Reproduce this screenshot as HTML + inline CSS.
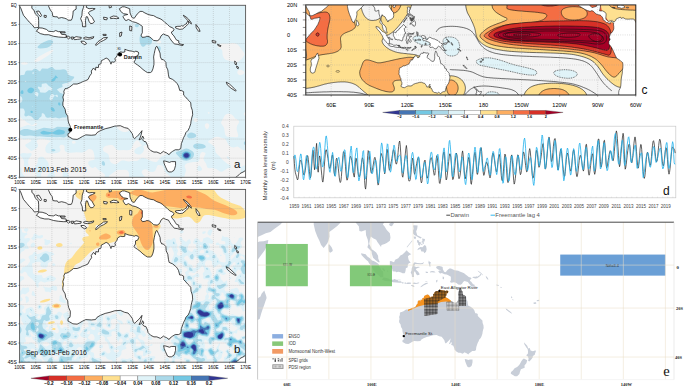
<!DOCTYPE html>
<html><head><meta charset="utf-8"><style>html,body{margin:0;padding:0;background:#fff;}svg{display:block;}</style></head><body>
<svg width="685" height="388" viewBox="0 0 685 388" font-family="Liberation Sans, sans-serif">
<rect width="685" height="388" fill="#fff"/>
<clipPath id="ca"><rect x="19.6" y="5.3" width="226" height="171.99"/></clipPath>
<g clip-path="url(#ca)">
<rect x="19.6" y="5.3" width="226" height="171.99" fill="#f3f3f3"/>
<path d="M18.6,4.3l228,0 0,107.5-1,.2-1,.6-.6,.7-.1,1 .1,.5 .6,.7 1,.4 1,.2 0,17.8-1.2,.4-.6,.5-.1,.5 .4,.5 1.5,.3 0,14.4-2.5-.3-2-.7-1.5-.9-2-1.7-1-.4-4,.9-1.5-.1-1.4-.5-1.1-.7-1.2-1.3-2.3-4.5-1-1.3-1-.5-5-1.5-1.5-.3-1.5,.1-2,.8-5.3,3.2-.6,.5-.2,.5 .2,.5 4.6,3 1.6,1.5 .6,1.5 .4,3.5 .5,1 .8,1 3.3,3 1.5,2 2.1,2 4,3.2 2.5,.9 .5,.4 .5,1 0,1.4-.5,.5-2-.2-1,.2-5,3.3-1,.2-1.5-.3-4-2.3-2-.7-2-.3-3,.2-1-.2-.5-.3-.5-.8-1-3.2-2-3-.5-1.5 0-1 .2-1 1.6-3 .1-1-.4-.5-1-.5-1.5-.2-.8,.2-.7,.4-.7,1.1-.5,2-.4,4-.9,1.6-1,.5-4,0-3.5,.5-2.9,.9-.9,.5-1.1,1-.5,1 0,1 1.1,2.5 .2,1.5-1.4,4.5-.3,3-13.3,0-.2-1-.7-1-3.8-3-1.2-1.5-.7-1.5-1-3-.6-1-.7-.7-1-.4-2-.3-1,.2-.5,.4-.6,.8-1.5,4-.9,1-1,.5-1.5,.2-2-.3-1-.4-2.5-1.8-1-.3-1.5,.2-1.5,.9-.8,1-.1,.5 .1,1 1.3,2.3 2.2,2.2 .2,1-16.5,0 0-4-.2-1.5-.4-1-.7-1-.7-.5-.9-.4-1.5-.1-3,.1-3.5-.1-1.5,.4-7,5.1-.7,1-.2,2-4.4,0 .8-3-.2-.5-.9-1-1.9-1.5-3.9-2.5-2.6-2.8-.5-.1-.5,.2-1.5,.9-1,.1-1-.5-1-.9-1.5-1.9-.3-1-.1-1 .4-1 .4-.5 1.6-.8 3-.4 .5-.2 .4-1.1-.1-3-.9-4-.9-1.6-1.5-.9-1.5-.4-1,.2-3.5,2.5-2,.7-1.5,.1-5-.1-5.5,.5-2.5-.1-2-.5-1.3-.9-.4-.5-.4-1 .1-3-.4-1-1.1-.9-1.5-.2-1.4,.6-.7,1 0,1.5 .8,1.5 .2,1-.4,1-.5,.5-2,.9-2.5,.5-4,.2-3-.2-1.5-.5-.8-.9-.5-1.5 .1-2.5 .5-1.5 .7-1.2 2-2.3 2.1-1.5-.1-.5-6.5-1.8-3-.3-1.5,.2-1.1,.4-1.5,1-.3,.5-.1,1 1.1,2.5 .3,1-.1,1-.6,1-1.2,1.1-3.5,2.2-1,.3-1-.5-4.7-3.6-.6-1-.1-.5 .2-.5 .5-.5 3.6-2 1.4-1 .3-.5 0-.5-.3-.5-.8-.6-1.5-.3-4.5,.6-1-.3-2.7-1.4-1.8-.5 0-9.2 1.5-.3 7.5-2.8 1,0 4,1 1,0 2-.7 1.7-1 0-.5-.8-.5-.9-.2-.7,.2-1.8,1.6-.5,.2-1,.1-2.5-1.7-2.5-1.2-1.9-2-2.6-1.3-1-1.1-1.5-2.4-1-1 0-110.2zM23.1,62.2l-1.7,.6-.4,.5 0,.5 1.1,.7 2,.2 2.5-.2 1.2-.7 0-.5-.6-.5-1.1-.4-1.5-.3-1.5,.1zM52.6,49.8l-1.5,.4-5,2.2-7.5,4.4-2.5,1.9-1,1.1-.6,1-.1,.5 .2,.4 .5,.3 1,0 3-.7 9.5-6 1.5-1.2 2.8-2.8 .6-1-.4-.5-.5,0zM75.6,119.1l-3.9,3.7-.3,.5-.1,1 .8,1.2 2,1.1 2.5,.8 2.1-.1 .9-.6 .7-.9 .3-1-.3-1-2.2-3.6-1.5-1.1-1,0zM95.1,124.2l-2,.9-1.4,1.2-1.4,2-.2,1.5 .6,2.5 1,1.5 1.4,.9 2.5,.3 1-.1 1-.5 2-1.8 2.2-3.3 .3-1 .1-1-.3-1-.3-.5-1.6-1-2.4-.8-1,0-1.5,.2zM118.6,122.7l-1,1-.7,1.1-.3,1 0,1 .5,1 .9,1 1.7,1.5 1.6,1 1.3,.5 1.5,.2 1.5,0 1.5-.3 1.5-.6 1.1-.8 1-1 .6-1 .1-1-.9-1-4.9-2.5-2-.7-2.5-.6-1.5-.1-1,.3zM158.1,40.2l-1,.5-.5,.6 0,1 .3,.5 .7,.5 1,.1 1.5-.2 .8-.4 .3-.5 .1-.5-.6-1-1.1-.6-1.5,0zM162.1,128.7l-2.4,1.1-1.1,.3-4.5,0-1,.4-.5,.4-2.5,3.9-.8,2 0,2 1.1,5 .1,1-.4,.4-.5,.1-3,0-2,.3-.9,.2-.6,.5 .9,2.5-.1,1.5-.7,1.5-.7,1-.9,.8-1,.6-1,.3-1,0-2-.4-1.5-.8-.4-.5-.4-1 .2-1.5 1.2-1.5 1.9-1.2 4.2-1.8-.1-.5-3.1-4.2-.5-.5-1-.4-1,.3-1.4,1.3-1.2,2-1.9,4.5-1,1.1-1.5,.7-2,.2-3.5-.2-4.5,.1-1.5-.2-1-.5-.9-.7-1.6-2.2-1-1-1-.5-1.5-.1-2,.2-2,.5-1.5,.5-.9,.6-.6,.6-.5,.9-.2,1 .2,1 .5,.9 .6,.6 2.9,1.5 1.1,1 .7,1.5 .6,4 1.1,2.1 1,1 1,.6 2,.7 1.5,0 1-.4 3.5-2.7 1.5-.7 2,0 3,.9 1.5,.2 4-.5 3.5,.1 1.5-.4 3.5-2.5 1.5-.4 1,.1 1.5,.3 6,2.7 2.5,.8 2,.4 1-.2 1-.8 3-3.7 1-.9 1-.4 2.5-.7 1-.8 .9-1.3 .5-1.5 0-2-.5-1.5-1.4-1.8-1.5-1-1-.2-.5,.7-.6,1.8-.7,1.5-.7,.8-1,.6-1.5-.1-2.8-1.3-2-1.5-.7-1 0-.5 .5-.4 1.8-.6 3.7-.9 3-.2 .6-.4 .3-1 .3-3.5 1-4.5 .2-2.5-.4-2.5-.5-.8-.5-.3-.5,0zM194.6,118.3l-.8,.5-.2,.5-.1,.5 .3,1 .8,.9 1,.3 .5,0 1-.4 .7-1.3 0-.5-.5-1-1.2-.8-1,.1-.5,.2zM206.6,123.2l-1,.5-.5,.6-.2,.5-.1,1 .3,1.1 1,1.6 .5,.5 .5,.1 1-.6 .8-1.2 .3-1 .1-1-.4-1-.5-.5-.8-.5-1-.1zM208.1,112.2l-.3,.6 .2,.5 .6,.5 .5-.1 .4-.4 .1-.5-.3-.5-.7-.3-.5,.2zM230.6,43.3l-3,.4-5-.2-2,.2-1.5,.5-.8,.6-.5,.5-.3,1 .6,1.1 3,1.9 1,1 .3,1 .1,3 .5,2 1,2 1,1 1.1,.6 2,.7 6,1.1 2.5,.2 2-.5 1.5-.9 1-1 2.5-3.2 .5-1 .3-1-.4-1.5-4.9-6.8-1.5-1.5-1.5-.8-1.5-.4-2-.2-2,.2zM45.1,87.1l-.6,1.7 .1,.6 .5,.1 .5-.6 .1-.6-.1-1.1-.5-.1zM73.6,140.7l-1,.4-.5,.6-.2,.6 .2,.8 .5,.4 1,.2 1-.1 .8-.3 .3-.5-.2-1-.9-.9-1-.2zM227.6,113.8l-1.5,.5-1.5,1.3-1.8,3.7-1.7,3 0,.5 .3,1 2.1,3 .7,1.5 .6,4.5 .5,2 .8,1.3 .5,.4 .9,.3 5.1,.2 3.5,.3 1-.1 .7-.4 .3-.5 .2-1-1.5-5-.2-2.5 .5-2 1.8-3 .2-1-.3-1-.9-1-2.8-1.4-1.9-2.6-1.6-1.4-2-.7-2,.1zM239.6,69.7l-1.4,.6-.7,1-.2,1.5 .3,.8 .5,.7 1,.7 1.5,.2 1.5-.4 1.7-1 .6-1-.2-1-.3-.5-1.8-1.1-1.5-.4-1-.1zM21.9,153.3l1.7-.2 4,.3 3-.3 .5,.1 .5,.6 0,1-.1,.5-2.4,3.3-.9,1.7-.2,2 .5,2.5 0,1-.2,.5-.7,.5-2,.2-1-.2-.6-.5-.1-1 .3-2.5-.3-2-1-2-2.4-3-.4-1 .1-.5 .6-.5 1.1-.5zM40.5,156.8l1.6-.1 1,.3 1,.8 2.9,3 .7,1 .7,1.5 .3,1 0,1.5-.3,1-.8,1-4,2.5-1,1-1.1,1.5-.4,1-.1,1 .6,3.5-5.1,0 .2-3.5-.5-1.5-1.7-3.5-.2-1.5 .4-1 1.6-2 .8-1.5 .5-1.5 .3-3 .3-1 .9-.9 1.4-.6zM226.6,156.8l.5-.2 .5,0 1,.4 1,1.2 0,.9-.5,.3-1-.6-1.1-1-.3-.5-.1-.5zM198.5,165.8l.6-.2 1,.5 1,1.1 .7,1.1 .2,1-.1,.5-.4,.5-.8,.5-1.1,.2-1-.1-.9-.6-.3-.5-.3-1 .1-1 .4-1 .9-1zM243,165.8l1.1-.3 2.5,0 0,12.8-4.3,0-.4-2.5-1.1-4-.1-2 .2-1.5 .5-1 .7-.9 .9-.6zM18.6,167.8l0-.4 1.5,.1 .9,.3 .5,.5 0,3 .4,1.5 .9,1.5 2,2.5 .5,1.5-6.7,0 0-10.5zM51.3,170.8l.8-.2 1,.3 1,1.4 .6,2.5 .2,3.5-7.9,0 .3-1.5 .7-1.5 2.1-3.3 1.2-1.2zM64,171.8l.6-.2 1,0 1,.4 1,.8 .6,1 .4,1 .5,3.5-6.3,0-.1-3 .1-1.5 .3-1 .9-1z" fill="#def1f8" fill-rule="evenodd"/>
<path d="M135.5,24.3l1.1-.4 1.5,.3 .6,.6 .2,.5-.2,1-.4,.5-.7,.4-1,.1-1-.4-.6-.6-.2-.5 .2-1 .5-.5zM141.3,34.8l.8-.1 1,.3 2.5,1.7 1,0 1.5-.6 1-.2 1,.3 .9,.6 .9,1.5 .3,1.5-.3,2.5-.8,1.6-.5,.4-1,.4-3-.2-.5,.3-1.5,1.5-1,.5-1-.1-1-.7-.8-1.2-.7-1.5-.4-1.5-.2-2 .1-2 .3-1.5 .7-1.1 .7-.4zM48.2,40.3l1.9-.3 1.5,.2 1,.6 .6,1-.2,1-.6,1-1.3,1.5-1.5,1.2-1,.6-1.5,.6-3.5,.6-3.5,.2-1.3-.2-1.1-.5-.2-.5 .4-1 2.8-2.5 3.4-1.8 4.1-1.7zM158.8,46.3l.8-.1 .5,.4 .4,.7 .2,1-.2,1.5-.3,1-.6,.7-.5,0-.5-.3-.5-.8-.3-1.6 .2-1.5 .8-1zM50.6,67.3l1-.2 1,.2 1.9,2 1.1,.4 4.5,0 3-.4 2,.3 1,.6 .5,.6 .5,1 .5,2 .5,.7 3,1.5 2.5,.4 .6,.4-.1,1-.5,.8-3,2.9-3.5,1.4-2,.3-2.5,.8-.4,.3 0,.5 .4,1.5-.1,.5-.4,.5-2.5,.7-2.4,1.3 0,.5 .3,.5 1.1,.9 1.4,1.6 2.1,.8 2,1.6 5,2.6 1,1 .1,.5-.2,.5-1,1-.5,1 .4,2.5 1,2 0,1-.6,1-1.5,1.5-.4,1-.2,1 .3,2.5-.9,2.9-.5,.4-.5,0-3-.1-3.5,.9-3.5-.9-2.5,.5-1-.1-1.5-.6-2,.4-1.5,0-.9-.4-.6-.5-.8-2-.7-.9-1-.6-1-.1-.4,.6 0,1.5-.2,1-.5,.5-1.4,1-1.5,2-1.5,.3-1-.1-1-.3-2.8-2.9-1.7-.9-1.5-.3-2.5,.9-1-.2-.5-.5-.3-1 .5-2 .1-1-.7-2-.6-1-1-.4-2.5,.2-1.5-.6 0-2.6 .5-1.6 .5-.7 1.5-.7 .5-.5 .7-1.6 .1-1-.6-2-.7-.9-.5-.2-2-.1 0-4.6 .4-.7 .1-1-.1-1-.4-1 0-11.2 2.5-1.5 2-.1 1-.2 .5-.5 .8-2.5 .7-.8 1-.4 5,0 1.3-1.3 .9-.5 .8-.1 1,.2 .8,.4 2.2,1.8 .5,.2 .5-.1 .4-.4 1.1-1.8 .5-.4 1-.1 4.5,.3 3-1.5zM56.6,94.7l-1.3,.6-.1,.5 1.4,1 1.1,.5 .2-.5-.3-1.5-.5-.6-.5,0zM25.6,80.7l-.5,.3-.1,.3 .1,.6 .5,.2 .5-.3 0-.5-.5-.6zM33.1,71.8l-.5,.6-.1,.9 .1,.7 .5,.3 .5-.6 .1-.9-.1-.5-.5-.5zM35.6,92.2l-.7,.6-.3,.5 .1,1 .9,1.1 1.5,1.2 .5,.1 .8-1.9 0-1.5-.4-.5-.9-.6-.5-.2-1,.2zM42.6,83.7l-.5,.1-.4,.5 0,2-.1,.5-.5,.4-.5,0-2-.7-.5,.2-.3,.6 .2,1 1.6,1.8 .3,1.7 .2,.5 1,.3 4,.1 1.5-.6 2-1.9 .5-.2 2,.4 .5,0 .5-.4 .3-1.2-.7-1-3.1-2.1-2-2.1-1-.3-3,.4zM32.6,106.1l-.2,.2 .2,.5 .5-.2 0-.3-.5-.2zM51.6,94.2l-1.2,1.1-1,3.5 .6,1 1.1,.6 .5-.1 .5-.4 1.5-2.8 1-1.2 .2-.1-.3-.5-1.4-1.1-1-.2-.5,.2zM67.9,87.3l1.2,.1 .5,.7 0,.7-1.3,1.5-.7,.4-.5,0-.5-.1-.9-.8-.5-1 .1-.5 .8-.6 1.8-.4zM87.3,102.3l.8-.3 1.3,.3 .7,.6 .1,.9-.5,.5-.6,.2-1,.1-.5-.2-.7-.6-.1-.5 .1-.5 .4-.5zM95,109.8l1.1-.3 1,.3 1,.7 1,1.3 .6,1 .4,1.5 0,1-.6,1-1.4,.2-3.5-.6-1-.4-.5-.5-.3-.7-.2-1 .3-1.5 .8-1 1.3-1zM173.5,110.3l2.1-.4 1,.2 1,.8 .5,1.9-.4,7.5-.7,2.5-2,4.5-.2,1.5 .1,1.5 .9,2 2.3,3.8 1.5,1.8 2.5,1.9 .5,.7 .1,.8-.2,.5-.9,.4-2.5-.1-2,.6-1.5,1-2,1.9-1,.5-.5-.1-1-.4-1.5-1.3-1.4-2-.9-2-.4-2-.1-2.5 .3-2.5 1.1-4.5 0-2.5-1-2.5-2.7-4.5-1.9-4.3-.3-1.2 .2-1 .6-1 1-.9 1-.4 1.5-.2 4.5,.3 2.4-.3zM70.8,112.3l.3-.2 .5,.2 0,.8-.5,.4-.5-.7 .2-.5zM135.5,116.3l.6-.4 .5,0 .6,.4 .1,1-.7,1-.5,.2-.5-.1-.5-.6 0-.6 .4-.9zM57.4,126.8l10.7,.4 1,.5 5.4,4.1 .5,.5 .2,.5-.2,.5-.9,.6-3,.2-1.5,.4-2,1-2.5,1.8-1.5,.3-3.5-.5-3.5,.2-5-.4-4.5,.1-7.5-.7-3.5,.3-3.5-.8-3-.3-5.5,.4-2-.5-3.5-1.6 0-2.2 3.5-1.8 2-.7 2-.2 1.5,.1 5.5,1.4 1.5,.1 3-.7 6-2 1,0 2,.3 6,.6 1.9-.4 2.1-1.3 .8-.2zM190,132.8l1.1-.2 1.5,.1 2,.8 1,.8 .6,1 0,1-.3,.5-.6,.5-1.2,.5-2.5,.5-2,0-1.5-.6-.8-.9-.2-.5 .2-1.5 1.3-1.4 1.4-.6zM244.9,141.3l1.7-.5 0,5-1.5-.5-.6-.5-.6-1-.1-1 .2-.5 .9-1zM195.6,143.8l1.5-.3 1.5,0 3.5,.6 1.5,.5 1.3,.7 .5,.5 .4,1-.1,.5-.6,.5-2,.7-5,.6-2.5-.3-1.7-1-.6-1-.1-.5 .2-1 .4-.5 .8-.6 1-.4zM184.9,148.8l1.7-.3 2,.6 3.5,1.9 .9,.8 .7,1 .3,1 0,1-.6,2-1.1,1.5-1.7,1.2-2,.8-2,.4-2-.1-1.5-.4-2.2-1.4-4.8-5-.2-.5 0-.5 .3-.5 .8-.5 3.1-1 4.8-2zM52.1,149.3l1.5-.2 1,.3 .6,.4 .2,.5-.2,.5-1.1,.5-1,.1-1-.3-.6-.3-.2-.5 .1-.5 .7-.5zM102.6,161.3l.5-.2 .5,.1 .6,.6 .6,1 .2,1 0,1-.4,.6-.5,.3-.5,0-1-.4-.7-1-.2-1.5 .4-1 .5-.5z" fill="#abd9e9" fill-rule="evenodd"/>
<path d="M55.1,75.8l.5-.3 .5,.2 1.8,2.1-.3,.4-1-.1-.5,.2-.5,.6-.5,1.4-1.2,1-1.3,.5-1,0-.3-.5 0-.5 .4-1 .9-1.1 1.9-1.4 .6-1.5zM29.8,87.8l1.3-.2 1.5,.5 1.1,.7 .6,1-.1,.5-.5,1-1.1,1.2-1,.7-1,.1-1.5-.4-1-.6-.7-1 0-1 .2-.5 1-1.2 1.2-.8zM21.8,90.3l.8,0 .5,.4 .2,.6 .2,1-.2,1-.2,.4-.5,.3-1.5-.2-.6-.5-.1-.5 .5-1.5 .9-1zM58.3,102.8l.3-.4 .5-.1 1,.8 .5,1.2-.1,.5-.4,.6-.5,.2-.5-.1-.8-.7-.2-1 .2-1zM51.4,107.3l.7-.1 .5,.2 1.2,.9 .8,1.5 .2,1-.2,.5-.5,.3-1-.1-1-.4-.8-.8-.6-1.5 .2-1 .5-.5zM31,110.8l.6,0 1,.5 .3,.5 0,.5-.3,.5-1,.3-.5-.2-.5-.5-.1-1.1 .5-.5zM57.3,129.8l1.3-.4 1,0 4,1.2 1.1,.7 .2,.5-.1,1-.7,.9-1,.6-5,.4-2.5-.3-3.5-1-4,1-5,0-1.9-.6-.6-.5-.2-.5 .1-.5 1.1-.9 2-.6 1,.1 3,.8 4,.6 1-.1 4.7-2.4zM185.6,151.3l2,.1 1.5,.6 1.1,.8 .9,1.5 .1,1.5-.6,1.5-1,1-1.5,.8-2,.3-2-.5-1.4-1.1-.9-1.5-.1-1.5 .6-1.5 1.3-1.3 2-.7z" fill="#74c8e3" fill-rule="evenodd"/>
<path d="M184.7,152.8l.9-.3 1.5-.1 1,.4 1,.7 .5,.8 .3,1-.2,1-.6,1-1,.7-1.5,.4-1.5-.2-1.3-.9-.7-1-.1-1.5 .6-1.1 1.1-.9z" fill="#4575b4" fill-rule="evenodd"/>
<path d="M184.9,153.8l.7-.3 1-.2 1,.3 .5,.4 .5,.7 .2,.6-.2,1-.4,.5-.6,.5-1,.2-1-.1-1-.6-.3-.5-.3-1 .4-1 .5-.5z" fill="#313695" fill-rule="evenodd"/>
<path d="M156.83,46.2 L158.45,49.25 L160.06,53.07 L160.38,56.9 L161.68,59.57 L163.29,59.57 L165.87,62.25 L166.2,66.45 L167.81,69.89 L168.46,74.86 L169.1,77.92 L172.65,79.45 L175.88,82.12 L177.18,83.65 L178.47,85.94 L179.76,90.53 L181.37,90.53 L183.63,91.68 L183.63,95.12 L185.25,96.65 L187.51,99.32 L189.12,100.85 L190.74,102.76 L191.06,106.58 L192.35,110.41 L192.67,114.61 L191.71,118.05 L191.06,121.11 L190.74,123.78 L189.45,127.6 L188.15,130.28 L185.89,132.57 L184.92,135.25 L183.63,137.54 L182.66,140.22 L181.37,143.66 L180.73,148.62 L178.47,149.77 L175.24,149.77 L172.65,151.3 L170.07,153.21 L169.1,154.74 L166.52,152.83 L164.58,152.06 L163.61,151.3 L162.97,151.68 L160.38,153.59 L156.83,152.06 L153.93,152.06 L150.7,150.54 L148.11,147.86 L147.47,145.19 L145.85,141.75 L143.92,141.36 L142.62,139.83 L143.92,138.31 L142.62,136.01 L141.66,138.69 L139.07,139.83 L140.36,137.16 L141.33,134.1 L141.98,130.66 L140.04,133.34 L138.1,135.25 L135.84,137.54 L134.55,138.69 L133.26,137.16 L132.29,133.72 L130.03,130.66 L128.09,128.37 L124.54,127.6 L120.34,125.69 L114.86,126.08 L110.01,127.6 L105.17,128.75 L100.33,130.66 L97.1,132.57 L95.48,134.87 L91.28,135.25 L85.79,134.87 L82.57,136.39 L79.34,138.31 L77.08,139.45 L72.88,139.07 L69.65,137.16 L68.03,136.39 L68.03,133.72 L69.97,132.57 L70.3,129.52 L70.3,126.46 L68.68,123.02 L68.03,119.96 L67.71,116.14 L65.77,113.08 L65.13,109.26 L62.87,105.44 L62.87,102.76 L63.51,100.09 L62.87,97.03 L64.16,93.21 L63.84,91.3 L65.13,88.62 L66.74,88.62 L69.65,87.09 L73.52,84.03 L77.08,84.03 L80.31,82.89 L82.57,81.74 L85.79,80.59 L88.05,79.45 L89.67,76.01 L91.61,73.33 L91.28,71.04 L93.54,67.98 L95.48,70.27 L95.8,67.22 L98.39,67.6 L98.71,64.54 L100.97,63.78 L101.29,60.72 L103.55,59.57 L106.14,58.04 L108.4,59.19 L110.33,62.25 L110.98,64.16 L111.63,61.87 L114.21,62.25 L115.5,60.72 L114.86,58.81 L117.12,55.75 L117.44,53.84 L119.05,52.69 L120.67,51.93 L122.93,52.31 L124.87,51.93 L124.87,49.25 L126.8,50.02 L129.06,50.78 L131.97,51.16 L134.23,51.93 L135.84,51.16 L138.1,51.93 L138.75,53.07 L137.78,55.75 L135.52,56.51 L135.52,59.57 L133.91,62.25 L135.2,63.39 L137.46,64.92 L140.04,66.83 L142.95,69.51 L145.53,71.42 L147.47,72.57 L150.37,72.57 L151.67,71.8 L152.96,68.75 L153.93,64.54 L153.93,60.72 L153.6,56.9 L154.25,53.46 L154.9,50.4 L155.86,46.96Z M163.61,160.86 L165.87,161.24 L169.43,162.38 L171.36,161.62 L175.56,161.62 L175.56,165.44 L174.59,168.88 L173.95,170.41 L171.36,171.94 L169.1,171.94 L167.49,171.17 L165.55,166.97 L164.26,163.91Z M119.38,8.74 L122.28,6.83 L124.54,6.83 L127.77,7.98 L129.71,8.74 L130.03,12.94 L131.97,17.53 L134.23,18.29 L137.14,14.09 L140.04,11.42 L142.3,11.42 L144.89,12.94 L148.11,14.47 L151.02,15.24 L153.6,15.62 L156.83,17.53 L160.06,18.68 L162.64,20.21 L164.91,22.5 L167.49,24.41 L169.75,26.7 L172.65,27.85 L173.95,29.38 L173.3,30.91 L171.36,32.05 L172.01,33.96 L173.95,35.88 L175.24,38.17 L176.53,40.08 L178.79,40.84 L178.79,43.14 L181.05,44.28 L183.63,44.67 L182.02,45.81 L180.08,45.05 L177.18,44.28 L174.27,43.9 L172.65,41.99 L171.04,40.08 L169.75,38.17 L168.46,35.88 L165.87,35.11 L163.29,33.96 L161.03,35.88 L160.06,38.17 L159.09,39.7 L157.16,40.84 L153.6,40.46 L151.34,38.17 L149.08,36.64 L146.82,36.26 L145.21,37.02 L142.3,37.4 L141.01,35.11 L142.3,32.82 L142.3,26.32 L139.07,24.03 L135.84,22.5 L132.62,21.73 L128.42,19.44 L126.16,20.59 L125.19,20.21 L122.93,16.77 L124.22,15.24 L127.77,14.47 L126.16,14.09 L123.57,13.71 L120.67,11.42Z M175.56,26.7 L177.82,26.32 L180.4,26.32 L181.7,25.56 L182.99,26.32 L184.92,24.41 L186.22,24.03 L187.51,21.35 L188.8,21.73 L188.48,23.65 L185.89,26.32 L182.66,29 L179.76,29.38 L177.18,28.61 L175.56,27.85Z M183.31,15.24 L185.89,16.77 L188.48,19.06 L191.06,22.5 L191.38,24.03 L190.09,22.88 L187.51,20.21 L184.28,16.77Z M195.9,24.41 L198.81,28.23 L200.1,31.29 L198.49,31.29 L196.23,27.85Z M226.26,82.12 L229.49,84.03 L234.33,88.62 L236.27,90.53 L235.3,90.91 L231.1,88.24 L227.22,84.8Z M254.35,160.09 L259.51,162.77 L258.22,166.59 L255.32,169.65 L255.64,172.7 L249.83,174.61 L248.21,178.44 L247.57,180.73 L244.02,183.41 L240.46,183.41 L238.2,182.26 L234.33,180.35 L234.65,178.05 L237.56,176.14 L240.14,173.47 L244.02,171.56 L247.24,168.88 L249.5,165.82 L250.47,163.91 L252.41,161.62Z M254.35,136.78 L256.61,139.07 L259.51,142.13 L261.13,145.95 L263.39,145.19 L264.68,149.01 L268.23,150.15 L271.46,149.01 L273.08,149.39 L271.46,153.59 L271.14,155.12 L268.23,156.65 L267.91,158.94 L265.65,161.62 L262.74,164.3 L260.81,163.15 L261.78,160.47 L260.48,157.42 L257.9,155.5 L260.48,153.59 L260.81,150.54 L260.16,146.71 L258.22,144.42 L255.32,140.22Z M36.39,31.29 L38.97,27.85 L42.2,28.04 L46.4,29.38 L48.66,31.29 L53.5,31.67 L55.76,30.53 L58.35,31.67 L60.29,31.67 L61.58,34.35 L66.1,34.73 L66.42,37.4 L63.19,37.4 L58.35,37.02 L53.5,36.26 L48.66,34.73 L44.79,34.73 L40.27,33.58 L37.36,31.67Z M60.61,31.67 L65.13,31.86 L65.13,32.82 L60.61,32.82Z M66.1,36.26 L68.36,36.26 L70.3,37.4 L68.68,38.93 L66.74,37.4Z M71.26,37.02 L73.52,37.02 L72.88,39.32 L71.26,38.93Z M73.85,37.79 L76.11,36.64 L78.37,37.02 L81.27,37.4 L80.95,38.93 L77.72,39.32 L74.49,39.7 L73.85,38.55Z M83.53,37.79 L85.79,37.02 L89.02,37.79 L92.25,37.02 L93.87,36.64 L93.22,38.17 L90.64,38.93 L87.41,39.32 L84.18,38.93Z M80.95,41.23 L84.18,41.23 L86.76,43.52 L84.83,44.67 L81.6,42.76Z M95.48,44.67 L98.06,41.61 L100.97,39.7 L103.55,37.79 L107.43,37.4 L106.78,38.55 L103.55,40.46 L100.33,41.99 L97.74,44.28 L95.8,45.43Z M102.91,34.35 L106.14,34.35 L106.14,35.49 L103.23,35.49Z M119.7,32.82 L121.96,32.05 L121.31,35.88 L119.7,36.64Z M129.71,25.94 L131.97,26.7 L131.65,30.91 L129.71,30.53Z M110.01,17.53 L113.24,16 L116.47,16.38 L119.05,18.29 L116.47,18.68 L113.24,18.29 L110.66,18.68Z M103.55,17.15 L107.43,17.91 L106.78,19.82 L103.88,19.44Z M108.4,-3.11 L110.01,-0.43 L112.27,0.33 L110.01,1.86 L112.6,3.39 L110.01,4.15 L111.63,7.21 L109.37,7.98 L108.72,3.39 L107.75,1.48Z M86.76,0.33 L90.64,1.48 L95.48,1.86 L98.71,1.48 L100.97,-0.82 L99.68,3.39 L95.48,3.77 L90.64,3.39 L87.41,3.39 L86.12,7.21 L89.02,8.74 L92.25,8.36 L95.16,8.74 L92.58,10.27 L89.67,11.42 L88.38,12.94 L89.99,15.24 L92.25,17.53 L94.51,21.73 L92.9,23.26 L90.64,23.65 L89.02,21.35 L87.41,16.77 L86.12,16.77 L85.47,20.59 L85.79,26.7 L82.57,26.7 L82.24,22.5 L80.63,18.68 L81.92,15.62 L82.24,11.03 L83.53,7.21 L84.18,3.39Z M48.66,-1.58 L50.6,-2.34 L51.89,-1.2 L55.12,-0.05 L56.73,-4.25 L59.96,-6.17 L61.58,-6.93 L64.81,-12.28 L68.03,-13.81 L71.26,-17.63 L74.49,-21.45 L76.11,-19.54 L77.72,-17.63 L81.6,-14.57 L78.69,-13.05 L76.43,-10.75 L77.08,-6.17 L77.72,-3.49 L80.63,1.1 L77.72,1.86 L76.11,5.3 L76.11,9.12 L73.2,11.03 L72.88,14.86 L72.23,18.29 L71.26,20.21 L68.03,20.21 L66.74,19.06 L64.81,18.29 L61.58,17.53 L58.35,18.29 L57.38,16.77 L55.12,16.77 L52.86,16.38 L52.21,12.56 L50.28,9.89 L48.66,6.45 L48.66,3.39Z M4.42,-16.1 L11.53,-14.57 L14.11,-10.37 L17.99,-6.93 L21.21,-3.11 L23.8,-2.34 L26.06,-0.82 L29.29,1.48 L31.87,4.15 L31.87,8.36 L33.81,9.89 L35.42,14.09 L38.33,16.77 L38.65,20.59 L38.65,27.47 L36.39,27.47 L34.45,27.85 L32.52,25.17 L29.29,22.12 L27.03,19.44 L23.47,15.24 L21.86,11.03 L20.57,7.59 L18.63,4.54 L16.37,1.48 L15.4,-1.2 L12.17,-4.25 L8.3,-8.84 L5.07,-13.05Z M36.39,11.42 L38.97,11.03 L41.56,15.24 L40.59,16.77 L38.33,14.47Z M44.14,15.24 L46.4,15.62 L46.08,17.53 L44.14,17.15Z M90.64,-21.45 L92.25,-25.28 L95.48,-27.57 L98.71,-27.19 L101.94,-31.01 L104.2,-29.1 L105.17,-23.36 L104.2,-18.78 L101.62,-16.1 L100.33,-19.54 L97.1,-19.54 L95.48,-23.75 L93.22,-22.98Z M212.05,40.46 L215.92,41.23 L215.6,43.14 L212.37,42.37Z M217.54,44.28 L221.09,45.81 L220.44,46.58 L217.86,45.43Z M234.65,61.1 L236.59,62.63 L236.27,64.92 L234.97,64.16Z M236.59,66.07 L238.53,67.22 L238.2,68.75 L236.91,67.98Z" fill="#fff" stroke="#111" stroke-width="0.75" stroke-linejoin="round"/>
<path d="M35.75,5.3V177.29 M51.89,5.3V177.29 M68.03,5.3V177.29 M84.18,5.3V177.29 M100.33,5.3V177.29 M116.47,5.3V177.29 M132.62,5.3V177.29 M148.76,5.3V177.29 M164.91,5.3V177.29 M181.05,5.3V177.29 M197.19,5.3V177.29 M213.34,5.3V177.29 M229.49,5.3V177.29 M19.6,24.41H245.6 M19.6,43.52H245.6 M19.6,62.63H245.6 M19.6,81.74H245.6 M19.6,100.85H245.6 M19.6,119.96H245.6 M19.6,139.07H245.6 M19.6,158.18H245.6" stroke="#9a9a9a" stroke-width="0.5" stroke-dasharray="0.7,1.3" fill="none"/>
</g>
<rect x="19.6" y="5.3" width="226" height="171.99" fill="none" stroke="#555" stroke-width="0.9"/>
<path d="M18.4,5.3H19.6" stroke="#333" stroke-width="0.5"/>
<path d="M18.4,24.41H19.6" stroke="#333" stroke-width="0.5"/>
<path d="M18.4,43.52H19.6" stroke="#333" stroke-width="0.5"/>
<path d="M18.4,62.63H19.6" stroke="#333" stroke-width="0.5"/>
<path d="M18.4,81.74H19.6" stroke="#333" stroke-width="0.5"/>
<path d="M18.4,100.85H19.6" stroke="#333" stroke-width="0.5"/>
<path d="M18.4,119.96H19.6" stroke="#333" stroke-width="0.5"/>
<path d="M18.4,139.07H19.6" stroke="#333" stroke-width="0.5"/>
<path d="M18.4,158.18H19.6" stroke="#333" stroke-width="0.5"/>
<path d="M18.4,177.29H19.6" stroke="#333" stroke-width="0.5"/>
<path d="M19.6,177.29V178.49" stroke="#333" stroke-width="0.5"/>
<path d="M35.75,177.29V178.49" stroke="#333" stroke-width="0.5"/>
<path d="M51.89,177.29V178.49" stroke="#333" stroke-width="0.5"/>
<path d="M68.03,177.29V178.49" stroke="#333" stroke-width="0.5"/>
<path d="M84.18,177.29V178.49" stroke="#333" stroke-width="0.5"/>
<path d="M100.33,177.29V178.49" stroke="#333" stroke-width="0.5"/>
<path d="M116.47,177.29V178.49" stroke="#333" stroke-width="0.5"/>
<path d="M132.62,177.29V178.49" stroke="#333" stroke-width="0.5"/>
<path d="M148.76,177.29V178.49" stroke="#333" stroke-width="0.5"/>
<path d="M164.91,177.29V178.49" stroke="#333" stroke-width="0.5"/>
<path d="M181.05,177.29V178.49" stroke="#333" stroke-width="0.5"/>
<path d="M197.19,177.29V178.49" stroke="#333" stroke-width="0.5"/>
<path d="M213.34,177.29V178.49" stroke="#333" stroke-width="0.5"/>
<path d="M229.49,177.29V178.49" stroke="#333" stroke-width="0.5"/>
<path d="M245.63,177.29V178.49" stroke="#333" stroke-width="0.5"/>
<text x="10.9" y="7.2" font-size="5.3" textLength="5.9" lengthAdjust="spacingAndGlyphs">EQ</text>
<text x="11.2" y="26.31" font-size="5.3" textLength="5.6" lengthAdjust="spacingAndGlyphs">5S</text>
<text x="7.8" y="45.42" font-size="5.3" textLength="9.0" lengthAdjust="spacingAndGlyphs">10S</text>
<text x="7.8" y="64.53" font-size="5.3" textLength="9.0" lengthAdjust="spacingAndGlyphs">15S</text>
<text x="7.8" y="83.64" font-size="5.3" textLength="9.0" lengthAdjust="spacingAndGlyphs">20S</text>
<text x="7.8" y="102.75" font-size="5.3" textLength="9.0" lengthAdjust="spacingAndGlyphs">25S</text>
<text x="7.8" y="121.86" font-size="5.3" textLength="9.0" lengthAdjust="spacingAndGlyphs">30S</text>
<text x="7.8" y="140.97" font-size="5.3" textLength="9.0" lengthAdjust="spacingAndGlyphs">35S</text>
<text x="7.8" y="160.08" font-size="5.3" textLength="9.0" lengthAdjust="spacingAndGlyphs">40S</text>
<text x="7.8" y="179.19" font-size="5.3" textLength="9.0" lengthAdjust="spacingAndGlyphs">45S</text>
<text x="14.25" y="183.99" font-size="5.2" textLength="10.7" lengthAdjust="spacingAndGlyphs">100E</text>
<text x="30.4" y="183.99" font-size="5.2" textLength="10.7" lengthAdjust="spacingAndGlyphs">105E</text>
<text x="46.54" y="183.99" font-size="5.2" textLength="10.7" lengthAdjust="spacingAndGlyphs">110E</text>
<text x="62.68" y="183.99" font-size="5.2" textLength="10.7" lengthAdjust="spacingAndGlyphs">115E</text>
<text x="78.83" y="183.99" font-size="5.2" textLength="10.7" lengthAdjust="spacingAndGlyphs">120E</text>
<text x="94.98" y="183.99" font-size="5.2" textLength="10.7" lengthAdjust="spacingAndGlyphs">125E</text>
<text x="111.12" y="183.99" font-size="5.2" textLength="10.7" lengthAdjust="spacingAndGlyphs">130E</text>
<text x="127.27" y="183.99" font-size="5.2" textLength="10.7" lengthAdjust="spacingAndGlyphs">135E</text>
<text x="143.41" y="183.99" font-size="5.2" textLength="10.7" lengthAdjust="spacingAndGlyphs">140E</text>
<text x="159.56" y="183.99" font-size="5.2" textLength="10.7" lengthAdjust="spacingAndGlyphs">145E</text>
<text x="175.7" y="183.99" font-size="5.2" textLength="10.7" lengthAdjust="spacingAndGlyphs">150E</text>
<text x="191.84" y="183.99" font-size="5.2" textLength="10.7" lengthAdjust="spacingAndGlyphs">155E</text>
<text x="207.99" y="183.99" font-size="5.2" textLength="10.7" lengthAdjust="spacingAndGlyphs">160E</text>
<text x="224.14" y="183.99" font-size="5.2" textLength="10.7" lengthAdjust="spacingAndGlyphs">165E</text>
<text x="240.28" y="183.99" font-size="5.2" textLength="10.7" lengthAdjust="spacingAndGlyphs">170E</text>
<text x="23.9" y="171.75" font-size="6.8" fill="#111" textLength="62.5" lengthAdjust="spacingAndGlyphs">Mar 2013-Feb 2015</text>
<text x="234" y="167.59" font-size="11.5" fill="#111">a</text>
<circle cx="120" cy="54.5" r="2.1" fill="#000"/>
<text x="123.8" y="58.7" font-size="5.45" font-weight="bold" fill="#1a1a1a">Darwin</text>
<text x="117.4" y="50.3" font-size="2.6" fill="#111">ED</text>
<circle cx="70.3" cy="129.7" r="2.0" fill="#000"/>
<text x="74" y="129.3" font-size="5.5" font-weight="bold" fill="#1a1a1a">Freemantle</text>
<clipPath id="cb"><rect x="19.6" y="189.4" width="226" height="172.8"/></clipPath>
<g clip-path="url(#cb)">
<rect x="19.6" y="189.4" width="226" height="172.8" fill="#f3f3f3"/>
<path d="M18.6,227.9l0-.3 1,.2 1.6,1.1 .7,1-.1,1.5 .3,.7 .5,.3 2,.5 1,0 .9-.5-.3-.5-2.1-1.5-.3-.5 0-.5 .4-.5 .9-.5 1-.2 1,.1 1,.6 .3,.5-.1,.5-1.6,2-.1,.5 .7,1 .2,.5-.2,.5-2.2,1.5-.6,1-.1,1 .4,.5 .8,.2 2-.7 1,0 1.5,.5 .2,.5-1.1,2-1.7,1.5-.6,1 .1,1.5 1.7,2.5 .1,1-.7,.5-2.5,.1-1,.4-.9,1.5-2.1,.9-1.6,2.6-.6,.5-.8,.3 0-19.5 .4-.8 .1-.5-.2-1-.3-.4 0-5.1zM210,229.4l1.6,0 .6,.5 .3,1-.9,2-.6,2-.4,.6-.5,.2-1-.4-1-.7-.4-.7-.3-1 .3-1 .9-1.5 .4-.5 1-.5zM180.7,230.4l.9-.3 1.1,.3 .9,1 .1,.5-.3,.5-.8,.6-1,.4-1-.2-.5-.3-.3-.5 0-1 .9-1zM203.3,231.4l1.8-.1 .5,.1 .3,.5-.5,1-1.3,.8-1,.3-.5-.2-.2-.4-.1-1 .3-.6 .7-.4zM33.9,233.9l.7-.3 1,.1 2.5,1.7 1,.3 1-.1 1.5-.7 .9,0 .5,1 0,1-.4,.7-2,.8-3-.1-1.5,.3-.6,.3-1.4,1.4-.5,.2-.5-.2-2.1-1.9 .3-.5 1.9-1.5 .4-2 .3-.5zM222.2,235.9l.4-.3 1,1 1,.5 2.5,0 1,.3 2.5,2.3 .6,2.2 .5,1 .9,.9 1,.4 1.2-.3 1.3-1 2.4-3.5 .2-1 .4-.3 1.5-.5 1-.2 1.3,.5 .4,.5 0,1-1.7,1.5-.6,1-.3,1 .2,1 1,1.5 .2,1.5-.6,1-2.8,2-.4,1 .2,.5 3.1,3.2 2.5,.3 2.5-.1 0,26.2-1,.2-.1,1.7-.4,1-.5,.8-1,.4-2,0-2.1,.3-.4-.2-.6-1.8-.9-1.1-1-.4-1.5,0-.3-.5 0-.5 .8-1.1 1-3 2.1-1.9 1.9-1.3 .4-.7 0-1-.4-.8-2-1.9-2.7,2.7-.1,.5 .8,2-.1,1-.4,.4-.5-.1-.5-.6-1-1.7-.5-.3-2.5,.1-2-1-1.2-.3-.6-.5-.7-1.3-.5-.3-1-.3-.5,.1-.5,.3-.2,1 .2,.7 .5,.7 1.3,.6 .2,.5-.4,.5-1.6,.8-1,.2-2.5-1-.5,.1-.3,.4-.1,.5 .9,2 .2,2 .2,.5 1.6,1.3 .9,1.2 .6,.2 .5-.1 1.1-1.1 .9-.5 .5,.4 .1,2.1 .8,3-.4,.5-2,1-.9,1-.2,.5 .1,1 .5,1 .5,.5 1,.2 2.5-.3 .6-.4 .9-1.5 .5-.5 3-.3 2-.9 1,.1 1,1 .7,1.1 .3,2.1 .5,.4 1.5-.3 .5,0 .5,.4 1,1 1.8,2.4 .7,1.6 .3,.4 .7,.2 0,5.4-.8,.4-.7,1-1.2,4 .2,.8 .5,.2 2-.8 0,1.5-1.5-.1-2,1.1-.3-.2-.5-1.5-.7-.8-1-1.7-.5-.3-.5-.1-2,.6-.5-.1-1-1-1.6-2.1-.8-2.5-1.1-.8-1-.3-.5,.1-.5,.3-.5,1.2 .3,1 1.3,1.5 0,1-.6,2.6-.5,.4-1.7,.5-1.8,.8-1.5-.8-1.5-.2-1.2,.7-.4,.5-.2,1 .5,1 1.3,1 4.5,1.8 1.5-.1 2-.9 .5-.1 2.5,1.1 4,.8 1-.2 2-1.5 .5,.2 .5,.5 1.6,1.9 .3,1-.1,2 .7,.8 1,.3 0,17.6-2.4,1.3-.5,.5 0,.5 .4,1 .5,.4 2,.3 0,20.3-17.9,0-.1-2.4-.5,.2-.5,.7-.4,1.5-4.2,0 .9-2.5 0-2.5 .2-.5 .5-.5 2-1 .5-1-.1-1-1.7-2.5 0-.5 .8-1 1.5-.8 1-.1 .5,.4 .6,2 .5,1 1.4,1.1 2,1.1 .5-.3 1-1.7 .7-.7 .1-.5-1.3-.3-1.2-.7-.8-1-.5-1.2-.5-.2-2-.2-.5-.4-2.7-2.5-1-2-.8-.5-3-.9-1.5-.1-2,.2-2-.5-1,0-1,.5-1,.8-1,2.6-.5,.4-1,0-1-.4-.5-.3-.5-.8-.8-2-.7-.9-1-.9-1-.3-.7,.6-.3,1 .8,3.5-.4,2.5 .6,1 1,.7 .5,0 1-.4 3-2 1.5-.7 .5,.2 .7,.7 .1,2 .2,.6 .5,.5 .5,.2 .5,0 .7-.8 .6-2 1.7-2 .5-1.8 .5-.4 .5,0 .5,.6-.1,1.1-.7,1-.4,1 0,1 .3,1 .9,1.1 2.2,.9 .8,.5 .2,.5 0,.5-1.4,2.5 0,1.5-.3,1-1.3,1.5-2,1.5-.7,1.4-.3,1.1-4,0-.2-.6-.5-.5-3.5-.4-.8,.5-.6,1-1.7,0-.4-.6-1-.3-1,.4-.4,.5-6.9,0-.1-1.5-.6-1-1-.7-2.1-.8-1.4-1.4-1.5-2-1-.3-2.5,.6-2-1-1-.2-1,.3-.4,1-.1,1.5-.2,.5-1.3,1-1,.4-.5,0-1.5-.6-1-.1-.8,.3-.5,.5 .1,1 1.1,2.5-10.4,0-.5-1.5 0-1 .7-2 .8-.8 1,.1 1.1,.7 .4,1 .1,2 .4,.6 .5,0 .5-.2 .9-.9 .6-1 0-.5-.6-1.5 0-.5 1.2-2.5 .5-2 .6-1 1.9-1.5 .5-1-.1-1-.5-1-.5-.5-1.5-.4-.5-.4-1-3.2-1.3-2 .2-.5 .5-.5 .6-.4 1-.2 .3-.4-.2-1 0-1 .8-2 0-1-.9-.8-2-.9-1-.9-.6-1.4 0-2-.2-1-1.5-2-.1-.5 .2-.5 .7-.5 1-.2 1.5,.3 2.5,1.8 .5,0 .5-.8 .2-1.6-.6-1-1.5-1.5-.4-1-.2-1.5 .2-.5 .4-.5 2-1.5 1.4-2 1.5-1.1 .8-1.4 0-1.5-.5-1-1.4-2-.3-1 .1-.5 1.2-1 2.9-1 .6-.5 .1-.5-.1-1-.8-1.5-.6-.6-.5-.2-2,.1-1,.2-.9,.5-1.6,1.5-.5,.2-.5-.2-.2-.5 .3-1.5-.1-.5-.5-.7-1.5-1.3-.3-.5 .3-1.5 1.8-2.5 .1-.5-.9-2.5 .1-1.5-.1-1-1.2-3-.1-1 .5-.5 .8-.1 2.1,.6 .4,.5 .5,1.5 .5,.8 1.5,1 .5,.2 .5-.1 .9-.9 3.6-2.6 .7-.9 .6-1.5 .5-2.5 1.4-1.5 .5-1 .1-.5-.8-1.6-.1-.9 .6-.7 1.5-.9 .4-.9-.2-1-.4-.5-3-1.5-.5-.5-1.3-2.6-1-.9-1-.5-1-.2-1,.3-.8,.9-.7,1.3-.5,.3-2-.2-2,.3-.5,0-.5-.5-.1-1.2 .6-2 .4-2 1.1-2.5 .8-2.5 0-1.5-2.1-5.5-.7-.8-.5-.1-1,.7-.8,1.2-.6,1.5-.4,.5-.7,.1-.5-.1-.3-.5 .2-5.5-.1-1-.7-1.5 0-1 .9-.9 2-.7 1.5,.5 1,0 1-.5 1.5-1.2 .5-.1 .5,.2 .5,.5 .7,1.2 .3,2.5 1.1,2 .3,1-.1,.5-.8,1.5 .1,.5 1.2,2 .1,1-1.1,3 .1,.5 .9,1 .7,.3 .5,0 2.5-.8 .6-.5 .4-1-.5-.9-1.2-1.1-.8-1.8-1.3-2.2-.1-1 .3-.5 2.6-2 .3-.5-.2-.5-1.5-2-.5-1-.2-2 .1-.5 .5-.5 1,0 .5,.3 .9,1.7 .8,1 1.3,1.2 1,.6 .5,0 .5-.1 1.3-1.7 .7-.5 1-.1 .5,.4 .5,1.2 .3,2.5-1.8,.6-.3,.4-.9,2.5-.1,2 .3,.7 .5,.6 2,1.4 1,.3 1-.4 1.1-2.1 .4-.5 .5-.2 .5,0 1.5,.8 .6-.1 .1-.5-.2-.4-1-.9-.3-.7 .3-2-.2-.5-.8-.5-1.6-.5-.4-.5 .1-1 .6-1.5 .8-1.3 .5-.4 1-.4 .5,0 1.5,.5 1.3,1.1 1,2 .7,.3 .5,0 .6-.3 .7-1 .1-2 .3-.5 3.3-1.2 1.5,.1 1.5,.7 2.5,1.7 .6,.7 .4,1-.2,1.5-.8,.8-1,.1-2.5-.6-.2,.2 .1,.5 1.1,1.5 .4,1-.2,1-.7,1.5 .1,.5 .9,.8 3.1,.7 1.4,2 1.8,1.5 .3,.5 .4,2 1.5,1.8 1,2.2 .5,.7 1,.5 3.5,.3 .5-.1 .5-.4 .1-.5 0-2-.3-4-1.3-1-.8-1-.7-1.5-.8-2.5-.7-.7-1.5-.8-.2-.5-.1-2-.2-.3-1.5,.2-1-.1-.5-.3-.4-.5-.1-.5 .6-1 .9-.5 .5,0 1.3,.5 .7,1.3 .5,.1 2-.3 2.5,.3 .7-.4 .1-1.5-.5-1-.8-.4-2,0-.5-.2-.4-.4 0-1 .8-2 .2-1.5zM228.6,245.3l-.8,.6 1.1,3.5 0,.5-.6,1-.3,1 .1,.8 .5,.5 .5-.1 .5-.5 .2-.7 0-1.5 1.4-2 .4-1.5-.4-1-.6-.4-1-.3-1,.1zM234.6,252.3l-.7,.6-1.1,1.5-1.7,1.4-.4,.6-.2,2 .1,.6 .5,.5 .6-.1 .9-1.2 1.5-1.3 .8-1.5 1.2-1.6 .3-.9-.1-.5-.7-.3-1,.2zM241.1,255.7l-.5,.4-.5,.8 0,1 .5,.4 1,.4 2,.2 .5-.1 .4-.4-.5-1-.9-1-1-.6-.5-.2-.5,.1zM221.6,292.3l-.2,.6 .2,1-.1,.5-1.8,2.5 0,1 .6,1 .8,.5 1.5,.3 1-.1 1-.7 .3-.5 .2-1-1.3-2.5-.3-1.5-.4-.5-.9-.5-.6-.1zM234.6,291.7l-.4,.2 0,.5 .4,.2 .5-.1 0-.6-.5-.2zM229.1,322.4l-2,1-.5,.1-2-.6-.5,.1-.9,.9-.5,1 .2,.5 .7,.3 2.5,.3 1,.4 1.7,1.5 1.3,2 .6,.5 .9,.4 2.5,.4 .5-.2 1.5-1.3 1-.4 .3-.4 .1-.5-.2-1-.8-.5-2.4-.9-1-.6-1.4-2.5-.6-.7-1-.1-1,.3zM237.6,329.7l-.5,3.3-.5,.4-.5,.1-1.5-.6-.5,.2-.5,.6-.5,1.2 .1,.5 .4,.6 2,1.2 1.5,1.7 1,.4 1-.2 1-.7 .3-.5 .2-1 .5-.7 2.5-.3 1-.4 .9-1.1 .2-1-.6-1-1.5-1.1-2.5-.1-.9-.3-2.1-1.2-.5,0zM205.6,350.6l-1,1.5-.3,1.3 .4,1 1.6,1.5 .3,.5 .1,1.5 .4,1.2 .5,.4 .5,0 3.7-1.1 .3-.5-.3-1-2.4-1.5-.4-.5-.7-2-.7-1.1-1-1.1-.5-.2-.5,.1zM217.6,354.2l-1,.7-.3,.5 .2,1 .6,.7 .5-.2 .3-.5 .7-2-.5-.4-.5,.2zM179.1,316.9l-1,.7-.5,.8-.2,1 0,1 1.3,3 .3,3.5 .6,.7 1,.3 1-.4 1.8-1.6 .4-1-.1-1-.9-4.5-.5-1.5-.5-.5-.8-.5-.9-.2-1,.2zM177.6,287.4l-.5,1-.8,2.5 .1,1 .7,.4 2.5-.6 .5,0 .5,.2 .2,.5-.1,1-1.2,1.5-.3,1 .4,1 .5,.4 1-.1 1-.5 .5-.6 1.6-2.7 .2-1-.8-.7-2.1-.8-.6-1-.3-1.5-2.5-.9-.5-.1zM186.6,255.7l-1.5,.8-.8,.9-.2,1 .2,.5 2.8,2.2 1.2,2.8 .8,.4 2,.4 1,.7 .8,2 .4,.5 .8,.3 1.5-.3 .5-.4 .3-.6 .2-2.5 .2-.5 .4-.5 1.4-.7 .5-.8 0-.5-.3-1-1.2-2-1.8-2-.2-.5-1,1.6-1,2.4-1,.4-1-.1-1-.3-.6-.5-.7-1-1.3-2.5-.4-.4-1,.2zM200.6,244.9l-.5,.1-.3,.4-.1,1 .4,.8 .5,.4 .5,0 .5-.5 .1-1.2-.6-.9-.5-.1zM206.1,254.8l-.2,.1-.2,.5 .1,.5 .8,1.2 .5,.4 1,.1 1.1-.7 .2-1-.3-.7-.5-.5-1-.2-1.5,.3zM234.1,262.2l-1,.6-1,1.9-1.5,1-.6,.7-.3,1-.1,1 .2,.5 .8,.6 1,.2 .6-.3 .3-1 .2-2 .4-.8 2-.2 .5-.5-.2-2.5-.3-.5-1,.3zM236.1,260.4l-.4,.5-.1,.6 .5-.1 .5-.5-.5-.5zM220.1,328.2l-1,.7-.4,.5 .2,.5 .7,.2 .5,0 .5-.3 .2-.9-.2-.5-.5-.2zM226.6,333.3l-.5,.5-.3,1.1 .1,1 .2,.4 .5,.4 1,.3 .5-.1 .9-.5 .8-1 0-.5-.2-.5-1.5-1.1-1-.1-.5,.1zM234.1,344.8l-.5,.5-.3,.6 0,.5 .3,.5 1-.1 .5-.4 .2-.5-.2-1-.5-.2-.5,.1zM239.1,357.4l-.6,.5 .1,1 .5,.4 .5,.1 .5-.2 .8-.8 .2-.5-.2-.5-.8-.2-1,.2zM178.6,334.2l-.7,.7-.1,.5 .2,.5 .6,.6 1,.1 .6-.7 0-1.5-.6-.4-1,.2zM201.6,249.8l-1,.6-.8,1-.2,1 .1,.5 .9,.6 2,.1 .7-.2 .5-.5 .4-1 .1-1-.2-.5-1-.4-1.5-.2zM207.1,260.2l-1,.6-.9,1.6-.2,1 .1,2 .2,.5 .3,.3 3.1,1.2 1.4,1.5 .4,2 1.2,2.5 .1,1-.5,2 0,1 .3,.6 .5,.3 .5,.1 .5-.8 .2-1.7 .3-.5 1.5-1.5 .7-1 .8-3.5 .5-.5 2-.4 1.5-.6 1.3-1 .2-.5-.1-.5-1.9-1.6-1-.1-1.4,.7-2.6,2.2-.7,.3-.8,0-.5-.5-.9-3-.3-2.5-.3-.5-1.5-.7-3,0zM202.1,266.3l-.5,.1-.5,.4-1.5,2-5,4.1-1,.1-2.5-.7-1.5-.1-.8,.2-.4,1 .1,.5 .5,.5 1.6,.9 1.5,.4 1-.1 1.5-.7 1.5-1.2 1-.5 .5,.1 1,.5 .7,1.1 .2,1-.6,1-.8,.4-2.5-.5-1,.6-.6,1.5 .2,1 1.9,1.7 1.3,1.8 .7,.1 2.6-.1 .8,.5 .4,1 .2,2-.5,1.3-1.9,1.7-1.6,2.3-2.5,1.2-.5,1 .2,1 .6,1-.2,2 .4,1 1,1.1 1.5,.4 4,.1 2-1.2 .7-.9-.1-2.5 .4-.9 1.5-1.6 .1-.5-1.1-1.5-.2-1 1.9-5 .1-1-.5-2 .1-.5 1.1-1.4 .1-.6-.1-.5-.6-.5-.9-.2-2.5,0-.7-.3-.5-.5-.2-1 .1-2-.4-1-.1-1 .2-.5 1.4-1.5 .1-1-.9-3.3-.5-.5-1-.3zM210.1,292.4l-1,.2-1.3,.8 0,.5 .8,1 .4,1-.1,1-.8,2 .5,.3 1,0 .5-.4 .3-.9 0-2 .3-.5 1.4-1.5 0-.5-.3-.5-.7-.4-1-.1zM214.1,283.3l-2.5,1.3-.9,.8-.1,.5 .1,.5 .9,.9 1,.4 1-.1 .7-.2 .6-.5 .5-1.5-.1-1.5-.2-.5-.5-.3-.5,.2zM216.6,313.7l0,.3 0-.3zM217.1,314.3l-.3,.1 .3,1.9 1,.9 .5,0 .2-.8-.2-1-.5-.5-1-.6zM189.1,280.9l-1,.2-.5,.4-2,2.2-.5,.2-2,.2-1,.6-.8,1.2-.4,2 .7,.3 2.5-.1 1.5,.3 1,.6 1.5,1.6 1,.4 1-.1 2-1.5 .5-.5 .2-1-1.1-2.5-.4-3.5-.7-.8-1.5-.2zM194.6,322.8l-1.5,.7-2.5,.3-.5,.3-.3,1.3 .2,1 .3,.5 .8,.4 4,.7 1.5-.2 .5-.4 .1-1-1.1-3.4-.5-.5-1,.3zM195.1,314.8l0,.6 .5,1 .5,.5 .5-.1 .1-.4-.2-.5-.9-1-.5-.1zM207.1,318.2l-1.2,.7-.4,.5-.1,.5 .3,.5 2.4,1.3 1,.2 1-.3 .1-.7-.2-1-.3-1-.5-.5-1.1-.4-1,.2zM214.1,300.3l-1,.4-1.1,.7-1.1,2.5-1.5,1.5-.2,.5-.3,2.5 .1,.5 .6,.3 1,.3 1-.4 .4-.7 .4-1.5 1.7-1.7 .5-.8 .9-2 .1-1-.5-.8-1-.3zM189.1,305.8l-1.5,.9-2,.8-3.5,.8-.6,.6 0,1 .9,1 1.7,1 1,.1 1-.3 2.1-1.8 1.9-1.3 .6-.7 .4-1-.1-1-.4-.3-.5-.1-1,.3zM191.1,295.1l-.5,.3 0,.5 1,1.9 1,.7 .5,0 .5-.2 .3-.4 0-.5-.6-1-1.2-1-1-.3zM211.6,329.8l-.5,1.1-.2,2-.8,1.7-.1,.8 .3,.5 1.8,.2 .8-.2 .4-.5-.1-2 .1-2.5-.2-.7-.5-.7-.5-.1-.5,.4zM212.1,324.8l-.1,1.1 .1,.2 .5,.1 0-1-.5-.4zM215.6,311.2l-.3,.2-.2,.5 .1,.5 .4,.8 .5,.4 .4-.2-.4-1.7-.5-.5zM189.6,341.7l-.2,.2 .2,.1 .5-.1 0-.2-.5,0zM192.6,302.7l0,.3 .6-.1-.1-.2-.5,0zM233.6,237.4l.5-.1 .7,.1-.7,.5-.5-.5zM44.5,238.9l.6,0 2,1.1 2.5,0 .5,.6 .4,1.3-.2,1-3.2,2.3-1,.1-1-.3-.5-.6-.1-.5 .2-2.5-.4-2 .2-.5zM32.4,242.9l.7-.4 .5,0 .5,.2 1.1,1.2 .2,1-.5,1-.8,.8-1,.6-1,.1-1-.5-.5-.5-.1-1 .6-1.3 1.3-1.2zM70.6,242.9l.5-.1 .5,.4-.1,.7-.4,.2-.7-.2-.1-.5 .3-.5zM44.4,251.4l1.7-.3 3,.9 1.5,0 1,.1 1.4,.8 1.2,1 .1,.5-.6,.5-2.1,.8-.5,.7 .2,1 .8,1.7 0,1.3-.5,.6-2.7,1.4-.7,.5-.3,.5-.2,2-.7,1.5-.5,.5-.9,.3-1,.1-1.5-.2-2.2-1.2-.4-.5-.3-1 .8-1.5 0-.5-.9-1-1-.2-3,.3-2.8,.9-.7,.4-.4,.6-.1,.5 .9,5.5-.2,2 .2,1 1.1,1.1 1,.7 1,.4 3,.2 2.5-.2 .5,.4 .5,1.9 .5,.5 .5,.2 1.5-.2 2.5-1.7 2-.8 1-.1 4.5,2.1 .6,.5 .2,.5 0,.5-.8,1.1-2,1.2-2.5,.1-3.5,.5-2,.7-1,0-3-1.2-1,.1-1.7,2 0,1 .3,1.5-.1,1-.5,.8-.5-.1-.5-.4-1.2-1.8-.2-1 0-1.5-3.1-3.4-4.9-4.1-.6-2-.9-1-1.1-.6-1,0-1.5,1.4-1,.4-1-.4-1.9-1.3 .1-.5 2.3-1.4 1.5-2.9 .5-.2 1,0 1-.3 2.5-1.7 .5-.6 1.6-2.4 .4-1-.4-1.5-1.1-1.7 0-.8 .5-1 .9-.5 2.1-.6 1.5-2.4 1-.5 1,.1 .5,.5 .7,1.4 .3,.3 .5,.1 2-.7 2.4-1.2 2.4-1zM35.1,256.2l-.7,.7 .1,1 .6,1.2 .5,.3 .5,0 .6-.5 .2-.5 0-1-.3-.8-.5-.5-1,.1zM220.1,254.9l1-.1 .6,.6-.6,.5-.9,0-.3-.5 .2-.5zM22.4,258.4l1.2,.1 1.1,.4 .5,.5 .1,.5-.3,.5-3,2-1,1-.9,.2-1.5-.1 0-4 3.8-1.1zM52.8,263.4l.8-.1 1.3,.6 .4,.5 .2,.5-.2,.5-.7,.4-1,.1-1.3-.5-.2-.5 0-.5 .7-1zM171.3,267.9l.3-.2 .5,.1 .5,.6 0,1-.5,.6-.5,.1-.5-.3-.1-.4 0-1 .3-.5zM178.2,268.9l1.4-.3 1.4,.3 .6,.8 .4,1.2 0,1-.3,.5-1.6,1.9-.5,.1-2-.6-.5-.4-.2-.5 0-.5 .9-1.5 .2-1.5 .2-.5zM165.1,270.9l.5-.3 .5,.1 .5,.7 0,.5-.5,.5-.5-.1-.5-.6 0-.8zM171.5,274.9l.6-.4 .5,0 .4,.4 .3,1 0,1-.5,.5-.7,.3-1,0-1.3-.3-.5-.5 .2-.5 2-1.5zM18.6,276.4l0-.4 4.5,.3 .7,.6 .3,.5 .1,1-.1,.5-.5,.5-1.5,.8-1.5,1.2-.8,1.5-1.2,.5 0-7zM229.7,277.4l.4-.2 .5,.2 .7,1 0,.5-.7,.2-1.1-.2-.3-.5 .5-1zM175.9,277.9l.7-.4 .5,.1 .5,.6 .3,1.2-.3,.9-.5,.6-1,.4-.5,0-.4-.4 0-1 .3-1.5 .4-.5zM141.3,281.9l.3-.3 .5,.2 .5,.6 0,.5-.5,.2-.5-.2-.3-1zM51.8,285.9l.3-.2 .5,0 2.5,.2 1,.3 .5,.4 .5,.8 .1,1-.1,1.3-.5,.7-.5,.3-1,0-3-1-.5,.3-.3,.4-.7,2.1-.5,0-1.5-.8-2.5,.1-.5-.1-.5-.4-.4-.9-.2-2.5-1.1-.5-.5-.5 .8-.5 .4,.1 1,.8 1.5,0 2.5,.4 1.5-.4 .5-.4 .7-1zM27.1,287.4l1-.2 .5,.2 .3,.5 .4,2.5-.3,1-3.4,2.8-1,0-2-.5-1,.5-.9,1.2-.1,1 .5,.8 1.4,1.2 .2,.5 0,.5-.6,1-1,.8-1,.2-1.5-.2 0-10 1-.1 1-.5 .6-.7 .9-1.7 .5-.5 1-.1 2,.4 1.5-.6zM80.8,289.9l1.8,0 1.5-.1 .5,.2 .2,.4-.1,.5-.6,.5-2,1.1-1,.2-1.2-.3-.5-.5-.2-.5 .1-.5 .3-.5 1.2-.5zM33.1,290.9l.5,.4 .5,.8 1.8,4.3-3.6-1-.6-.5 0-1 .4-2 .5-.9 .5-.1zM131.8,293.9l.8-.1 .5,.2 .2,.4 .7,4.5-.5,1.5-1.4,2.2-.5,.5-.5,.2-.5,0-1.1-.9-.4-1 0-.5 1.7-3 .3-1-.1-2 .2-.5 .6-.5zM60.1,295.4l.5-.3 .5,0 .5,.4 1.9,3.4 2.1,1.5 .2,.5 .2,1.5-.1,.5-.3,.3-3.6-.8-2-1-.7-.5-.3-.5 0-.5 .5-1.5 0-2 .6-1zM158,295.9l.1-.2 .5,.2 1.5,1.6 .6,.9-.1,1-.2,.5-.8,.6-1,.3-1-.1-.4-.3-.2-.5 1-4zM25.5,296.4l.6-.3 .5,.1 1.5,.7 .5,.5 .4,3-.1,.5-.8,1-2,1-.2-.5 0-3-.8-2 .4-1zM94.8,296.4l1.3-.4 1,.4 .2,.5-1.2,1.5-.4,1 0,.5 .9,1 1,.5 1,.1 1-.3 .7-.3 .3-.5-.3-1.5-.8-1.5 .2-.5 .9-.1 1,.3 1.3,.8 .7,.8 .2,.7-.2,.7-.5,.5-1.7,.8-.8,2-1,1.3-1,.3-2.7-.6-.8-.5-.4-.5-1.1-1.8-1.5-.1-.8-.6-.5-2 .3-1.1 .5-.4 3.2-1zM164.5,296.9l.6-.2 1,0 1.5,.7 .8,1 0,1-.3,.5-.5,.3-1,.3-1-.2-1-.6-.7-.8-.2-.5 .2-1 .6-.5zM82.9,297.9l1.2-.2 .7,.2 .2,.5-1.4,3-.5,.2-1.5-.6-.3-.6 .7-1.5 .9-1zM145.2,298.4l.4-.2 .4,.2 .2,.5-.1,1.4-.5,.5-.5,0-.4-.4-.1-.5 .2-1 .4-.5zM149.4,301.9l.7-.3 1-.1 1.4,.4 .6,.5 .2,.5-.1,1-.6,.6-.5,.3-.5,0-1-.4-1.3-1-.4-.5 0-.5 .5-.5zM84,302.9l.6-.3 3,.7 .7,.6 0,1-.5,.5-.7,.1-2.5-.9-.4-.2-.3-.5 .1-1zM47.6,303.9l1.5-.5 .5,.2 .2,.3 .2,2 .4,1 2.1,2.5-.1,4 .2,.5 .5,.5 1,0 2-.5 .8-.5 1.1-1.5 .6-.2 1,.1 1.6,.6 1.3,1 0,1-.9,1.1-1,2.4-1,1.3-1,.7-1.5,.2-3.5-.3-2.5,.4-4.6,1.7-.7,.5-.4,.5-.1,.5 .3,.7 2.7,1.8-.1,.5-2,1-.5,.5 0,.5 .4,.6 1,.7 1-.1 .7-.7 .3-.5 0-2 .9-.5 1.1-.3 1.5,0 .5,.3 .1,.5-2.4,1.5-.4,1 .1,.5 1.1,1.2 3.1,1.3 1.4,1.3 1,0 .7-.3 .7-.5 .4-1 0-1-.5-1.5-1.1-2-.3-1 .1-1 .5-.7 .5,0 .5,.4 2,3 1,.9 .5,0 .5-.3 1.5-1.2 1-.2 1.5,.5 2,1.7 .5,.2 .6-.3 .1-1-1-2-.4-2.5-.6-1-1.8-2-2.5-4-.5-2 .2-.5 .6-.5 2.8-1.5 .5-.2 .5,.1 1.3,2.6 1.2,1.4 .5,.3 .5-.1 2-1.2 .5,0 .5,.5 .5,1 .5,.2 1-.1 .5,.2 .5,.6 .2,1.2-.2,1.1-.5,.4-1-.1-.5-.3-1-1.4-1-.1-1.5,.4-.3,.5 .1,2-.4,2 .1,.5 .4,.5 1.1,.8 3,1.7 1,.3 .5-.1 1-.7 .3-.5 0-.5-.8-2 .1-1 .2-.5 .7-.3 1.5,.2 1-.1 2.5-.9 .4-2.9 .3-1 .3-.5 .9-.5 2.1-.1 .5-.9 .3-1 .4-3.5 1-1.5 1.3-.7 1,.1 1.5,.5 .8,.6 .2,.5-.4,1-1.5,1.5 0,1 .4,2-.3,2 .5,2-1.8,1.5-.2,.5 .3,.7 .5,.3 1,.2 2.5,.4 1-.1 .6-1 .1-1-.6-.5-1.6-.5-.4-.5 .3-.5 2.2-2 .9-.5 2-.6 .5-.4 1-1.8 .5-.4 .5-.1 .5,.3 .6,1.5-.1,.5-.8,1 0,.5 .4,2-.9,3.5 .5,2-.2,2.5 .3,1 .6,.5 3.6,1.9 2,.5 1-.2 1.5-.6 2-.4 1-.5 .9-1.2 .1-.5-.2-1.5 .2-.7 1-1 1-.6 .5,0 1,.7 .4,.6 .1,1-.3,3 .1,2 .3,1 1.4,1.5 1.5,1.3 .5,.2 1-.3 2-1.5 2-.1 .8,.4 .3,1.5-.1,3.1-.2,.4-1.5,.5-.9,.5-.2,.5 .4,.5 .4,.2 1,.1 .4-.3 .6-1.5 .5-.4 3-.3 2-.4 .7-.4 .5-1-.1-.5-.4-1-1.7-1.6-1-.5-2-.4-.7-.5-.2-1.5 1.3-3 0-1.5-2.4-.9-1-.8-.7-.8-.4-1 0-.5 .6-1.7 .5-.2 .5,.1 3.5,1.2 1.5-.4 .5,.4 1,2.2 .5,.6 .5,.2 1.5,0 3-1.1 1-.1 1,.3 .5,.5 .1,.5-.1,.5-1.4,1.5 0,1 .3,3 .6,.6 2,.6 .4,1.3 1.6,2 0,.5-1.5,1.8-1,.3-.5-.2-.8-1.4-.7-.6-1-.3-1,.1-.7,.3-.4,.5-.3,1 .1,1 .6,1 .7,.8 1,.4 2,.3 1.4,1 .5,1 .2,2 .7,1 .7,.6 1,.4 2,.1 .5-.3 .5-.8 1-.8 1-.1 .5,.4 0,.5-1,.9-2,.3-.5,1-.4,1.8 0,.5 .4,.8 1.6,.7 .6,.5 .1,1-.5,1-.8,.7-1,.2-2,0-1,.6-1,1.2-.5,.2-1.2-.4-.7-.5 .4-2 .1-1.5-.1-.5-.5-.4-4,.2-1,.7-1.3,1.5-.1,.5 .2,.5 .7,.4 3,.1 1.6,.5 .4,.5 0,2 .5,.7 .5,.1 .7-.3 1.3-1 .5-.1 1.5,.1 2.5-1.2 4.5,.1 .7,.1 .5,.5-.1,.5-1.3,2 0,1 1.3,2.5-13.1,0-.2-.5-.5-.5-1.8-.2-.5-.3-1.7-2.5-3.1-2.5-.2-1 .2-1.5-1.3-2.5-.8-2.5-1-2-.3-2-.3-.6-.8-.9-.7-.4-.5,0-.5,.2-1.9,1.7-.6,1-.1,.5 .2,.5 .8,1-.2,.5-.7,.5-3,1.1-1,.9-.2,3-1.1,2-1.4,1-3,1.5-.3,.5 .6,2-.6,2-2.5,0-.4-1.5-.6-.9-1-.5-2-.3-1.7-.8-.8-.7-1-1.7-.5-.1-2,.2-1-.1-1.6-.6-1.2-1-.2-.5 .4-.5 2.6-2 1.5-.8 1-.1 .5,.2 .9,.7 1.1,1.3 1,.2 1-.2 .6-.3 .7-1 .2-.5-.1-.5-1.5-3-.4-2.5-.9-2.5-.6-.8-1.8-1.2-.3-.5-.1-1 .2-1.5-.3-.5-1.7-1.4-1.5-.4-.8,.3-.4,.5-.5,2.5-.6,1-1.7,1-.5,.5-.4,2.5-.5,1-2.1,2.4-2.6,2.6-.7,1.5 .3,.6 2,.4 .7,.5 .3,1 .1,2.5 .4,.8 .5,.5 1.5,.6 2-.2 1,.2 2.1,1.1 .4,.5 .1,.5-.8,1.5-.2,1-13.9,0 .3-.5 1.5-1.5 .2-.5 .1-2 .8-1 .4-1-.5-1.3-1-.6-.5,0-.6,.4-.2,2-.3,.5-.9,.1-2-.4-1,.3-1.4,1.5-2.6,1.9-.9,2.1-8.5,0-.5-.5-.6-.3-1,.3-.2,.5-22.7,0-.2-1-.4-1-1.5-1.3-.8-1.7-1.7-2.5-1.5-1.1-2-.7-.5,0-.1,.3 .1,1 .5,2.7 .4,.8 .6,.3 2.5,.4 1.6,.8 .1,.5-.6,2.5-4.6-.1-.2,.1-18.3,0 0-9.5 .7-.5 .3-1-.2-1-.8-.5 0-29.7 .5,.2 .3,.5 .4,1.5 .8,1 2.5,1.6 .4-.1 .2-.5-.6-1.9-1.8-2.6 .2-2.5-.2-.5-.7-.3-2-.1 0-11.5 2.5-.7 3,1.2 .2,.9-.1,1-.3,.5-1.3,1.1-.6,.9 .4,1 1.7,1.8 .5,0 .5-.2 .5-.6 .1-.5-.1-2 .1-.5 .4-.5 3.5-1.5 1-.3 1,0 .9,.3 .6,.8 1.3,2.7 .4,2 .3,.3 2.5,.8 1.1,.4 .4,.3 .5,.1 2-.7 2-.3 1-.7 .3-.7 .1-1-.2-1-.9-1.5 0-1 .4-.5 1.8-1.4 1.5-2.1zM51.1,353.6l-.4,.8 .1,.5 2.1,1.5 1.2,2.5 .5,.6 1,.3 1-.1 1-.3 .5-.5 .2-1.5-.2-1.1-.5-.8-1.5,.4-1-.1-1-.6-2-1.7-.5-.1-.5,.2zM54.6,337.4l-1.4,.5-.6,.6 .5,.4 1.9-.5 .2-.5-.6-.5zM57.6,352.7l-.2,.7 .2,1.3 .5,.6 1.4-.9 .2-.5-.3-.5-.8-.7-.5-.2-.5,.2zM59.1,338.7l-.5,.7 .1,.5 .7,.5 .8,0 .4-.5-.4-1-.6-.3-.5,.1zM65.1,340.8l-1.5,.7-.5,.8-.2,.6 0,1 .2,1 .5,.6 .5,.2 .5,0 1-.5 .8-.8 .2-.5 .1-1-.3-1.5-.6-.5-.7-.1zM73.1,332.6l-.4,.3-.1,.5 .5,.7 .5,.1 .5-.2 .6-.6-.2-.5-.9-.3-.5,0zM84.1,320.2l-.4,.2-.3,2.5-1.6,3-.6,3-.6,1.5-1,1.3-2.5,1.2 .1,.5 1.4,1.5 .3,.5 0,.5-.5,1-1.3,1.9-.5,.3-.5,.1-2-.3-1.5,0-2-.4-.5,0-1,.4-1.2,1 0,.5 .7,.3 2-.5 1,.1 .5,.6 .9,2 1.1,1 1,.7 1-.1 1.5-1 .5,.1 1,.6 1,.3 2-.2 1-.4 .5-.5 1.5-2.4 1.5-1.6 .6-1-.6-.4-2.5-.2-2-.7-1.5-1.2-.5-1 .4-1.5 1.3-1.5 .6-1.5 1-1 2.7-1.9 1-.5 1,.1 1,.4 .1-.1-1-2 .3-2.5-.4-1-1-.9-1-.6-1-.3-1,.1zM90.1,334.3l-1.6,2.1-.8,1.5 .5,.5 1.5,1 1.4,.6 2-.1 1-.4 .4-.6 .1-1.5-.4-1.5-.6-1-.5-.5-1-.4-2,.3zM92.6,326.9l-1.4,.5-.6,.5 .1,.5 1.3,1 1.1,.5 1,0 .8-.5 .6-1-.1-.5-.4-.5-.9-.5-1.5,0zM99.1,328.5l-.4,.4 .1,.5 .3,.4 .5,0 .2-.4 .1-.5-.3-.3-.5-.1zM112.6,331.3l-.9,.6-.4,1 0,1 .5,2-.7,.4-3.5,.8-.7,.3-.3,.5 2,2 2,3.5 2.5,1.8 2,2.7 .5-.1 2-1.6 .5-.3 2-.4 .9-.6 1.7-4 .1-1-.6-1-.6-.5-1-.1-.5,.3-.7,.8-.5,2-.3,.4-.5-.2-1.9-3.2-.1-.5 .6-1 .2-1-1.1-4-.6-.5-.6-.2-2,.1zM135.1,326.4l-1,.4-.6,.6-.2,.5 .3,1 .5,.5 .5,.1 .7-.1 .3-.3 .3-.7-.2-1.5-.6-.5zM136.1,339.2l-.4,1.2 .4,3-.5,2 .1,.5 .4,.5 1,.2 1.5,0 1-.2 .7-.5 .8-1 .2-1-.2-.5-3.5-4.1-1-.3-.5,.2zM29.6,312.4l-.5,0-.2,.5 .5,1 1.2,.9 .5,.1 .5-.3 .2-.2-.2-.5-2-1.5zM38.6,315.4l-1,.8-.4,1.2 .2,.5 .7,.5 1,.1 .7-.6 .2-.5 .1-1-.5-1.1-.5-.2-.5,.3zM44.6,341.9l-1.5,.5-.6,.5-.1,.5 .7,1.5 1,.9 2,.8 .5-.2 2.5-1.5 .3-.5-.1-.5-.2-.5-.5-.5-2-1.1-1-.1-1,.2zM78.6,347.2l-1.1,.7-.6,1-.6,4.5-.4,2-.5,1-1.3,1.2-.5,.8 0,.5 .4,.5 .6,.3 1-.3 .5-.4 1-2.1 1.5-1.5 1-.5 2-.1 .9-.4 .1-.5-.2-.5-.8-1.2-.3-.8 .5-2.5-.2-1-.5-.5-1-.4-1.5,.2zM85.6,353.7l0,.3 .7-.1-.2-.3-.5,.1zM89.1,330.8l-1,.7-1.1,1.4-.1,.5 .2,.5 .5,.4 1,.1 1-.3 .1-.2 .2-1-.1-1.5-.2-.5-.5-.1zM99.1,331.9l-1,.8-.4,.7-.1,1.1 .5,.6 .5,0 1-.4 .5-.8 0-1-.2-.5-.3-.4-.5-.1zM114.1,349.8l-.4,.6 0,.5 .8,1 1.1,.6 1,.1 .9-.2 .7-.5 .8-1 0-.5-.3-.5-.6-.3-2,.4-1-.5-.5-.1-.5,.4zM30.6,332l-.4,.4 0,1 1.5,3-.9,.5-1.7,.5-2.5-.7-1,.2-.3,.5-.2,1 .7,2 .1,1-.5,.5-1.4,.5-.5,.5 0,.5 .7,.5 3.9,.2 .5-.1 2-1.4 1-.1 .5,.2 2.6,1.7 .7,1 .5,2 .7,.7 .5,.1 .5-.4 .4-.9 .1-1.5-.2-1-.6-1-2.2-2.4-2-1.2-.5-.9-.4-2 .4-.3 2.4,.3 .2-.5-.1-.5-.5-.5-1.5-.9-1.5-2.1-.5-.3-.5-.1zM31.6,348.6l-.9,.8-.1,.5 .4,1 .4,.5 .7,.5 1,.3 2,.2 .5-.2 0-.8-.3-1-1.1-1.5-1.1-.5-1.5,.2zM76,303.9l1.1-.3 1.5,.4 1.7,1.4 .4,.5 .1,.5-2.3,2-.9,2-1.4,1.5-.6,.4-.5-.4 .3-2-.2-.5-1.8-1.5-.1-.5 1.3-1.2 .9-1.8 .5-.5zM121.4,304.4l1.2-.5 .5,.2 .4,.8-.2,1.5-.2,.5-.5,.2-2.5-.4-.5,.7 .1,1.5 .3,1 .4,.5 2.4,2 .4,.5 .1,.5-.4,1-.8,1.1-.5,.4-.5,.1-1-.5-2.6-2.6-.6-1.5-1.1-2-.1-1 .4-1 .5-.4 2.5-.8 2.3-1.8zM38.6,304.9l1-.3 1,.2 .9,.6 .5,1-.1,1.5-.8,1.1-1,.6-.5,0-1-.3-.5-.4-.6-1 0-1.5 .5-1 .6-.5zM159.5,305.9l1.6-.4 .5,.1 .3,.3 0,1-.5,2.5 .3,1.5-.2,.5-1,1-.4,1 .3,1 .7,.4 1-.4 .4-.5 0-1-.4-1.3-.2-.2 .3-.5 4.4-3.2 1-.1 2,1.6 1,.3 .3-.6 .2-1.5 .6-.5 1.4-.3 .8,.3 .5,.5 .4,1 .2,1-.2,1-.5,.5-.7,.2-1.5-.1-.5,.1-.2,.3-1.4,4-.2,1 .1,2.5-.4,1-.4,.5-1,.4-1.5-.1-1.1,.2-.2,.5 .4,2.5-.3,1-.4,.5-.9,.4-3-.2-.5,.3-.4,.5-.6,1-.5,.3-.5-.1-.5-.5-.2-.7 0-.5 .2-.5 1.5-1.2 .5-.6 1-2.1 1.1-1.6-.3-.5-2.8-1.9-.5-.1-1,.1-2,1.5-.5,.1-.5-.3-2-2.4-.8-2-.1-1 .2-.5 .5-.5 1.7-1.1 .5-.1 1.5,.4 .5-.1 .5-.4 .5-.7 .4-1-.3-1.5 .1-.5 .8-1 .9-.5zM155.2,307.9l1,0 .4,.5-.5,.6-.5,.2-.5-.2-.3-.6 .4-.5zM137.3,308.4l1.3-.3 1,0 .7,.8 .2,1.5-.4,1-1,.9-1.5,.6-1.5,.1-.5-.4-.2-.7 .1-2 .7-1 1.1-.5zM147.1,310.9l.5-.4 .5-.1 .9,.5 .7,1 .1,.5-.2,.5-1.2,1-1.3,.7-2,0-.7-.2-.2-.5 .3-.5 1.6-1.3 1-1.2zM79.6,312.9l.5-.2 .5,.1 .5,.2 .8,.9 .3,1-.1,.5-.4,.5-.6,.2-1,0-1-.7-.3-.5 0-1 .8-1zM115.2,313.9l.4-.1 .6,.1 .4,4.2 .4,.8 2.6,1.3 2,.5 1.2,1.7 .2,1-.2,.5-.7,.4-1-.2-2-1.6-1-.4-.5-.6-1-2.5-1.5-.2-2.5,.3-.8,.3-.5,.5-.6,1.5 .1,1 .7,1.5 .2,1-.7,2-.4,.8-.5,.3-1-.1-1-.4-1.5-1.1-.6-1 .1-1 1-1.5 .2-1-1.9-3.5-.4-1.5 .3-1 .8-.5 .5-.1 2.5,.9 1-.1 2-1.3 3.1-.9zM149.9,317.9l1.2-.4 .5,.1 .3,.3 .1,1.5-.4,.8-.5,.5-.5,0-.5-.4-.5-.9-.1-1 .4-.5zM150.8,322.4l1.8,.1 2-.4 1,.1 .6,.7 .3,1.5-.2,1.5-.5,1-.7,.4-2,0-1,.2-.6,.4-.9,1-.5,.3-1.5-.4-1,.1-2,1.3-1.1,.2 0-1 1.1-2 .3-2 .3-.5 .6-.5 1.8-.7 2.2-1.3zM162.5,329.9l.6-.4 .5,0 .4,.4 .7,2.5 .4,.5 2.5,.4 .7,.6 .1,1-.2,3 .1,2-.2,.5-.5,.3-2.5,.5-.5-.2-.1-.6 .3-2-.2-2.1-.5-2.2-1.5-1.3-.5-.9 0-1 .4-1zM149.6,331.4l.5-.4 .5-.1 .5,.6 .3,.9-.1,1-.8,2.5 .1,.5 1,1.2 .4,.8-.3,1-.6,.5-3-.9-.4-.6 .4-1 .6-.5 .1-.5-1.2-1.5-.1-.5 2.1-3zM159.6,336.9l.5,0 .3,.5-.2,.5-.9,.5-.7,0 0-.5 .3-.5 .7-.5zM113.6,337.4l.7,0-.2,.4-.5-.4zM161.8,342.9l1.8-.5 .4,.5 .2,.5 0,1-.3,2 .2,.5 1.5,1.1 2,.4 .5,.5 0,.5-.7,1-2.3,2-1,.2-1-.4-1.4-1.3-1-1.5-.8-2.5 0-1 .7-2 1.2-1zM100.6,344.9l1-.3 .5,0 .5,.4 .4,1.4 0,.5-.4,.8-.5,.3-1,.4-1-.1-.5-.3-.7-1.1 .3-1 1.4-1zM157.5,347.4l.1-.1 .1,.1-.1,.3-.1-.3zM126.6,353.9l.5,.5-.5,.1-.2-.1 .2-.5zM121.9,358.4l.7,0 4,.6 1-.1 2-.6 1.5,0 1,.5 1,.8 2.1,2.3 .6,1-15,0-.6-2.5 .4-1 .5-.5 .8-.5zM184.2,358.4l.4-.3 1-.1 2,.7 2.5,.3 .5,.5 .3,.9-.6,2.5-4.9,0-.2-1.5-1.2-2.5 .2-.5z" fill="#def1f8" fill-rule="evenodd"/>
<path d="M19.2,238.9l1,0 .3,.5-.2,.5-.7,.8-1,.1 0-1.6 .6-.3zM195.6,240.9l.5-.1 .6,.1 .3,.5-.2,.5-.7,.3-.8-.3-.1-.5 .4-.5zM173,241.9l.6-.4 .5,.4 .5,1.5 0,.7-.5,.2-1-.6-.3-.8 .2-1zM20.2,242.9l1.4-.1 1.5,.3 1,.5 .5,.8 0,1-.3,.5-2.2,1.7-1,.3-.9,0-.6-.2-.8-.8 0-2 .2-1 .6-.7 .6-.3zM204.4,242.9l.7,0 .5,.4 2.4,3.1-.1,1-1.3,1.6-.5,.1-2-.4-.7-.3-.4-.5-.1-3.5 .6-1 .9-.5zM222,245.4l1.1,0 1.2,.5 .6,.5 .6,1 .6,1.5 .4,2.5-.2,1-.5,.5-.7,.1-1-.7-.4-.9-.4-2-.2-.5-1.6-1.5-.3-.5 0-.5 .1-.5 .7-.5zM181.5,245.9l.7,0 1.9,.8 1.5,.3 .5,.3 .4,2.6 .5,1.5-.1,.5-1.3,.8-1,.2-2-1.6-2.1-3.9-.1-.5 .2-.5 .9-.5zM235.3,245.9l.8-.4 .5,.1 1.5,.3 1.6,0 .6,.5-.1,.5-.4,.5-1.3,1-1.7,1-1.2,1-3,1.8-.5,.1-.4-.4-.2-1 .6-1.8 1-1.3 1.4-.9 .8-1zM174.8,249.9l.3-.1 .3,.6-.3,.2-.3-.7zM206.4,250.4l.2-.2 .5,.1 1.3,1.1 .1,.5-.1,.5-.7,.5-1.1,.2-.5,0-.5-.6 .1-1.1 .7-1zM195.4,251.4l.3,0 .6,.5-.2,.2-.5,0-.5-.2 .3-.5zM44.5,253.4l1.6-.1 1,.6 1,.8 .5,.7 .4,1 .2,2-.1,1-.5,.7-3.5,1.9-1,.2-1-.6-2.6-2.2-.5-.5-.2-.5 .3-.8 1.5-1.3 1.2-1.9 .8-.7 .9-.3zM237.6,253.9l.5-.2 .7,.2 .4,.5 0,1-1.1,2.1-.5,.4-1,0-.6-.5 0-1 .4-1 1.2-1.5zM191.3,254.4l.8-.3 .5,0 .5,.4 .5,1.4 0,1-.4,1.5-.6,.7-.5,.2-1-.3-.5-.4-.8-1.7 0-.5 .3-.9 1.2-1.1zM213.6,254.9l1,.1 .5,.5 .3,.9 0,1-.2,.5-.6,.3-1.5,.1-.7-.4-.1-1 .5-1.5 .8-.5zM198.3,255.4l.8-.3 2-.2 1.5,.2 1,.4 1,.7 .8,1.2 .2,1-.3,1-1.2,1.2-1.5,1-.5,.1-1-.5-1.5-1.2-1.8-2.6-.2-1 .1-.5 .6-.5zM246.3,255.9l.3-.1 0,1.7-.8-.6-.1-.5 .6-.5zM175.3,257.4l.3-.3 .5-.1 1,.5 .9,.9 .3,1-.5,1-1,1-.7,.6-1,.3-.5,0-.5-.4-.2-1.5 .2-1 1.2-2zM217.6,260.4l.5,.5 .2,1-.2,.5-.5,.1-.4-1.1 0-.5 .4-.5zM241.2,260.4l1.4-.2 2.5,.5 1.5,0 0,10.5-.5,.4-.1,.3-.3,2 .9,.3 0,5.1-1-.4-.8-1 0-1 .6-2.5-1.8-.5-.9-.5-1.9-4-.2-1 .2-.5 1.3-1.9 .4-1.6-.2-1-1.5-1.5 0-1 .4-.5zM228.6,260.9l.5-.2 1.6,.7 .5,.5 .1,1-.6,1-1.3,1-1.3,2.9-.5,.4-.5,.1-1-.2-1-.7 0-1 .5-1 2.4-1.5 .6-3zM184.3,261.4l.8,0 .5,.2 .7,.8 .7,3-.2,.5-1.2,.1-.5-.2-.5-.6-.6-1.3-.3-1.5 0-.5 .6-.5zM202.1,262.9l.5-.1 .2,.6-.2,.3-.4-.3-.1-.5zM237.7,262.9l.9-.4 .6,.4-.3,1-.8,.6-.5-.1-.3-.5 .1-.5 .3-.5zM189.5,266.9l1.6,1.1 1.2,1.4 .4,1-.3,.5-1.3,.1-1.5-.6-.4-.5-.1-1 .4-2zM234.2,267.9l.4-.3 .5,.1 .5,.7 0,.6-.5,.4-.5-.1-.5-.9 .1-.5zM205.9,268.4l.7-.3 1,.2 .6,.6 0,.5-.6,.4-1-.2-.7-.7 0-.5zM220.2,269.4l1.4-.3 .6,.3 .5,2.5-.1,.7-.5,.2-.5-.1-3-1-.3-.3 0-.5 .2-.5 .6-.5 1.1-.5zM216.2,274.4l.9-.5 .5,.3 1.3,2.2 .4,1-.1,1-.8,2-.8,.9-.5,.1-1-.2-1-.8-.6-1-.2-1-.1-1.5 .4-1 1.6-1.5zM207,275.4l1.1-.3 1,.1 .5,.8 0,.9-.1,.5-.4,.3-.5,.1-2.5-.1-.8-.3-.1-.5 .3-.5 .6-.6 .9-.4zM188.5,275.9l1.1,.1 .9,.4 1.3,1 .3,1-.1,.5-.4,.5-2,.2-1.8-.2-.4-1-.1-1.5 .3-.5 .9-.5zM240,275.9l.6-.4 .4,.4-.4,.9-.5,0-.2-.4 .1-.5zM18.6,278.4l0-.4 .6,.4-.6,.4 0-.4zM47.5,278.4l1.1-.1 .3,.1 0,.5-.4,.5-.4,.2-1-.1-.3-.1 .1-.5 .6-.5zM238.4,279.4l.7-.4 .5,.1 1,.6 1.2,1.7 1.8,1 .4,.5 0,.5-.3,.5-.6,.2-1.5-.1-1.2-.6-2-3-.2-.5 .2-.5zM185,279.9l.6-.3 .5,.1 .6,.2 .1,.5-.7,1.2-1,.5-.5-.2-.2-.5 .2-1 .4-.5zM210.8,279.9l.8-.1 .5,.2 .5,.6 .2,.8-.2,1-.3,.5-.7,.4-1,.2-.3-.1-.3-.5 .5-2.5 .3-.5zM193.1,281.9l.5-.3 .5,.1 .8,.7 .1,.5-.1,1-.3,.9-.5,.5-.5-.3-.7-1.1-.1-1 .3-1zM222.3,283.9l2.8-.3 .7,.3 .1,.5-.1,.5-.8,1-1.9,1.5-3,1.6-.5,.1-.5-.1-2-2.2-.2-.4 .2-.8 .5-.3 3-.3 1.7-1.1zM199.2,284.9l1,0 .5,.5 .2,1-.3,1.1-1,.5-.6-.1-.1-.5-.1-2 .4-.5zM209,287.4l.6-.1 2.5,1.1 3,.2 1,.8 .3,1-.3,2 .3,.5 2.7,.4 .6,.6 .1,.5-.4,1-1.3,.9-1,.2-.5-.1-1-.8-.5,0 .2,.8 .3,.7 .9,.8 3.1,2 1,.3 3.5,.4 .5-.1 1-1 .7-1.1 .1-.5-.8-2.5 0-1 .5-1 1-.5 2.5,.1 2-.4 .5,0 2,1.1 2.6,.7 .7,.5 .4,.5-1.1,2.5 0,1 .4,.7 .5,0 1-.5 .8-.7 .2-.5-.3-1-1-1.5 .7-1 1.1-.7 1-.3 1,.3 1,.9 1,1.8 .1,2 .4,.5 2,.3 0,3.6-1.4,.6-2.1,2.1-.5,.3-1.5-.7-2.5,1-1,.1-1-.6-.8-1.2-.2-1 .2-2-.2-.4-4-.9-1-.1-.5,.3-.4,.6-.5,1.5 .2,1.5 .7,1 .4,1-.1,1-.3,.6-.5,.5-1.5,.5-1,.1-2.5-.3-1,.3-1.2,.8-.9,1-.4,1 0,1 .1,.5 .5,.5 3.1,1.5 3.8,1.1 7,.1 3.5,.6 1-.2 1.5-.5 .5,0 .8,.4 .5,.5 .4,1-.1,2-.2,.5-1.3,1-.3,.5-1.2,3.5 1.4,.2 1-.4 1-1 1-1.9 1.5-.2 0,10.4-1-.8-.6-.8-.4-1.7-.5-.6-.5,0-1,1.3-.5,.2-1,0-1-.7-.3-.5-.1-1 .9-2-.5-.5-3.5-.1-1.1-.4-.3-.5 .4-1.5-.6-2-.3-2-.6-.8-.5-.2-.5,.1-.5,.3-1.8,2.1-3.2,1.6-1,.2-2.5-1-.5,0-1.4,2.2-1.7,1.5-1.4,2.5-1,.7-1.6,.8-.5,.5-.1,.5 .3,.5 .6,.5 1.3,.4 1.5,.1 1.4-.5 1.5-1-.2-2 .2-.5 .6-.4 2.5,0 1,.4 .5,.5 .5,1.5-.1,1-.4,.3-.5,.1-1.5-.7-1-.2-.5,.1-.3,.4 1.5,2.5 .2,1-.1,1.5-.5,2-1.2,2-1.1,.7-1.5,.3-2.5,0-2-.6-1,.2-1.5,.8-2,.6-.3,2-.5,.5-.7,0-.5-.3-.4-.7-.7-3 0-.5 .5-1 1.1-1.1 1-.3 2.5-.2 .6-.4 .2-.5-.3-3 .5-3-.6-1.5 .1-2.5-.4-2 .1-2-.2-.5-1.8-1.5-.7-2-.5-.4-.5-.2-1-.1-1.5,.2-4.6,2-.9,.9-.2,1.1 .1,1.5 .6,1 .5,.4 .6,.1 .7-2 .7-.5 .5,0 2,1.2 2,.7 .5,.5 .7,1.6 .3,2-.8,2.5-.5,2.5-1.1,2.5-.6,.9-.5,.3-1,.1-2-.5-2.5-.1-2-.9-1-.1-.5,.3-1,2 0,1 .5,.6 1,.3 2-.2 .5,.3 .6,1-.1,1-.5,.4-2-.7-1-.1-1,.7-.4,.7-.1,.5 .5,1 1,.9 1.3,.6 .5,.5-1.6,1.5-.2,.5 .2,.5 .8,.3 2-.6 1,.2 1,.6 .5,.5 .2,1-.9,3 0,2-.3,.8-.5,.3-.5,.1-1.5-.6-2-1.9-.5,0-1.8,1.3-.5,.5-.1,.5 .4,.5 2.5,.4 2.5,1.1 1.5-.5 1,0 .9,.5 .4,.5 .3,1-.2,.5-2.9,1.5-.9,1-3.6,0-.3-1.5-1.2-1.9-2.5-1.5-4-3.8-1-.1-1.5,.6-1,.1-3-1.3-1-.2-1.1,.6-.3,.5-.6,1.7-.5,.5-.5,.2-1-.4-1-1.3-1.5-.6-.7-.6-.2-.5 .2-1 2-2 .4-1.5-.4-1.5-.8-1.4-2.1-1.6-.4-1 .2-.5 .5-.5 .8-.1 2,1 1,0 .6-.4 .3-1-.2-1-.7-1.2-2-.7-1-.8-.6-.8-.1-1 .7-.9 .5-.3 .5,.2 2,2.6 .5,.3 1.5,.3 1-.2 .4-.5 .1-.5-.1-3.5-.4-1-.5-.4-.5-.1-1,.2-2,1-1,.2-2-1.3-2.6-1.1-.5-.5-.6-1 0-1 .6-1.5-.1-.5-.8-1.5 .5-.3 .6,.3 .4,.5 .1,1.5 1,1 .9,.4 1,.1 1-.1 1.5-.9 .5,0 3,1.3 1,0 1.5-.3 .8,.5 .7,.2 1.3-.2 .1-.5-1.9-1-.1-.5 .6-2-.1-2.5 .4-2-.4-2-.7-1.5-.7-.9-1-.5-2-.5-2.5-.1 2-3 1-.6 1,.1 .8,.5 1.2,1.1 1,.3 2.5-.4 2-1.2 .5,0 2,.9 1,.6 1.9,2.7 1.1,2.3 .5,.1 .5-.2 1-.7 .4-.5 .1-1-.5-.9-1.3-1.6-.5-1-.3-1.5 .4-2-.3-.5-1,0-1.5,.7-.5,.1-.8-.3-.2-.5 .8-3.5 2.3-1.5 .5-1 .1-1.5 .3-.2 4.7,.7 .5,.5 .8,2 .5,.4 .5,0 .7-.4 1.6-2.5 .7-.5 1-.1 2.5,.4 .5,.7-.1,.5-1.5,1.5-.9,2-1.6,2-.1,.5 .2,.8 1,.7 1.5,.3 2.5,.2 2-.1 .5,.1 .2,.5 .2,2 .2,.5 1.4,1.5 .5,1.5 1.4,2 .6,1.3 .5,.2 1-.1 1.8-.9 .3-.5-.9-2 0-2.5-.3-.5-1.4-.5-.6-.5-1.4-2.8-1.9-2.2-.2-.5 .2-1 .8-2 1.3-2.5 .1-1-.5-1-.8-.9-1,0-2,.6-.6-.2-.4-.5 0-1.7 .5-1.3 .5-.4 1.4-.6 .3-.5-.4-1-1.1-1-1.2-.7-2.6-.8-.8-.5-.2-.5-.1-1 .5-1 .6-.5zM185.6,338.8l-.3,.6 .4,1 1.9,3 1,.9 1,0 1-.7 2-2.2 .5-1 0-.5-.5-.5-1,0-2,.4-.5-.1-2-1-1-.1-.5,.2zM195.6,320.3l-.5,.1-1.9,2-1.1,.4-1-.1-.6-.3-.9-1.5-.5,0-.5,.3-.3,.7 .7,3 .2,3-.4,.5-1.4,.5-.5,.5 1.2,.2 .5,0 1-1 1.5-.3 5,.5 1-.3 .5-.3 .4-.8 .1-.5-.6-4.5-.6-1-1.3-1.1zM174.4,287.9l.7,.1 .6,.9-.1,1-.5,.8-.5,.4-.5-.2-.5-.8-.2-.7 .3-1 .7-.5zM195.8,287.9l.8-.1 2,.4 .1,.7-.6,1.8-1,1-2,.7-1.5,1-.5,.1-.3-.1-.5-.5 .2-1 2.4-2.5 .9-1.5zM184.3,289.9l.4,0-.4,0zM174,292.4l.6,0 1.5,1.3 .5,.2 1.6,0-.6,3-2.5,.8-1,0-1.5-.8-1.1-1-.2-1 .3-.7 1-1 1.4-.8zM186.3,292.4l.3-.3 1,.2 1.4,.6 .4,.5-.4,2 1,2.5 .1,1-.5,.6-1.5,.5-1-.4-1-.8-1-.3-.7,.4-.8,1.8-.5,.3-.5-.1-.5-.2-.6-.8-.3-1 .2-.5 2-1.5 .9-2 2-2.5zM185.3,302.4l.8-.2 .5,.1 1,.9 1,0 .3,.2-.1,.5-1.2,.3-1,0-.9,1.7-.5,.5-1.1,.6-1,0-1.5-.4-2,1-1-.5-.5-.7-.1-1 .6-.7 1-.2 2,.3 2.5-1.4 1.2-1zM77,305.4l.6-.2 .4,.2 .1,.5-.5,.5-.5-.1-.2-.4 .1-.5zM39.2,305.9l.4-.2 .5,.1 .5,.6-.3,1-.7,.4-.5-.1-.4-.8 .1-.5 .4-.5zM47.7,306.9l.4-.5 .5,.1 .6,.9 .7,2 .7,.8 .6,1.2 0,1.5-.3,1-.3,.4-1.3,1.1-.2,.5 .1,1 .8,2-.1,.5-1.2,1-1.6,.5-1,0-1.5-.9-.9,.4-.4,.5-.2,1.5-.8,2 .3,2.5 .7,1.5 4.8,3.8 .5,0 1-1 .5-.1 2.3,1.3 .9,1 .3,1.5-.5,1-1,.7-3.3,1.3-.9,.5-.9,1-2.4,1.2-3.5,1-1.5,1.2-.5-.1-1-.7-.8-1.1 .4-2-1.6-5.7-.5-.7-1,.1-1-.2-2.5-2-1-.4-1-.1-.9,.5-.2,.5 .9,3.5 0,.5-.3,.5-.5,.2-1-.2-.8-.5-.3-.5 .1-1 .4-2-.1-.5-1-1.5 .1-1 1.5-3.5 1.6-1 .5-.6 1.5-1.9 .4-1-.4-.9-1.6-1.1-1-1.5-1.2-1-.1-.5 .4-.6 .5,0 1.6,1.6 1.4,.5 1.5-.2 2-.8 .6,0 .4,.2 .2,.3 .1,1.5 .7,1 1.5,.8 1,.3 1.5-.2 .9-.9 .7-2.5 .4-.7 1-.5 2-.2 .5-.4 .3-.7 .4-2.5-.1-2.5 1.5-2zM37.6,321.9l-1,.1-.8,.4-.5,.5-.1,.5 .4,1 .5,.8 1,.8 .5-.1 .5-.4 1.1-1.6 0-.5-.5-1-1.1-.5zM37.6,327.7l-.5,.2-.9,2-.3,1.5 .2,.7 1.5-.8 .8-.9 .1-.5 0-1-.4-.8-.5-.4zM30,309.4l.6-.4 .5,.3 1,1.7-.5,0-1.6-1.6zM137.5,309.9l.6-.3 .5,0 .4,.3 .1,.5-.5,.6-1,.2-.4-.3-.1-.5 .4-.5zM19.7,312.9l.9-.1 .5,.2 .5,.7 .1,.7-.2,.5-.8,.5-2.1,.2 0-2.4 1.1-.3zM55.3,315.4l1.3-.2 .8,.2 .7,.5 .4,1.5-.3,1-1,.5-.6,.1-.6-.1-.4-.3-.8-2.2 0-.5 .5-.5zM66,315.4l.2,0 .1,.5-.2,.1-.1-.1 0-.5zM164.6,315.4l1-.1 1.1,.6 .5,1 .2,1 0,.5-.3,.6-1,.2-1-.1-1-.7-1.1-1-.2-.5 .2-.5 1.6-1zM176,316.9l.6,.2 0,4.3 1,1.6 .2,.9-.2,1.5-.5,.7-.5-.2-.5-.8 0-2.2-.2-1-1.6-1.5-.4-1 0-1 .2-.5 .6-.5 1.3-.5zM107.3,317.4l1.3,.1 .8,.4 .4,.5-.1,1-.6,.8-.5,.3-.5-.2-.9-.9-.4-1 .1-.5 .4-.5zM25.1,320.9l.5,0 .6,.5-.6,0-.5-.5zM128.4,321.4l.7,0 .6,.5 .1,.5-.2,.4-.5,.2-.5-.1-.5-.5-.1-.5 .4-.5zM162.4,321.9l.7-.2 .5,.2 .4,.5 .2,1-.2,.5-.4,.5-.5,.1-1-.1-.6-.5 .1-1 .8-1zM99.2,322.4l.4-.3 .5,.1 1,1.3 .4,.9 0,1.5-.4,.7-.5,.3-3-.5-.9-.5-.3-.5 .3-.5 2.5-2.5zM91.3,323.4l1.3,0 1,.3 1.1,.7 .1,.5-1.2,.4-2,0-.7-.4-.2-.5 .1-.5 .5-.5zM108.3,324.4l.8-.5 .5,.2 .4,.3 .2,1-.1,.5-.5,.5-.7,0-.8-.5-.2-.5 .4-1zM153.5,324.4l.6,.1 .2,.4-.2,.6-1,.3-1.3-.4 .1-.5 1.6-.5zM18.6,325.9l1,.2 1,.8 .8,1.5 .2,1.5-.2,1.5-1.1,2-.7,.5-1,.2 0-8.2zM137.8,326.4l.3-.2 .5-.1 .5,.2 .5,.4 .5,.8 .2,.9-.2,2.5 .7,1.5-.7,.3-1.5-.1-1.9-.7 .4-3.8 .7-1.7zM72.5,326.9l.6,0 2,.9 1,.1 1-.1 2-.8 .5,0 .4,.4 0,1-.5,1.5-.9,.9-1,.3-1.5-.1-2.3-.6-.9-.5-.3-1-.1-2zM65,329.4l.1-.2 .5-.1 .4,.3 .2,.5-.6,.1-.6-.6zM85.4,329.4l1.2-.4 .6,.4 0,.5-.4,1-.7,.7-1,.4-.5,0-.5-.5-.1-.6 .6-.9 .8-.6zM102.3,329.4l.8-.2 .9,.2 4.1,2 1,1 .2,1-.2,.7-.5,.3-3,.1-2-.4-1-.5-.6-.7-.4-1.5 .2-1 .5-1zM67.6,331.9l2,.7 .8,.8 .3,1 0,1-.5,1-1,1-2.1,1.1-3.5,.9-1-.1-2.6-3.4-.1-.5 .6-1 .6-.8 1-.5 1,.1 1.5,.4 1,0 .5-.2 1-1.3 .5-.2zM229.7,331.9l.9-.3 1.3,.3 .5,.5 0,.5-.3,.7-.5,.5-.5,0-.5-.3-.8-.9-.2-.5 .1-.5zM117.9,332.4l.2-.2 .5-.1 1.7,1.3 1,1.5 0,.5-.3,.5-1.4,.8-.5,.1-.5-.3-.5-.8-.6-1.8 .1-1 .3-.5zM125.7,334.4l.9-.3 1,.3 .4,.5 .1,1-.5,.9-.5,.4-1,.3-1,.1-1-.6-.2-.6 .7-1 1.1-1zM246.2,334.9l.4-.4 0,2.7-1,.2-1.1,1-.9,.4-1,0-.5-.4-.1-1 .5-.5 2.1-.3 .5-.2 1.1-1.5zM75,335.9l1.1-.3 .5,.3 .1,.5-.2,.5-.4,.4-.5,.2-1-.2-.5-.4 .2-.5 .7-.5zM230.3,336.4l.8-.4 .5,0 2,1.4 1.5,.7 1.5,1.3 1,.6 1-.1 2-.6 1,0 .5,.6 1,2.4 .5,.6 1,.3 2,0 0,8-1.5-.4-2-1.9-3-2-.4-.5-.2-1-.6-1-1.3-1.1-2.5-.1-1.5,.4-.7,.8-.9,2-.9,.6-.5,0-1-.3-1.7-1.3-.8-1-.2-.5 .1-.5 1.2-1.5 .2-.5-.3-1.1-.5-.6-.5-.1-1.5,.7-1,.1-.4-.5 0-1 .2-.5 .5-.5 .7-.1 2,.3 2.7-1.7zM18.6,336.9l0-.1 .5,.1 .6,.5 .1,.5-.5,2 .1,.5 .8,1.5 .4,2 .5,.9 1,.6 4,.7 1,.8 .3,.5-.1,.5-.5,.5-2.7,.5-.4,.5 .1,.5 .3,.5 1.5,1.2 .5,.1 1.5-.9 1-.1 1,.6 2,2 2.5,.7 .6,.4 .6,1 .4,1-.1,1.1-.5,1.1-1,.8-1,.1-1.4-.6-1.1-2.1-.5-.2-3.5,1.7-1,.1-1-.1-.5,.2-.1,1.4 .9,1 1.2,.7 .5,.1 2.5-.6 .5,0 .4,1.8-10.5,0 .4-2.5 .1-1.5-.3-1-1.1-.4 0-2.8 1-.4 .5-.6 .5-1.3 .2-1.5-.1-.5-.6-.9-1-.9-.5-.2 0-11.5zM25.6,353.7l-3,2.2-.3,.5 .3,.7 1,.6 .5,.1 .5-.5 1-1.2 .3-.7 .1-1-.4-.7zM131,339.4l1.6-.2 .8,.2 .5,.5 .3,1-.1,1.5-.5,1.1-.5,.3-.5,0-.5-.2-1.7-1.7-.3-1 .1-.5 .8-1zM53,340.4l1.6-.4 1.5,.1 2,1.3 2.5,1 .5,.4 .3,.6 .4,2.5 2.1,2.5 .5,1 .2,1-.1,1-.7,1-1.2,.7-1,.1-1-.3-2.5-1.8-1-.2-.7,.5-.8,2.2-.5,.1-1.2-.8-.8-1-.4-1-.6-3-.1-2-.7-2.5-.1-1 .3-1 .5-.5 1-.5zM56.6,345.2l-.4,.2-.2,.5 .5,.5 .6,.1 .5-.6-.2-.5-.8-.2zM87.9,341.4l4.7-.2 1.5,.1 .8,.6 .3,.5 0,1.5-.6,1.5-1,1.3-2.7,2.2-2.3,2.5-.5,.3-1,.1-2.5-.5-.6-.4-.3-.5 .1-2-.3-2 .1-.5 2.5-3.4 1-.8 .8-.3zM124.7,341.9l.9-.1 .3,.1 .2,.5-.7,1-2.3,1.9-.3-.4 .3-1.2 .5-.9 1.1-.9zM69.7,342.9l.9-.5 .5,.2 2.2,2.3 .1,.5-.2,.5-1.1,1-.5,.3-1,0-1.6-.8-.2-.5 .1-1 .8-2zM202.5,343.4l.3,.5-.1,.5-.6,.1 0-.7 .4-.4zM40.1,344.4l.5,0 .5,.3 2.9,2.7 1.8,2 .8,.3 2.5,.1 .9,.6 .3,.5-.2,1-1.1,2-.9,1-3,1.6-1,.2-1-.4-2.4-2.4-2.5-1.5-.3-.5-.1-1 1.6-3 .3-2.5 .4-1zM142.1,345.9l.5-.3 1,.3 1.5,1.8 .5,.2 .6,.5-.1,1-1-1.3-1,0-1,.4-2,1.3-1,.1-2-.4-.5,.4-1.1,1.5-.8,.5-.6-.1-.5-.4-.2-.5 0-1 .7-.8 2.5-.4 3-1.5 1.5-1.3zM110.7,346.4l.4-.3 .5,0 .5,.2 .5,.6 0,1-.5,.6-.5,.2-.5-.1-.5-.5-.2-.7 .3-1zM66.8,346.9l.5,0 .3,.5-.5,.5-.5,0-.3-.5 .5-.5zM209.9,348.4l.7-.3 1,.1 .5,.4 .7,1.3 .8,.9 1.5,.7 1-.3 1.5-2.5 .5,.5 .6,1.2 .2,.5-.3,.5-2,1.2-1.9,2.3-.4,1 1.5,2.5 1.3,1.5 .1,1-.5,2-2.4,0-.8-2.5 .2-2.5-.2-1.5-.7-.5-2.4-1-.4-.5-1.6-3-.4-1 .1-.5 .9-1 .9-.5zM234.1,348.4l.5-.1 .5,.4 .2,.2-.2,.6-.5,.2-.7-.3-.2-.5 .4-.5zM162.6,348.9l.5-.4 .5,0 .8,.4 .5,.5 .2,.5-.2,.5-.8,.5-1-.3-.6-.7 .1-1zM145.9,350.4l.2-.5 .5,.4 .7,1.1 0,.5-.7,.5-1,.2-.2-.2-.1-.5 .6-1.5zM227,350.4l.6-.2 .5,.2 .7,2 .5,.5 2.2,1.5 .4,.5 0,.5-.6,1-1.2,.9-1.5,.8-2,.5-.5,.7-.5,.1 0-.6 1-.9 .5-.8 .8-2.2 0-1.5-1.4-2 .1-.5 .4-.5zM239.1,350.9l2-.4 1,.1 1.1,1.8 .4,.3 1.5,.3 .5,.4 .4,1-.4,2 .4,1 .6,.5 0,5-16.9,0 .3-1.5 .6-.8 3.5-2.9 2.3-1.3-.3-1.5 .1-1 2.2-2.5 .7-.5zM241.6,355.3l-1.5,.6-2.5,.6-.7,.4 .6,2 .6,1 1,.5 1,0 1-.5 1-1 1-1.5 .3-1-.3-.8-.5-.5-.5,0-.5,.2zM220.8,351.9l.5,0 .3,.2 .1,.3-.1,.3-.5,.2-.4-.5 .1-.5zM103.4,352.4l.7,0 .5,.4 .1,.6-.1,.5-1,1.1-1,.2-.5-.2-.5-.6 .1-.5 .7-1 1-.5zM72,352.9l.6-.1 1,.2 .5,.4 .3,1-.3,1-.4,.5-1.7,2-.3,1 .1,1-.2,.6-.5,.1-2-.2-1,.1-1.2,.9-.4,1.5-7.9,0 .1-1.5 .6-2 .4-2 .5-1 .4-.2 1-.1 3.5,1 5-.4 .5-.3 .3-.5 .5-2.5 .6-.5zM116.1,355.4l1-.2 .3,.2-.3,.5-.5,.1-.7-.1 .2-.5zM137.6,356.4l1.5-.4 1,.4 .5,1 .1,1-.1,.6-.4,.4-.6-.1-1.6-1.4-.6-1 .2-.5zM173.5,356.4l.6-.3 .5,.1 .2,.2 .1,.5-.4,.5-.9,.3-.4-.3 0-.5 .3-.5zM79.5,357.4l.6-.2 .5,.2-.1,.5-.9,.5-.5-.5 .4-.5zM49.9,357.9l1.2-.4 .7,.4 .5,1 .7,2.5 1.1,1.5-7.5,0 .4-1 1-1.5 .8-1.5 1.1-1zM91.9,357.9l.7-.5 1.5,1.4 2,.7 1.5,1.1 2,.4 .5,.9 0,1-7.9,0 .1-2-.8-1.5 0-.5 .4-1zM150.8,357.9l1,0 .6,.5-.8,2.1-.5,.5-.5-.2-.7-1.4 .1-1 .8-.5zM144.9,359.4l.7-.2 .5,.1 .5,.4 .3,.7-.3,1-1,1.5-1.4,0-.6-1.5 .2-1 1.1-1zM130.6,359.9l.6,0 .8,.5 .2,.5-.1,.6-.5,.3-.5,0-.7-.4-.4-.5-.1-.5 .7-.5zM167,359.9l.1,.5-.1-.5zM186.1,359.9l.5-.2 2,0 .5,.2 .5,.5 .1,1-.9,1.5-2.2,0-.5-3zM122.6,360.4l2,0 1.7,.5 .6,.5 .1,1.5-5,0-.1-2 .7-.5zM172.9,360.9l.7-.2 .5,.3 .7,.9 .3,1-3.8,0 .5-1 1.1-1zM55.9,362.4l.3,0 .5,.5-1.6,0 .8-.5z" fill="#abd9e9" fill-rule="evenodd"/>
<path d="M204.3,245.4l.3-.2 .5,0 .8,.7 .3,.5 0,.5-.4,.5-.7,.2-.5-.1-.5-.5-.1-1.1 .3-.5zM183.5,249.4l.1-.2 .5,0 .2,.2 .1,.5-.3,.4-.5-.4-.1-.5zM199.2,256.4l.9-.3 1,0 1.9,.3 .6,.4 .6,.6 .1,1-.4,.5-.8,.5-1.5,.3-1-.2-1-.7-.6-.9-.2-1 .4-.5zM246,262.4l.6-.1 0,5.4-1-.3-1-.7-.5-.7-.2-.6 .2-1 .5-1 .5-.6 .9-.4zM215.6,276.4l.5-.3 .5-.1 .5,.2 .6,.7 .2,.5 0,1-.8,1.1-.5,.1-.5-.1-.5-.6-.4-1.5 .4-1zM246.4,276.9l.2-.2 0,1.1-.3-.4 .1-.5zM210.5,289.9l.1-.3 .5-.1 3,.3 .5,.3 .2,.8-.3,.5-.9,.1-3.1-1.6zM227.5,293.9l4.1-.3 1,.1 1.4,.7 .7,.5 .7,1 0,1.5-.4,1.5-.4,.5-.5,.2-1,.1-4.5-1.4-1.5-1.9-.4-1 .2-1 .6-.5zM172.7,294.4l.9-.4 .5,.1 .5,.3 .4,1-.2,.5-.7,.4-1.3-.4-.4-.5 0-.5 .3-.5zM186,294.4l.6-.3 .5,.1 .5,.5 .7,2.2 0,.5-.3,.5-.9,.1-1.3-.6-.7-.5-.3-.5 .2-1 1-1zM240.7,294.9l.9-.3 .5,.3 .7,1 .1,1-.6,2 .3,1.4 .5,.3 1.5-.4 2-.1 0,1.9-2.5,.9-.5,0-.6-.5-.4-.6-.5-.1-3.5,3.1-.5,.2-.5-.1-.5-.5-.1-.5 .3-1 1.1-2 2.3-2 .4-.5 0-1-.6-1.5 0-.5 .2-.5zM227.8,299.4l.3-.2 .4,.2 .2,.5-1.3,4 1.1,2 .1,.5-.3,.5-1.2,.5-2,0-1,.2-3.4,2.3-1.1,1.5-.5,.3-.5-.2-1.6-2.6-.9-2 0-1.5 .6-1.5 2.4-2.3 1-.4 1.5-.1 1.1,.3 .7,.5 1.2,2.4 .5,.4 .5,.1 .5-.1 .5-.3 .2-.5-.5-1.5 0-1 .8-1.5 .7-.5zM197.1,302.9l1.5-.5 .5,.1 .7,.4 .3,.5 .2,1.5-.2,1-.5,.7-1.5,1.2-3-.3-1.5,.3-.5-.3 0-.6 .5-.9 2-1.3 1.5-1.8zM205.1,305.4l-.5,1-.3-.5 .3-.4 .5-.1zM198,308.9l.6-.4 1.5,.1 4.5,2.2 5.5,1.2 1,.4 .4,.5-.2,1.5-.6,1-.6,.5-1,.5-4.5,1.5-2.2,.5-1,.5-.5,1-.4,2 .1,1 .4,1 1.1,1.5 1,.8 1,.3 .6-.1 .9-.5 1-.8 1-.4 1,0 .5,.2 .6,.5 .4,1 .2,1.5-1.4,3.5-.2,2-.4,1-.7,1-1,.3-2-.5-2.5-.2-2.5-1.2-1-.2-.9,.3-1.1,2.1-1.5,1.4-1,.6-4,.9-1-.1-2.5-.8-2.5,.1-.5-.2-.8-1-.3-1-.3-4 .1-.5 .3-.2 1-.2 6-.3 .6-.3 1.3-1 .6-.1 4.5,.2 1.4-.6 .8-1-.1-3 .3-2.5-1.3-2.5 .1-.5 1.4-1.5 .1-1-.8-1.5-1.7-2-.5-1.5 .4-1.5 1.3-1.5zM190.6,314.9l1-.1 1,.4 1,1 .6,1.2 0,1-.6,1.5-.6,1-.4,.4-.5,.2-.5-.3-.5-.8-1-.7-1-.1-2,.5-.5-.3-.6-.9-1-2.5 .1-.7 .5-.4 1,0 2,.6 2-1zM222.1,315.4l1,0 4,1 1.5,.9 1.6,.6 .1,.5-.2,.5-.8,1-1.6,1-.6,.2-1-.1-1-.6-1.5-2-1.8-1.5-.2-.5 .1-.5 .4-.5zM235.8,317.4l.8-.3 3,.2 2-.2 .5,.2 .5,.6 0,1.1-1.4,1.9-.8,2.5-.8,.7-1.5,.2-1-.5-1.3-3.4-.2-2 .2-1zM219.8,321.4l1.3-.4 .5,.4 0,1-.5,.6-1.8,.9-.7,2.4-.5,.7-.5,.3-1,.3-1-.3-.4-.9-.4-2 0-.5 .3-.8 1-.4 2,0 1.7-1.3zM32.3,322.4l.3-.1 .5,.2 1.6,3.4 .2,3-.3,1-.5,.5-.5,.1-.5-.2-1.6-1.4-.6-1-.3-2.5 .1-1 .5-1 1.1-1zM186.1,322.9l.5-.1 .5,.2 .8,.9 .5,1 .1,1.5-.4,.7-.5,.4-1,0-.5-.2-.5-.4-.2-.5 .1-2.5 .1-.5 .5-.5zM246.5,323.9l.1,5.1-.7-1.1-1.3-1.5-.1-.5 .6-.9 1.4-1.1zM18.6,329.4l0-.5 .2,.5-.2,.9 0-.9zM177.5,330.4l.6-.3 .5,0 .4,.3-.3,.5-1.6,.8-.5,0-.7-.3 .2-.3 1.4-.7zM220.8,331.9l1.3-.4 .5,.2 1,.9 .7,1.3 0,1-.3,1-1.4,2.5-1,1-1.5,.4-2-.3-.9-.6-1.3-1.5-.6-3.5 .2-1 .1-.2 .5-.2 1.5,.3 1,0 2.2-.9zM39.3,332.4l.8-.1 3,1.2 2.5,.4 1.7,1 0,.5-1.2,1.1-1.7,2.4-.8,.8-1.5,.4-1.5-.3-1-.7-1-1.1-.7-1.1-.3-1-.1-1.5 .4-1 .7-.7 .7-.3zM63.7,335.4l1.4-.2 1.5,.2 .8,.5 .2,.5-.3,.5-.7,.4-2.5,.3-.6-.2-.4-.5-.2-.5 .2-.6 .6-.4zM230.1,337.4l1-.2 .5,.1 1.5,1.1 2,.8 2,1.6 .5,.2 2.5-.8 1,.2 .5,.6 .4,.9 .1,1.5-.5,.6-1,.2-1-.6-2-1.6-4.5,.6-.5,.1-.5,.4-.3,1.8-.5,1-.7,.3-1-.3-1.1-1-.4-1 1.3-2-.1-1-.6-2 .7-1 .7-.5zM211.9,337.9l1.7,0 .5,.1 .6,.4-.8,1-1.3,.4-.9-.4-.5-.5-.1-.5 .8-.5zM182.5,339.9l1.1-.2 .5,.3 1.7,2.4 1.3,2.4 .5,.4 1,.3 1,0 .5-.2 4-3.6 .5-.3 .5,.3 .5,1.7 1.3,1.5 .5,1-.2,2 .7,2.5-.3,1-2,2.9-2,1.3-1-.1-.8-.6-.5-1-.1-1 1.1-2 0-1-.7-.9-1-.4-.5,.1-.5,.7 .1,2.5-1.6,.7-1.5,1.2-.5,0-.9-.4-.7-1 .1-.9 .5-.8 1.6-.3 0-.5-.6-.3-.5,.1-1,.6-2.5,.4-3,1-.5,0-.5-.3 .3-3-.9-3 .4-.5 .7-.3 .7-.7 1.3-3 .5-.4 1.4-.6zM53.3,341.4l1.3-.5 1,.1 1.2,.9 .5,1-.4,.5-2.3,1.2-1,.1-.5-.3-.6-1 0-1 .8-1zM91.5,342.9l1.1-.5 1,.5 .3,1-.2,1-.6,1-1,1-1.5,.7-1,0-.2-.2 .1-1 1.1-1.5 .9-2zM244.7,344.4l1.9-.4 0,5.7-.7-.3-.4-.5-.5-2-.8-1.5 0-.5 .5-.5zM85.8,346.9l.3-.4 .5,0 1.6,1.4 .3,.5-.2,1-.7,.7-1,.1-.5-.3-.4-.5-.2-1.5 .3-1zM59.9,347.4l.7-.1 1,.6 1.3,1.5 .3,1-.1,.5-.2,.5-.6,.5-.7,.2-1-.2-1-.7-.7-.8-.4-1 0-.5 .6-.9 .8-.6zM54.5,347.9l.6,.2 .4,.3 .1,.5-.5,.6-.5-.1-.3-.5-.1-.5 .3-.5zM42.1,348.4l.5,.1 .5,.4 .1,1-1.1,.8-.6,1.2-.4,.2-1-.2-.4-.5 .1-.5 1.4-1 .4-1 .5-.5zM210.3,349.4l.8,0 .5,.4 2.3,2.6 .2,.5-.1,.5-.9,.9-.5,.2-1,0-.5-.3-.7-.8-1.2-2.5 0-.5 .3-.5 .8-.5zM201.2,349.9l.9-.4 .5,.1 .5,.3 .2,.5 0,1-1,1.5-.3,1.5-.4,.3-.5-.3-.1-.5 .2-1-.3-2.5 .3-.5zM46.7,351.4l.9,0 .5,.5-.3,1-.5,.5-.7,.3-1,0-.4-.3-.1-1 .3-.5 1.3-.5zM22.5,351.9l.6,.3 .1,.7-.3,.5-.8,.3-.3-.3 0-.5 .3-.8 .4-.2zM239.3,351.9l.8-.3 1,.2 .5,.6 0,.5-.4,1-.6,.6-1,.5-1,.1-.6-.2-.2-.5 .1-.5 .7-1.3 .7-.7zM229,354.9l.6-.4 .5,.1 .3,.3 .2,.5-.5,.6-1,.4-.3-.5 .2-1zM61.6,358.4l.7,.5 .5,1.5 .3,.4 1.5,1.1 .3,1-4.9,0 1-4 .6-.5zM234.6,358.4l1-.2 .5,.2 1.5,2 .5,.4 1,.3 1.5,.1 1-.1 .5-.3 1.5-2.1 .5-.4 .5-.1 .5,.3 1.5,1.5 0,1.7-2,.5-.6,.7-13.7,0 .2-1 .6-.8 3.5-2.7zM21.4,360.4l.2-.1 .5,.3 1.6,2.3-3.1,0 .4-2 .4-.5zM215.1,360.9l.5-.4 .4,.4 0,.5-.4,.6-.5-.5 0-.6zM49.3,361.9l.8-.4 .5,.1 .5,.4 .5,.9-3,0 .7-1zM94,361.9l.6-.5 .5,.2 .3,1.3-1.8,0 .4-1zM173,361.9l.7,0 .4,.3 .2,.7-2,0 .2-.5 .5-.5z" fill="#74c8e3" fill-rule="evenodd"/>
<path d="M246.5,264.4l.1,.9-.3-.4 .2-.5zM230.1,294.4l1-.3 1,0 1.5,.8 .4,.5 .3,1-.3,1.5-.4,.7-1,.2-1-.4-1.7-1-1.2-1-.5-1 .4-.5 1.5-.5zM220,302.4l.6-.3 1-.1 1,.5 1.3,2.9 .1,1-.9,1-1.5,1.2-1.5,.6-1,.1-.8-.4-.6-1-.5-1.5 0-1 .4-.9 .5-.6 1.9-1.5zM198.2,309.9l.9-.4 1,.1 4,2.1 2.5,.1 1.5,.4 1.4,.7 .5,.5 0,1-.9,1.2-2.5,1.1-2.5,.4-3-.3-1-.6-2.8-3.3-.2-.5 0-1 .5-1 .6-.5zM190.6,315.9l.5-.2 1,0 1,.7 .4,1 0,.5-.4,.9-.5,.4-1,.1-4.2-1.4 .2-.2 1.5-.6 1.5-1.2zM225.4,317.9l.2-.3 .5-.2 .8,.5 .4,1-.2,.5-.5,.2-.6-.2-.4-.5-.2-1zM237.5,317.9l2.1,.3 .5,.2 .4,.5-.5,3-.4,.9-.5,.4-.5,.1-.8-.4-1.2-2.5-.1-1 .1-.9 .5-.5 .4-.1zM186.4,324.9l.2-.3 .5,0 .5,.7 0,.6-.4,.5-.6-.1-.2-.4 0-1zM216.3,324.9l.3-.3 .5,.2 .2,.6-.2,.5-.5,0-.3-1zM199.9,325.9l.2-.3 .5,0 1.5,1.5 1.5,.6 1,.1 .5-.1 2.5-1.9 1,0 .5,.3 .5,1.3-.5,1.6-1,.7-2.5,.1-.3,.6 .2,1 .4,.5 1.4,1 .1,.5-.3,.9-.5,.2-1.5-.3-2,.1-1-.1-3-1.5-2.5-.5-1,.7-.3,.5-.3,1.5-.9,1.5-1,.8-2,.8-1.5,.2-4.5-.9-1-.4-.5-.5-.3-1-.1-1 .2-1.5 .3-.5 .9-.4 2.5-.4 3.5-.1 2.5-1.2 1,0 1.5,.4 1,0 3.3-2.3 .2-.5-.2-2zM220.9,332.9l.7-.4 .5,0 .8,.4 .6,1 0,1.5-.9,2-1,1.2-1,.6-1.5-.1-1-.5-.5-.7-.3-1 0-1 .6-1 1.8-1 1.2-1zM38.9,333.9l.7-.4 1,0 2,.6 1.5,.8 .5,.5 0,1-1,1.5-1,.8-1,.1-1-.2-1.5-1.1-.7-1.1-.1-1.5 .6-1zM230.6,338.4l.5,.1 .6,.9-.1,.5-.5,.4-.5,0-.5-.4-.2-.5 0-.5 .7-.5zM182.1,341.4l1-.2 .5,.2 1,.9 1,1.6 .5,2.5-2.2,1-.7,1-.6,.4-1.5,.2-.5-.3-.1-.3 .3-1-.7-1.6-.2-.9 .3-1 .7-1.5 .7-.7 .5-.3zM239.5,341.4l.6-.3 .5,.2 .4,.6-.1,.5-.3,.4-.5-.1-.7-.8 .1-.5zM192.4,344.4l1.2-.4 1,.2 1.4,1.2 .4,1 .4,4-1.7,3-.5,.5-1,.4-.5-.1-.5-.8 .6-2.5-.1-1-.5-.7-1.9-1.8-.2-.5 .3-1 1.6-1.5zM229.6,344.4l.5-.4 .5,.4-.2,.5-.3,.1-.5-.6zM186.4,346.9l.2-.2 1-.1 .9,.3 .2,.5-.5,.5-.6,0-.8-.5-.4-.5zM60.4,349.4l.2-.1 .7,.1 .4,.5-.1,.7-.5,.3-.8-.5-.2-.5 .3-.5zM234.6,359.4l1,0 1.5,1.6 1,.5 2,.5 .7,.4 .3,.5-10.2,0 .2-.7 .5-.7 3-2.1z" fill="#4575b4" fill-rule="evenodd"/>
<path d="M230.4,294.9l1.2-.3 1.2,.3 .5,.5 .2,.5 0,.5-.4,.9-.5,.3-.5,.1-1.6-.8-.7-1 0-.5 .6-.5zM220.1,303.4l1-.4 .5,0 .5,.4 .6,1 .4,1.5-.4,1-.6,.6-1,.7-1,.2-.5-.1-.7-.4-.4-.5-.3-1 .1-1 .3-.5 1.5-1.5zM198.9,310.4l.7-.1 1,.3 3,2 1,.1 2-.3 1,.2 1.2,.8 .2,.5 0,.5-.2,.5-.7,.6-2,.8-1.5,0-3.5-.7-2.5-2.2-.7-1 0-1 .3-.5 .7-.5zM191.1,316.4l1,0 .6,.5 .2,.5-.1,.5-.6,.5-1.1,0-.7-.5-.1-.5 .2-.5 .6-.5zM237.5,319.4l.6-.4 .5,.1 .4,.3 .2,.5-.1,1-.5,.7-.5-.2-.5-.9-.1-1.1zM207.4,327.4l.7-.3 .3,.3 0,.5-.3,.3-.5,0-.3-.3 .1-.5zM200.8,329.4l1.3-.2 .5,.1 .6,.6 .7,1.5 .2,1-.1,.5-.4,.3-.5,.2-1-.1-3.1-1.9-.3-.5 .3-.5 .6-.5 1.2-.5zM186.6,332.4l2-.3 3.5,.5 .5,.2 .6,1.6-.2,1.5-.9,1-1,.5-1,.3-1.5-.1-3.5-.9-.5-.3-.5-.8-.1-.7 .1-1 .5-.7 2-.8zM221.5,333.9l.6-.2 .6,.7-.1,1.5-.5,1.5-.5,.6-1,.7-1.5-.1-.5-.4-.5-.8-.1-1 .2-.5 .9-.8 2.4-1.2zM39.5,334.4l.6-.2 1,0 1.5,.7 .5,.5 .3,.5-.4,1-.5,.5-.9,.4-1-.1-.7-.3-.6-.5-.4-1 .1-1 .5-.5zM182.1,342.4l.5-.2 1,.3 1,.9 .4,1 0,.5-.2,.5-.7,.6-1,.3-1,0-1.1-.9-.2-.5 0-1 .6-1 .7-.5zM192.3,345.4l.8-.4 1,0 1,.5 .6,.9 .2,1.5-.1,2-.2,.5-1,.9-1.1-1.9-1.8-2-.2-1 .8-1zM234,361.4l1.1-.4 1,1 2.5,.4 .9,.5-7.7,0 .3-.6 1.9-.9z" fill="#313695" fill-rule="evenodd"/>
<path d="M86.5,188.9l.9-.5 125.6,0 4.3,6 2.1,2 1.7,1.3 10.5,5.2 7.5,2.5 1.5,.7 1.2,.8 1.8,1.9 2.2,3.1 .8,2 0,1.6-.4,.9-.9,1-2.2,1.1-4,.8-4.5,.2-4.5-.3-4.5-1-4.5-.8-4.5-1-7.5-1.4-3-.1-1.5,.4-1.1,.6-.9,1.1-1.6,2.9-1,1.5-1.4,1.2-1.5,.5-1-.2-1.5-1-3-3.3-1-.9-1-.6-1.5-.4-1.5,0-2,.2-6,1.3-2,.2-2.5-.2-4-.8-1.5,0-2,.4-4,1.2-1.5,1-.8,.9-.5,1-.2,1.5 .9,2 0,1.5-.5,1-1.5,1.5-.4,1-.1,2.5 .6,7.5-.2,3-.8,3-1.4,4-1.1,2.3-3.5,5.3-1.7,1.9-1.8,.8-1,.1-1-.1-2-1.2-2.5-2.6-1.1-1.5-1-2-5.4-13.5-1.5-2.3-1.5-1.6-1-.6-1.5-.3-1.5,.3-4.8,1.5-1.7,.8-2.8,2.2-2.8,1.5-3.9,1.3-8,1.6-1,.4-2,1.9-1,.7-3.5,1.1-4.4,3-1.6,1.3-6,6.2-2.5,2.4-1.5,1.1-3.5,1.8-.9,.7-.8,1-.8,1.6-2.1,6.4-2.9,6.4-2.5,7.5-1,1.5-1,.5-1-.5-.5-.8-.5-1.5-.2-3.1 .3-3 1.6-6.5 .8-7.5 1-3.3 1-1.8 1-1.2 1-.8 2.5-1.5 1-1 3.8-5.4 7.6-8.5 .5-1-.1-.5-1.2-1.5-.4-1 .1-1 .3-.5 .9-.8 1-.4 3.5-.4 .6-.4 .1-.5-.6-1-2.1-2-.5-1-.1-1 .3-1 .8-1.1 2-1.9 .2-.5 0-.5-1.7-3-1.1-3-2.6-9-2-9-.8-1.5-3-1.9-1.2-1.1-.7-1-.3-1.5 .1-1.5 .5-1 .6-.7 1-.8 2-.5 4.5,.2 2.4-1.2zM96.6,225.1l-.9,.8-.2,.5 .1,.5 .5,.5 1,.1 .9-.6 .2-1-.1-.5-.5-.4-1,.1zM57.4,243.4l1.7-.4 2,.3 1,.6 .4,.5 .1,1-1,1-1,.4-1.5,.1-1.5-.2-1.4-.8-.3-1 .6-1 .9-.5zM38.7,246.4l1.4-.2 1.5,.4 .7,.8 .1,1-.8,.8-1,.4-1,.1-1.1-.3-.8-.5-.4-1 .6-1 .8-.5zM42.8,269.4l2.8,0 1.1,.5 .1,.5-.3,.5-.8,.5-3,1-3.1,.2-1.1-.2-.7-.5 .1-.5 1.3-1 1.3-.5 2.3-.5zM46.9,298.9l2.7-.1 .5,.1 .3,.5-.3,.5-1.7,1-3.8,1.3-2,.3-1.5,.1-1-.2-.2-.5 .4-.5 1.6-1 2.7-1 2.3-.5zM54,303.9l2.6-.4 2.5,.4 1.4,1 .3,.5 0,1-.8,1-1.9,.8-2,.1-2-.4-1.6-1-.5-1 .4-1 1.6-1zM61,320.4l.6-.2 .5,.2 .5,.5 .4,1 0,1-.4,1.3-.5,.6-.5,.1-.5-.1-.5-.6-.5-1.3 .1-1.5 .8-1zM50.9,321.4l2.7-.1 .7,.1 .6,.5-.1,.5-.6,.5-2.1,.8-3,.2-1.1-.5 0-.5 .4-.5 .9-.5 1.6-.5zM53.3,327.9l1.1,0 .7,.3 .5,.6-.1,.6-.6,.5-.8,.2-1.5-.4-.4-.3-.1-.5 .2-.5 1-.5z" fill="#fee090" fill-rule="evenodd"/>
<path d="M168.5,188.9l1.6-.5 20.2,0 5.3,1.6 9.5,4.3 2,1.3 4.5,3.4 3.4,1.9 4.6,2.2 6,2.1 7.9,3.7 1.6,1 1.6,1.5 .5,1 .1,1-.7,.9-1.3,.6-1.7,.3-2,0-2.5-.5-6-1.7-6-2.4-2.5-.8-8-.8-6-1.3-4-.2-4.5-.5-3.5-.2-2.5,.3-3.5,.9-2.5,.1-6.5-1-11-1.3-3.5-.9-2-1-1.2-1-1.9-2.5-1.5-1-3.4-.9-4-1.4-5-.4-2.5-.5-7.5-2.5-1.5,0-1.5,.4-2,.8-.5,.5-.1,.5 .5,2-.3,1-1.1,1-1.5,.4-1,0-1-.4-.7-.5-1.3-1.4-.5-.1-3,.2-3-.4-2.5,.3-1-.2-1.6-.9-.8-1.5 .3-1.5 .6-.8 1-.7 1.5-.3 2,0 2.5-.9 1.5-.3 4,.2 6.5,1.5 2.5,.1 2-.4 5-2.2 1.5-.3 2-.1 4,.6 7,1.9 3,.2 10.5-1.8 5.4-1.7zM79.1,193.4l.5-.3 .7,.3 .2,.5-.2,.5-.7,.2-.4-.2-.2-.5 .1-.5zM90.8,194.4l1.8-.4 1.9,.4 1.4,1 .4,.5 .3,1-.4,1.5-1.1,1.7-2,2.1-1.5,.8-1-.2-1-1.1-.8-1.8-.2-1.5 .1-1.5 .4-1 .9-1 .8-.5zM141.1,208.9l1-.2 1,.3 1.4,1.4 1.6,4.1 2,1.8 1,1.5 3.6,9.1-.2,2 .5,10-.3,3.5-.8,2.5-1.3,2.6-1.5,1.8-1.5,.7-1.5-.2-1-.6-1-1-1.5-2-1.6-3.3-1.7-5.5-.9-2.5-1.8-3-3.6-5-.7-1.5-.4-1.5-.1-1.5 .3-2 .7-2 .8-1.8 .5-.8 1-.9 2.5-1.3 1.7-3.2 .8-.9 1-.6zM154.7,225.4l1.4-.4 1.5,.3 .9,.6 .1,.5-.1,.5-.4,.5-1,.4-1,.1-1.5-.3-1.2-.7 0-.5 .4-.5 .9-.5zM89.4,230.4l.7-.1 .4,.1 .2,.5-.6,.5-.5-.1-.5-.4 .3-.5zM118.6,230.4l2.5-.4 1.5,.1 1,.2 1,.6 .5,.5 .2,.5-.1,1-.9,1-1.7,.7-2,.1-2-.3-1.5-1-.4-1 .4-1 1.5-1zM104,233.9l1.1-.3 1.5,0 2.4,.8 1.1,.8 .5,.7 .1,1-.2,.5-.4,.5-1,.7-2.7,.8-4.3,.2-1.5-.2-1.1-.5-.5-.5-.1-.5 .1-.5 .7-1 2-1.5 2.3-1zM97.5,242.4l1.1,.2 .5,.5 .3,.8 0,.5-.3,.8-1,.7-1-.1-.5-.3-.6-1.1 .1-1 .4-.5 1-.5zM54.5,304.9l1.6-.5 1.5,.2 1,.4 .4,.4 .2,.5-.2,.5-.9,.7-1,.2-1.5,0-1.1-.4-.6-.5-.2-.5 .2-.5 .6-.5z" fill="#fdae61" fill-rule="evenodd"/>
<path d="M108.5,193.9l.6,0 .5,.3 .3,.7-.3,.9-.5,.3-1-.2-.4-.5-.1-.5 .2-.5 .7-.5zM186.8,195.9l1.8-.5 1.5,.3 1.4,.7 .4,.5 .1,.5-.2,.5-1.2,.5-2-.1-1.2-.4-.7-.5-.3-.5-.1-.5 .5-.5zM121.7,197.4l.5,0 .7,.5 0,.5-.3,.4-1,.2-.6-.6 0-.5 .7-.5zM141.3,211.4l.8-.3 .5,.2 .5,.9-.1,1.2-.4,.7-.5,.2-.5-.1-.7-.8-.1-1 .5-1zM120,231.4l1.1-.3 1.5,.2 .8,.6 .2,.5-.1,.5-.6,.5-.8,.3-1,.1-1-.2-.9-.7-.1-.5 .2-.5 .7-.5zM56.1,305.9l.7,0-.7,0z" fill="#f46d43" fill-rule="evenodd"/>
<path d="M156.83,230.49 L158.45,233.56 L160.06,237.4 L160.38,241.24 L161.68,243.93 L163.29,243.93 L165.87,246.62 L166.2,250.84 L167.81,254.3 L168.46,259.29 L169.1,262.36 L172.65,263.9 L175.88,266.58 L177.18,268.12 L178.47,270.42 L179.76,275.03 L181.37,275.03 L183.63,276.18 L183.63,279.64 L185.25,281.18 L187.51,283.86 L189.12,285.4 L190.74,287.32 L191.06,291.16 L192.35,295 L192.67,299.22 L191.71,302.68 L191.06,305.75 L190.74,308.44 L189.45,312.28 L188.15,314.97 L185.89,317.27 L184.92,319.96 L183.63,322.26 L182.66,324.95 L181.37,328.41 L180.73,333.4 L178.47,334.55 L175.24,334.55 L172.65,336.09 L170.07,338.01 L169.1,339.54 L166.52,337.62 L164.58,336.86 L163.61,336.09 L162.97,336.47 L160.38,338.39 L156.83,336.86 L153.93,336.86 L150.7,335.32 L148.11,332.63 L147.47,329.94 L145.85,326.49 L143.92,326.1 L142.62,324.57 L143.92,323.03 L142.62,320.73 L141.66,323.42 L139.07,324.57 L140.36,321.88 L141.33,318.81 L141.98,315.35 L140.04,318.04 L138.1,319.96 L135.84,322.26 L134.55,323.42 L133.26,321.88 L132.29,318.42 L130.03,315.35 L128.09,313.05 L124.54,312.28 L120.34,310.36 L114.86,310.74 L110.01,312.28 L105.17,313.43 L100.33,315.35 L97.1,317.27 L95.48,319.58 L91.28,319.96 L85.79,319.58 L82.57,321.11 L79.34,323.03 L77.08,324.18 L72.88,323.8 L69.65,321.88 L68.03,321.11 L68.03,318.42 L69.97,317.27 L70.3,314.2 L70.3,311.13 L68.68,307.67 L68.03,304.6 L67.71,300.76 L65.77,297.69 L65.13,293.85 L62.87,290.01 L62.87,287.32 L63.51,284.63 L62.87,281.56 L64.16,277.72 L63.84,275.8 L65.13,273.11 L66.74,273.11 L69.65,271.58 L73.52,268.5 L77.08,268.5 L80.31,267.35 L82.57,266.2 L85.79,265.05 L88.05,263.9 L89.67,260.44 L91.61,257.75 L91.28,255.45 L93.54,252.38 L95.48,254.68 L95.8,251.61 L98.39,251.99 L98.71,248.92 L100.97,248.15 L101.29,245.08 L103.55,243.93 L106.14,242.39 L108.4,243.54 L110.33,246.62 L110.98,248.54 L111.63,246.23 L114.21,246.62 L115.5,245.08 L114.86,243.16 L117.12,240.09 L117.44,238.17 L119.05,237.02 L120.67,236.25 L122.93,236.63 L124.87,236.25 L124.87,233.56 L126.8,234.33 L129.06,235.1 L131.97,235.48 L134.23,236.25 L135.84,235.48 L138.1,236.25 L138.75,237.4 L137.78,240.09 L135.52,240.86 L135.52,243.93 L133.91,246.62 L135.2,247.77 L137.46,249.3 L140.04,251.22 L142.95,253.91 L145.53,255.83 L147.47,256.98 L150.37,256.98 L151.67,256.22 L152.96,253.14 L153.93,248.92 L153.93,245.08 L153.6,241.24 L154.25,237.78 L154.9,234.71 L155.86,231.26Z M163.61,345.69 L165.87,346.07 L169.43,347.22 L171.36,346.46 L175.56,346.46 L175.56,350.3 L174.59,353.75 L173.95,355.29 L171.36,356.82 L169.1,356.82 L167.49,356.06 L165.55,351.83 L164.26,348.76Z M119.38,192.86 L122.28,190.94 L124.54,190.94 L127.77,192.09 L129.71,192.86 L130.03,197.08 L131.97,201.69 L134.23,202.46 L137.14,198.23 L140.04,195.54 L142.3,195.54 L144.89,197.08 L148.11,198.62 L151.02,199.38 L153.6,199.77 L156.83,201.69 L160.06,202.84 L162.64,204.38 L164.91,206.68 L167.49,208.6 L169.75,210.9 L172.65,212.06 L173.95,213.59 L173.3,215.13 L171.36,216.28 L172.01,218.2 L173.95,220.12 L175.24,222.42 L176.53,224.34 L178.79,225.11 L178.79,227.42 L181.05,228.57 L183.63,228.95 L182.02,230.1 L180.08,229.34 L177.18,228.57 L174.27,228.18 L172.65,226.26 L171.04,224.34 L169.75,222.42 L168.46,220.12 L165.87,219.35 L163.29,218.2 L161.03,220.12 L160.06,222.42 L159.09,223.96 L157.16,225.11 L153.6,224.73 L151.34,222.42 L149.08,220.89 L146.82,220.5 L145.21,221.27 L142.3,221.66 L141.01,219.35 L142.3,217.05 L142.3,210.52 L139.07,208.22 L135.84,206.68 L132.62,205.91 L128.42,203.61 L126.16,204.76 L125.19,204.38 L122.93,200.92 L124.22,199.38 L127.77,198.62 L126.16,198.23 L123.57,197.85 L120.67,195.54Z M175.56,210.9 L177.82,210.52 L180.4,210.52 L181.7,209.75 L182.99,210.52 L184.92,208.6 L186.22,208.22 L187.51,205.53 L188.8,205.91 L188.48,207.83 L185.89,210.52 L182.66,213.21 L179.76,213.59 L177.18,212.82 L175.56,212.06Z M183.31,199.38 L185.89,200.92 L188.48,203.22 L191.06,206.68 L191.38,208.22 L190.09,207.06 L187.51,204.38 L184.28,200.92Z M195.9,208.6 L198.81,212.44 L200.1,215.51 L198.49,215.51 L196.23,212.06Z M226.26,266.58 L229.49,268.5 L234.33,273.11 L236.27,275.03 L235.3,275.42 L231.1,272.73 L227.22,269.27Z M254.35,344.92 L259.51,347.61 L258.22,351.45 L255.32,354.52 L255.64,357.59 L249.83,359.51 L248.21,363.35 L247.57,365.66 L244.02,368.34 L240.46,368.34 L238.2,367.19 L234.33,365.27 L234.65,362.97 L237.56,361.05 L240.14,358.36 L244.02,356.44 L247.24,353.75 L249.5,350.68 L250.47,348.76 L252.41,346.46Z M254.35,321.5 L256.61,323.8 L259.51,326.87 L261.13,330.71 L263.39,329.94 L264.68,333.78 L268.23,334.94 L271.46,333.78 L273.08,334.17 L271.46,338.39 L271.14,339.93 L268.23,341.46 L267.91,343.77 L265.65,346.46 L262.74,349.14 L260.81,347.99 L261.78,345.3 L260.48,342.23 L257.9,340.31 L260.48,338.39 L260.81,335.32 L260.16,331.48 L258.22,329.18 L255.32,324.95Z M36.39,215.51 L38.97,212.06 L42.2,212.25 L46.4,213.59 L48.66,215.51 L53.5,215.9 L55.76,214.74 L58.35,215.9 L60.29,215.9 L61.58,218.58 L66.1,218.97 L66.42,221.66 L63.19,221.66 L58.35,221.27 L53.5,220.5 L48.66,218.97 L44.79,218.97 L40.27,217.82 L37.36,215.9Z M60.61,215.9 L65.13,216.09 L65.13,217.05 L60.61,217.05Z M66.1,220.5 L68.36,220.5 L70.3,221.66 L68.68,223.19 L66.74,221.66Z M71.26,221.27 L73.52,221.27 L72.88,223.58 L71.26,223.19Z M73.85,222.04 L76.11,220.89 L78.37,221.27 L81.27,221.66 L80.95,223.19 L77.72,223.58 L74.49,223.96 L73.85,222.81Z M83.53,222.04 L85.79,221.27 L89.02,222.04 L92.25,221.27 L93.87,220.89 L93.22,222.42 L90.64,223.19 L87.41,223.58 L84.18,223.19Z M80.95,225.5 L84.18,225.5 L86.76,227.8 L84.83,228.95 L81.6,227.03Z M95.48,228.95 L98.06,225.88 L100.97,223.96 L103.55,222.04 L107.43,221.66 L106.78,222.81 L103.55,224.73 L100.33,226.26 L97.74,228.57 L95.8,229.72Z M102.91,218.58 L106.14,218.58 L106.14,219.74 L103.23,219.74Z M119.7,217.05 L121.96,216.28 L121.31,220.12 L119.7,220.89Z M129.71,210.14 L131.97,210.9 L131.65,215.13 L129.71,214.74Z M110.01,201.69 L113.24,200.15 L116.47,200.54 L119.05,202.46 L116.47,202.84 L113.24,202.46 L110.66,202.84Z M103.55,201.3 L107.43,202.07 L106.78,203.99 L103.88,203.61Z M108.4,180.95 L110.01,183.64 L112.27,184.41 L110.01,185.94 L112.6,187.48 L110.01,188.25 L111.63,191.32 L109.37,192.09 L108.72,187.48 L107.75,185.56Z M86.76,184.41 L90.64,185.56 L95.48,185.94 L98.71,185.56 L100.97,183.26 L99.68,187.48 L95.48,187.86 L90.64,187.48 L87.41,187.48 L86.12,191.32 L89.02,192.86 L92.25,192.47 L95.16,192.86 L92.58,194.39 L89.67,195.54 L88.38,197.08 L89.99,199.38 L92.25,201.69 L94.51,205.91 L92.9,207.45 L90.64,207.83 L89.02,205.53 L87.41,200.92 L86.12,200.92 L85.47,204.76 L85.79,210.9 L82.57,210.9 L82.24,206.68 L80.63,202.84 L81.92,199.77 L82.24,195.16 L83.53,191.32 L84.18,187.48Z M48.66,182.49 L50.6,181.72 L51.89,182.87 L55.12,184.02 L56.73,179.8 L59.96,177.88 L61.58,177.11 L64.81,171.74 L68.03,170.2 L71.26,166.36 L74.49,162.52 L76.11,164.44 L77.72,166.36 L81.6,169.43 L78.69,170.97 L76.43,173.27 L77.08,177.88 L77.72,180.57 L80.63,185.18 L77.72,185.94 L76.11,189.4 L76.11,193.24 L73.2,195.16 L72.88,199 L72.23,202.46 L71.26,204.38 L68.03,204.38 L66.74,203.22 L64.81,202.46 L61.58,201.69 L58.35,202.46 L57.38,200.92 L55.12,200.92 L52.86,200.54 L52.21,196.7 L50.28,194.01 L48.66,190.55 L48.66,187.48Z M4.42,167.9 L11.53,169.43 L14.11,173.66 L17.99,177.11 L21.21,180.95 L23.8,181.72 L26.06,183.26 L29.29,185.56 L31.87,188.25 L31.87,192.47 L33.81,194.01 L35.42,198.23 L38.33,200.92 L38.65,204.76 L38.65,211.67 L36.39,211.67 L34.45,212.06 L32.52,209.37 L29.29,206.3 L27.03,203.61 L23.47,199.38 L21.86,195.16 L20.57,191.7 L18.63,188.63 L16.37,185.56 L15.4,182.87 L12.17,179.8 L8.3,175.19 L5.07,170.97Z M36.39,195.54 L38.97,195.16 L41.56,199.38 L40.59,200.92 L38.33,198.62Z M44.14,199.38 L46.4,199.77 L46.08,201.69 L44.14,201.3Z M90.64,162.52 L92.25,158.68 L95.48,156.38 L98.71,156.76 L101.94,152.92 L104.2,154.84 L105.17,160.6 L104.2,165.21 L101.62,167.9 L100.33,164.44 L97.1,164.44 L95.48,160.22 L93.22,160.98Z M212.05,224.73 L215.92,225.5 L215.6,227.42 L212.37,226.65Z M217.54,228.57 L221.09,230.1 L220.44,230.87 L217.86,229.72Z M234.65,245.46 L236.59,247 L236.27,249.3 L234.97,248.54Z M236.59,250.46 L238.53,251.61 L238.2,253.14 L236.91,252.38Z" fill="#fff" stroke="#111" stroke-width="0.75" stroke-linejoin="round"/>
<path d="M35.75,189.4V362.2 M51.89,189.4V362.2 M68.03,189.4V362.2 M84.18,189.4V362.2 M100.33,189.4V362.2 M116.47,189.4V362.2 M132.62,189.4V362.2 M148.76,189.4V362.2 M164.91,189.4V362.2 M181.05,189.4V362.2 M197.19,189.4V362.2 M213.34,189.4V362.2 M229.49,189.4V362.2 M19.6,208.6H245.6 M19.6,227.8H245.6 M19.6,247H245.6 M19.6,266.2H245.6 M19.6,285.4H245.6 M19.6,304.6H245.6 M19.6,323.8H245.6 M19.6,343H245.6" stroke="#9a9a9a" stroke-width="0.5" stroke-dasharray="0.7,1.3" fill="none"/>
</g>
<rect x="19.6" y="189.4" width="226" height="172.8" fill="none" stroke="#555" stroke-width="0.9"/>
<path d="M18.4,189.4H19.6" stroke="#333" stroke-width="0.5"/>
<path d="M18.4,208.6H19.6" stroke="#333" stroke-width="0.5"/>
<path d="M18.4,227.8H19.6" stroke="#333" stroke-width="0.5"/>
<path d="M18.4,247H19.6" stroke="#333" stroke-width="0.5"/>
<path d="M18.4,266.2H19.6" stroke="#333" stroke-width="0.5"/>
<path d="M18.4,285.4H19.6" stroke="#333" stroke-width="0.5"/>
<path d="M18.4,304.6H19.6" stroke="#333" stroke-width="0.5"/>
<path d="M18.4,323.8H19.6" stroke="#333" stroke-width="0.5"/>
<path d="M18.4,343H19.6" stroke="#333" stroke-width="0.5"/>
<path d="M18.4,362.2H19.6" stroke="#333" stroke-width="0.5"/>
<path d="M19.6,362.2V363.4" stroke="#333" stroke-width="0.5"/>
<path d="M35.75,362.2V363.4" stroke="#333" stroke-width="0.5"/>
<path d="M51.89,362.2V363.4" stroke="#333" stroke-width="0.5"/>
<path d="M68.03,362.2V363.4" stroke="#333" stroke-width="0.5"/>
<path d="M84.18,362.2V363.4" stroke="#333" stroke-width="0.5"/>
<path d="M100.33,362.2V363.4" stroke="#333" stroke-width="0.5"/>
<path d="M116.47,362.2V363.4" stroke="#333" stroke-width="0.5"/>
<path d="M132.62,362.2V363.4" stroke="#333" stroke-width="0.5"/>
<path d="M148.76,362.2V363.4" stroke="#333" stroke-width="0.5"/>
<path d="M164.91,362.2V363.4" stroke="#333" stroke-width="0.5"/>
<path d="M181.05,362.2V363.4" stroke="#333" stroke-width="0.5"/>
<path d="M197.19,362.2V363.4" stroke="#333" stroke-width="0.5"/>
<path d="M213.34,362.2V363.4" stroke="#333" stroke-width="0.5"/>
<path d="M229.49,362.2V363.4" stroke="#333" stroke-width="0.5"/>
<path d="M245.63,362.2V363.4" stroke="#333" stroke-width="0.5"/>
<text x="10.9" y="191.3" font-size="5.3" textLength="5.9" lengthAdjust="spacingAndGlyphs">EQ</text>
<text x="11.2" y="210.5" font-size="5.3" textLength="5.6" lengthAdjust="spacingAndGlyphs">5S</text>
<text x="7.8" y="229.7" font-size="5.3" textLength="9.0" lengthAdjust="spacingAndGlyphs">10S</text>
<text x="7.8" y="248.9" font-size="5.3" textLength="9.0" lengthAdjust="spacingAndGlyphs">15S</text>
<text x="7.8" y="268.1" font-size="5.3" textLength="9.0" lengthAdjust="spacingAndGlyphs">20S</text>
<text x="7.8" y="287.3" font-size="5.3" textLength="9.0" lengthAdjust="spacingAndGlyphs">25S</text>
<text x="7.8" y="306.5" font-size="5.3" textLength="9.0" lengthAdjust="spacingAndGlyphs">30S</text>
<text x="7.8" y="325.7" font-size="5.3" textLength="9.0" lengthAdjust="spacingAndGlyphs">35S</text>
<text x="7.8" y="344.9" font-size="5.3" textLength="9.0" lengthAdjust="spacingAndGlyphs">40S</text>
<text x="7.8" y="364.1" font-size="5.3" textLength="9.0" lengthAdjust="spacingAndGlyphs">45S</text>
<text x="14.25" y="368.9" font-size="5.2" textLength="10.7" lengthAdjust="spacingAndGlyphs">100E</text>
<text x="30.4" y="368.9" font-size="5.2" textLength="10.7" lengthAdjust="spacingAndGlyphs">105E</text>
<text x="46.54" y="368.9" font-size="5.2" textLength="10.7" lengthAdjust="spacingAndGlyphs">110E</text>
<text x="62.68" y="368.9" font-size="5.2" textLength="10.7" lengthAdjust="spacingAndGlyphs">115E</text>
<text x="78.83" y="368.9" font-size="5.2" textLength="10.7" lengthAdjust="spacingAndGlyphs">120E</text>
<text x="94.98" y="368.9" font-size="5.2" textLength="10.7" lengthAdjust="spacingAndGlyphs">125E</text>
<text x="111.12" y="368.9" font-size="5.2" textLength="10.7" lengthAdjust="spacingAndGlyphs">130E</text>
<text x="127.27" y="368.9" font-size="5.2" textLength="10.7" lengthAdjust="spacingAndGlyphs">135E</text>
<text x="143.41" y="368.9" font-size="5.2" textLength="10.7" lengthAdjust="spacingAndGlyphs">140E</text>
<text x="159.56" y="368.9" font-size="5.2" textLength="10.7" lengthAdjust="spacingAndGlyphs">145E</text>
<text x="175.7" y="368.9" font-size="5.2" textLength="10.7" lengthAdjust="spacingAndGlyphs">150E</text>
<text x="191.84" y="368.9" font-size="5.2" textLength="10.7" lengthAdjust="spacingAndGlyphs">155E</text>
<text x="207.99" y="368.9" font-size="5.2" textLength="10.7" lengthAdjust="spacingAndGlyphs">160E</text>
<text x="224.14" y="368.9" font-size="5.2" textLength="10.7" lengthAdjust="spacingAndGlyphs">165E</text>
<text x="240.28" y="368.9" font-size="5.2" textLength="10.7" lengthAdjust="spacingAndGlyphs">170E</text>
<text x="25.9" y="355.0" font-size="6.8" fill="#111" textLength="61" lengthAdjust="spacingAndGlyphs">Sep 2015-Feb 2016</text>
<text x="234" y="352.5" font-size="11.5" fill="#111">b</text>
<path d="M30.9,378.25L48.9,375.9V380.6Z" fill="#a50026" stroke="#333" stroke-width="0.3"/>
<rect x="48.9" y="375.9" width="17.8" height="4.7" fill="#d73027" stroke="#333" stroke-width="0.3"/>
<rect x="66.7" y="375.9" width="17.8" height="4.7" fill="#f46d43" stroke="#333" stroke-width="0.3"/>
<rect x="84.5" y="375.9" width="17.8" height="4.7" fill="#fdae61" stroke="#333" stroke-width="0.3"/>
<rect x="102.3" y="375.9" width="17.8" height="4.7" fill="#fee090" stroke="#333" stroke-width="0.3"/>
<rect x="120.1" y="375.9" width="17.8" height="4.7" fill="#ffffff" stroke="#333" stroke-width="0.3"/>
<rect x="137.9" y="375.9" width="17.8" height="4.7" fill="#e0f3f8" stroke="#333" stroke-width="0.3"/>
<rect x="155.7" y="375.9" width="17.8" height="4.7" fill="#abd9e9" stroke="#333" stroke-width="0.3"/>
<rect x="173.5" y="375.9" width="17.8" height="4.7" fill="#74c8e3" stroke="#333" stroke-width="0.3"/>
<rect x="191.3" y="375.9" width="17.8" height="4.7" fill="#4575b4" stroke="#333" stroke-width="0.3"/>
<path d="M209.1,375.9L227.7,378.25L209.1,380.6Z" fill="#313695" stroke="#333" stroke-width="0.3"/>
<text x="48.9" y="384.5" text-anchor="middle" font-size="4.7" font-weight="bold">−0.2</text>
<text x="66.7" y="384.5" text-anchor="middle" font-size="4.7" font-weight="bold">−0.16</text>
<text x="84.5" y="384.5" text-anchor="middle" font-size="4.7" font-weight="bold">−0.12</text>
<text x="102.3" y="384.5" text-anchor="middle" font-size="4.7" font-weight="bold">−0.08</text>
<text x="120.1" y="384.5" text-anchor="middle" font-size="4.7" font-weight="bold">−0.04</text>
<text x="137.9" y="384.5" text-anchor="middle" font-size="4.7" font-weight="bold">0.04</text>
<text x="155.7" y="384.5" text-anchor="middle" font-size="4.7" font-weight="bold">0.08</text>
<text x="173.5" y="384.5" text-anchor="middle" font-size="4.7" font-weight="bold">0.12</text>
<text x="191.3" y="384.5" text-anchor="middle" font-size="4.7" font-weight="bold">0.16</text>
<text x="209.1" y="384.5" text-anchor="middle" font-size="4.7" font-weight="bold">0.2</text>
<clipPath id="cc"><rect x="305.8" y="4.9" width="330" height="90.1"/></clipPath>
<g clip-path="url(#cc)">
<rect x="305.8" y="4.9" width="330" height="90.1" fill="#f4f4f4"/>
<path d="M349.4,-2 L363.6,-2 L375.9,-1.8 L386.4,-1.5 L395.2,-1.1 L402.1,-0.4 L407.2,0.3 L410.6,1.3 L412.1,2.4 L411.9,3.6 L411.6,4.9 L411.2,6.1 L410.8,7.4 L410.2,8.6 L409.7,9.9 L409.1,11.1 L408.4,12.4 L407.6,13.6 L406.9,14.9 L406.1,16.1 L405.3,17.3 L404.5,18.5 L403.6,19.6 L402.8,20.8 L401.9,21.9 L401.1,23.1 L400.2,24.1 L399.4,25.2 L398.5,26.2 L397.7,27.1 L396.9,28 L396.1,28.8 L395.4,29.6 L394.6,30.4 L393.8,31.1 L393,31.8 L392.2,32.4 L391.3,33.1 L390.4,33.7 L389.5,34.2 L388.5,34.8 L387.5,35.2 L386.6,35.8 L385.8,36.2 L385,36.8 L384.4,37.2 L383.8,37.8 L383.3,38.2 L382.9,38.8 L382.6,39.2 L382.4,39.8 L382.2,40.3 L382.1,40.8 L382.1,41.3 L382.2,41.9 L382.4,42.4 L382.6,43 L382.9,43.5 L383.3,44.1 L383.7,44.7 L384.2,45.2 L384.7,45.8 L385.3,46.3 L385.9,46.9 L386.6,47.5 L387.4,48 L388.2,48.6 L389,49.1 L389.8,49.6 L390.7,50 L391.6,50.4 L392.5,50.8 L393.5,51.2 L394.5,51.6 L395.5,51.9 L396.6,52.2 L397.7,52.5 L398.8,52.7 L400,52.9 L401.2,53.1 L402.4,53.2 L403.6,53.4 L404.9,53.5 L406.1,53.6 L407.4,53.8 L408.6,53.9 L409.9,54 L411.1,54.2 L412.4,54.3 L413.6,54.5 L414.9,54.7 L416.2,55 L417.6,55.5 L418.9,56 L420.3,56.6 L421.8,57.3 L423.2,58.1 L424.8,58.9 L426.2,59.8 L427.7,60.7 L429.1,61.7 L430.4,62.6 L431.8,63.5 L433.1,64.5 L434.4,65.5 L435.6,66.5 L436.8,67.5 L437.9,68.4 L439,69.4 L440,70.3 L440.9,71.1 L441.8,72 L442.6,72.8 L443.4,73.7 L444.1,74.4 L444.9,74.9 L445.6,75.4 L446.4,75.7 L447.1,76 L447.9,76.1 L448.6,76.1 L449.4,75.9 L450.1,75.9 L450.9,75.8 L451.7,75.8 L452.5,75.9 L453.4,76 L454.2,76.2 L455.1,76.4 L455.9,76.6 L456.8,76.9 L457.6,77.2 L458.4,77.6 L459.1,78 L459.8,78.5 L460.5,78.9 L461.2,79.5 L461.8,80 L462.4,80.6 L462.9,81.3 L463.4,82 L463.8,82.7 L464.2,83.4 L464.6,84.2 L464.9,85.1 L465.1,85.9 L465.3,86.8 L465.4,87.7 L465.4,88.7 L465.3,89.6 L465.2,90.5 L465,91.5 L464.7,92.5 L464.3,93.5 L464,94.4 L463.7,95.3 L463.5,96 L463.3,96.7 L463.1,97.3 L463,97.9 L463,98.3 L463,98.7 L461.6,99 L458.8,99.3 L454.7,99.5 L449.1,99.7 L442.1,99.9 L433.8,100 L424.1,100 L412.9,100 L403.1,99.9 L394.6,99.8 L387.3,99.5 L381.4,99.2 L376.8,98.8 L373.4,98.4 L371.4,97.8 L370.6,97.2 L369.9,96.6 L369.1,95.9 L368.4,95.3 L367.6,94.7 L366.9,94.1 L366.1,93.4 L365.4,92.8 L364.6,92.2 L363.9,91.6 L363.1,90.9 L362.4,90.3 L361.6,89.6 L360.9,88.9 L360.1,88.3 L359.4,87.6 L358.6,86.9 L357.8,86.3 L357,85.7 L356.2,85.1 L355.3,84.6 L354.4,84.2 L353.5,83.8 L352.5,83.4 L351.5,83.1 L350.5,82.8 L349.5,82.6 L348.6,82.4 L347.7,82.2 L346.7,82.1 L345.8,82 L344.9,81.9 L344.1,81.9 L343.2,81.9 L342.3,81.9 L341.3,81.9 L340.4,81.9 L339.5,82 L338.5,82 L337.5,82.1 L336.5,82.2 L335.5,82.3 L334.5,82.4 L333.5,82.5 L332.5,82.7 L331.5,82.8 L330.5,83 L329.5,83.2 L328.5,83.3 L327.5,83.5 L326.5,83.8 L325.5,84 L324.5,84.2 L323.5,84.5 L322.5,84.8 L321.5,85.1 L320.5,85.4 L319.5,85.7 L318.5,86 L317.6,86.2 L316.7,86.5 L315.7,86.7 L314.8,87 L313.9,87.2 L313.1,87.3 L312.1,87.5 L311.2,87.7 L310.2,87.9 L309.1,88 L308,88.2 L306.8,88.3 L305.6,88.4 L304.4,88.6 L303.3,87.2 L302.3,84.5 L301.6,80.3 L300.9,74.7 L300.5,67.6 L300.2,59.1 L300,49.2 L300,37.8 L301.8,27.9 L305.3,19.3 L310.6,12.2 L317.7,6.5 L326.5,2.3 L337.1,-0.6Z M465.1,0.2 L465.2,0.8 L465.2,1.5 L465.3,2.2 L465.4,3 L465.5,3.9 L465.6,4.8 L465.8,5.8 L465.9,6.9 L466.1,8 L466.3,9 L466.6,10.1 L466.9,11.1 L467.2,12.1 L467.6,13.1 L468.1,14 L468.6,14.9 L469.1,15.8 L469.7,16.8 L470.2,17.8 L470.7,18.8 L471.2,19.8 L471.7,20.9 L472.2,22 L472.8,23.2 L473.2,24.3 L473.7,25.5 L474.1,26.6 L474.5,27.6 L474.8,28.6 L475,29.6 L475.3,30.5 L475.4,31.3 L475.6,32.2 L475.7,32.9 L475.9,33.7 L476,34.5 L476.2,35.2 L476.4,35.9 L476.6,36.5 L476.9,37.2 L477.1,37.8 L477.4,38.4 L477.8,39 L478.2,39.6 L478.6,40.2 L479.1,40.8 L479.6,41.4 L480.2,42 L480.8,42.5 L481.5,43.1 L482.1,43.6 L482.8,44.1 L483.5,44.6 L484.3,45.1 L485,45.5 L485.8,46 L486.6,46.4 L487.6,46.8 L488.7,47.3 L490,47.7 L491.5,48.1 L493.1,48.5 L494.9,49 L496.8,49.4 L499,49.8 L501.2,50.2 L503.6,50.6 L506,50.9 L508.6,51.2 L511.3,51.4 L514.1,51.6 L517,51.8 L520.1,52 L523.2,52.1 L526.4,52.3 L529.7,52.4 L533,52.5 L536.4,52.6 L539.9,52.7 L543.5,52.8 L547.2,52.9 L550.7,53 L553.9,53.1 L557,53.2 L559.9,53.4 L562.6,53.5 L565.1,53.7 L567.4,53.9 L569.6,54.1 L571.6,54.3 L573.7,54.6 L575.7,55 L577.6,55.4 L579.5,55.8 L581.3,56.3 L583.1,56.8 L584.9,57.4 L586.5,58 L588,58.6 L589.5,59.3 L590.8,60 L592,60.8 L593.1,61.6 L594.1,62.4 L594.9,63.3 L595.8,64.2 L596.6,65.1 L597.4,66 L598.2,67 L598.9,68 L599.6,69 L600.3,70.1 L600.9,71.1 L601.6,72.2 L602.3,73.2 L603,74.2 L603.8,75.2 L604.6,76.1 L605.4,77 L606.2,77.9 L607,78.8 L607.9,79.6 L608.7,80.4 L609.6,81.2 L610.5,82 L611.3,82.7 L612.2,83.4 L613.1,84.1 L613.9,84.7 L614.8,85.3 L615.7,85.8 L616.7,86.3 L617.6,86.7 L618.5,87 L619.5,87.2 L620.5,87.4 L621.5,87.6 L622.6,87.7 L623.8,87.8 L625.2,87.8 L626.6,87.9 L628.1,88 L629.8,88 L631.6,88 L633.4,88 L635.1,86.6 L636.5,83.8 L637.7,79.6 L638.6,73.9 L639.3,66.9 L639.8,58.5 L640,48.6 L640,37.4 L637.3,27.5 L631.8,19.1 L623.6,12.1 L612.7,6.4 L599,2.2 L582.6,-0.6 L563.4,-2 L541.6,-2 L522.4,-1.9 L506,-1.8 L492.4,-1.5 L481.5,-1.2 L473.3,-0.8 L467.8,-0.4Z M523.8,95.6 L524.2,94.4 L524.8,93.2 L525.4,92.1 L526.1,91.1 L526.9,90.2 L527.7,89.3 L528.6,88.5 L529.5,87.8 L530.5,87.2 L531.6,86.6 L532.8,86.1 L534.1,85.6 L535.4,85.2 L536.9,84.8 L538.5,84.4 L540.1,84.1 L541.9,83.9 L543.7,83.7 L545.5,83.5 L547.4,83.4 L549.3,83.3 L551.3,83.2 L553.4,83.2 L555.4,83.2 L557.6,83.3 L559.6,83.4 L561.6,83.5 L563.6,83.7 L565.4,83.9 L567.2,84.2 L569,84.5 L570.7,84.8 L572.3,85.2 L573.9,85.6 L575.3,86.1 L576.7,86.5 L578,87.1 L579.3,87.6 L580.4,88.3 L581.5,88.9 L582.5,89.6 L583.4,90.3 L584.2,91.1 L584.9,91.9 L585.6,92.7 L586.1,93.6 L586.5,94.5 L586.9,95.5 L587.1,96.5 L586.3,97.4 L584.4,98.1 L581.5,98.8 L577.5,99.2 L572.4,99.6 L566.3,99.9 L559.1,100 L550.9,100 L543.7,99.8 L537.7,99.5 L532.7,99.1 L528.8,98.4 L526,97.7 L524.3,96.7Z" fill="#fee090" stroke="#111" stroke-width="0.6"/>
<path d="M371.4,-2 L374.6,-2 L377.5,-1.8 L379.9,-1.4 L381.8,-0.9 L383.4,-0.1 L384.5,0.8 L385.3,1.9 L385.6,3.2 L385.4,4.8 L385.3,6.2 L385.1,7.5 L384.9,8.8 L384.6,10 L384.3,11.1 L384,12.1 L383.7,13.1 L383.3,13.9 L382.9,14.8 L382.4,15.5 L381.9,16.2 L381.3,16.9 L380.7,17.5 L380.1,18 L379.4,18.5 L378.6,19 L377.9,19.4 L377.1,19.7 L376.3,20 L375.5,20.2 L374.6,20.3 L373.8,20.4 L372.9,20.5 L372.1,20.5 L371.2,20.4 L370.4,20.3 L369.6,20.1 L368.9,19.8 L368.2,19.4 L367.5,19 L366.8,18.5 L366.2,18 L365.6,17.4 L365,16.7 L364.5,16 L364,15.2 L363.5,14.3 L363.1,13.4 L362.7,12.5 L362.3,11.5 L362,10.5 L361.7,9.4 L361.4,8.3 L361.1,7.2 L360.9,6 L360.7,4.8 L360.6,3.6 L360.4,2.4 L360.7,1.3 L361.5,0.3 L362.6,-0.4 L364.2,-1.1 L366.1,-1.5 L368.5,-1.8Z" fill="#f4f4f4" stroke="#111" stroke-width="0.6"/>
<path d="M321.4,-2 L327.6,-2 L333,-1.8 L337.6,-1.5 L341.5,-1.1 L344.7,-0.4 L347.2,0.3 L348.9,1.3 L349.9,2.4 L350.1,3.6 L350.4,5 L350.7,6.4 L351,7.9 L351.4,9.5 L351.8,11.2 L352.2,13 L352.6,14.8 L353.1,16.8 L353.5,18.5 L353.9,20.1 L354.2,21.5 L354.6,22.7 L354.8,23.7 L355.1,24.6 L355.3,25.2 L355.4,25.7 L355.5,26.1 L355.5,26.6 L355.3,27.1 L355.1,27.5 L354.8,28 L354.3,28.4 L353.8,28.9 L353.2,29.3 L352.5,29.8 L351.8,30.2 L351.1,30.6 L350.3,30.9 L349.5,31.3 L348.7,31.6 L347.8,31.9 L347,32.2 L346.1,32.6 L345.3,32.9 L344.6,33.3 L343.9,33.7 L343.3,34.1 L342.7,34.5 L342.2,34.9 L341.8,35.4 L341.4,35.9 L341.1,36.4 L340.8,37 L340.6,37.6 L340.5,38.2 L340.5,38.9 L340.5,39.6 L340.6,40.4 L340.7,41.1 L340.8,41.9 L340.8,42.6 L340.9,43.4 L341,44.1 L341.1,44.9 L341.1,45.6 L341.2,46.4 L341.1,47.1 L341,47.8 L340.7,48.4 L340.4,49 L339.9,49.6 L339.4,50.1 L338.7,50.6 L338,51.1 L337.2,51.5 L336.3,51.9 L335.5,52.2 L334.5,52.6 L333.6,52.8 L332.6,53.1 L331.6,53.3 L330.5,53.4 L329.5,53.6 L328.4,53.8 L327.3,53.9 L326.3,54.1 L325.2,54.2 L324.1,54.4 L323.1,54.5 L322,54.7 L321,54.9 L319.9,55.1 L318.8,55.4 L317.8,55.7 L316.7,56 L315.7,56.4 L314.6,56.8 L313.6,57.2 L312.5,57.7 L311.4,58.1 L310.3,58.5 L309.1,59 L308,59.4 L306.8,59.8 L305.6,60.2 L304.3,60.6 L303.2,60 L302.3,58.3 L301.5,55.5 L300.9,51.7 L300.5,46.8 L300.2,41 L300,34 L300,26 L300.8,19 L302.3,13 L304.6,8 L307.7,4 L311.5,1 L316.1,-1Z M364.9,60.3 L365.4,60.1 L365.9,60 L366.4,59.9 L367,59.9 L367.7,59.9 L368.4,60 L369.1,60.1 L370,60.4 L370.8,60.6 L371.7,60.9 L372.5,61.2 L373.2,61.4 L374,61.6 L374.6,61.9 L375.3,62.1 L375.9,62.3 L376.5,62.5 L377.1,62.7 L377.8,62.8 L378.6,62.8 L379.4,62.8 L380.2,62.8 L381.1,62.7 L382.1,62.5 L383.1,62.3 L384.2,62.1 L385.2,61.9 L386.3,61.6 L387.4,61.4 L388.5,61.2 L389.6,60.9 L390.8,60.6 L391.9,60.4 L393.1,60.1 L394.3,59.8 L395.4,59.6 L396.6,59.3 L397.8,59.1 L398.9,58.8 L400.1,58.6 L401.3,58.4 L402.4,58.2 L403.5,58 L404.6,57.8 L405.6,57.7 L406.6,57.5 L407.5,57.4 L408.5,57.3 L409.3,57.3 L410.2,57.2 L411.1,57.3 L412,57.4 L412.9,57.5 L413.9,57.7 L414.8,58 L415.7,58.3 L416.7,58.7 L417.4,59.3 L418,60.2 L418.3,61.3 L418.5,62.7 L418.5,64.3 L418.2,66.2 L417.8,68.3 L417.2,70.7 L416.4,72.8 L415.6,74.6 L414.6,76.1 L413.4,77.4 L412.2,78.4 L410.8,79.1 L409.3,79.5 L407.6,79.6 L406.1,79.7 L404.6,79.9 L403.3,79.9 L402,80 L400.9,80.1 L399.8,80.1 L398.8,80.2 L398,80.2 L397.2,80.3 L396.4,80.4 L395.8,80.5 L395.2,80.7 L394.6,80.9 L394.2,81.2 L393.8,81.5 L393.5,81.8 L393.3,82.2 L393.1,82.6 L393,83.1 L393,83.6 L393.1,84.2 L393.3,84.8 L393.5,85.4 L393.8,86.1 L394,86.8 L394.2,87.4 L394.3,88 L394.4,88.6 L394.3,89.2 L394.2,89.7 L394.1,90.2 L393.8,90.7 L393.5,91.1 L393,91.4 L392.5,91.7 L391.8,91.9 L391.1,92 L390.2,92 L389.2,92 L388.2,91.8 L387.1,91.7 L386,91.5 L384.9,91.2 L383.7,90.9 L382.6,90.6 L381.4,90.3 L380.3,89.9 L379.1,89.4 L378,89 L376.8,88.6 L375.7,88.1 L374.6,87.7 L373.5,87.2 L372.5,86.8 L371.5,86.4 L370.4,85.9 L369.5,85.5 L368.5,84.9 L367.6,84.4 L366.7,83.8 L365.9,83.2 L365.1,82.6 L364.3,81.9 L363.6,81.1 L362.9,80.4 L362.3,79.7 L361.8,78.9 L361.3,78.2 L360.9,77.4 L360.5,76.7 L360.3,75.9 L360,75.2 L359.9,74.4 L359.8,73.7 L359.7,73 L359.7,72.3 L359.8,71.7 L359.9,71.1 L360,70.4 L360.3,69.9 L360.5,69.2 L360.7,68.6 L361,67.9 L361.2,67.2 L361.5,66.4 L361.8,65.6 L362.1,64.8 L362.4,64 L362.7,63.2 L363,62.5 L363.4,61.9 L363.7,61.4 L364.1,60.9 L364.5,60.6Z M447.8,80.9 L448.2,80.6 L448.8,80.3 L449.3,80.2 L449.8,80 L450.4,80 L451,80 L451.6,80 L452.2,80.2 L452.8,80.3 L453.4,80.6 L454,80.9 L454.5,81.2 L455.1,81.6 L455.6,82.1 L456.1,82.6 L456.5,83.2 L457,83.8 L457.3,84.5 L457.6,85.2 L457.9,85.9 L458,86.6 L458.1,87.4 L458.1,88.2 L458.1,89.1 L457.9,89.9 L457.7,90.8 L457.5,91.5 L457.1,92.3 L456.7,93 L456.3,93.6 L455.7,94.2 L455.1,94.8 L454.4,95.2 L453.7,95.6 L453.1,95.9 L452.4,96 L451.7,96 L451.1,95.9 L450.4,95.6 L449.8,95.2 L449.2,94.8 L448.6,94.1 L448.1,93.4 L447.7,92.6 L447.3,91.7 L447,90.6 L446.8,89.5 L446.6,88.2 L446.4,86.8 L446.4,85.6 L446.4,84.5 L446.5,83.5 L446.7,82.6 L447,81.9 L447.3,81.4Z M491.5,0.2 L491.5,0.8 L491.5,1.5 L491.6,2.2 L491.6,2.9 L491.7,3.7 L491.9,4.5 L492,5.3 L492.2,6.2 L492.3,7.1 L492.6,8 L493.1,8.9 L493.6,9.7 L494.2,10.5 L495,11.3 L495.9,12.1 L496.8,12.8 L498,13.6 L499,14.2 L500.1,14.9 L501.1,15.5 L502.1,16 L503.1,16.5 L504,17 L505,17.4 L505.8,17.7 L506.5,18.1 L507,18.5 L507.2,18.8 L507.2,19.2 L507,19.6 L506.5,20 L505.8,20.4 L505,20.8 L504,21.2 L502.9,21.6 L501.8,22.1 L500.6,22.6 L499.4,23 L498,23.5 L496.6,24 L495.2,24.6 L493.8,25.1 L492.4,25.7 L491.2,26.2 L490,26.8 L488.9,27.4 L487.9,28 L486.9,28.6 L486.1,29.3 L485.2,29.9 L484.5,30.5 L483.8,31.1 L483.1,31.6 L482.5,32.2 L482,32.7 L481.5,33.2 L481,33.6 L480.7,34.1 L480.4,34.6 L480.2,35 L480.1,35.4 L480,35.9 L480,36.3 L480.2,36.7 L480.3,37.1 L480.6,37.5 L481,38 L481.6,38.6 L482.2,39.1 L482.9,39.8 L483.7,40.4 L484.7,41.1 L485.7,41.9 L486.9,42.6 L488.2,43.2 L489.7,43.8 L491.3,44.4 L493,44.9 L494.8,45.4 L496.8,45.8 L499,46.2 L501.2,46.5 L503.5,46.9 L506,47.2 L508.5,47.5 L511.1,47.7 L513.9,47.9 L516.7,48.2 L519.7,48.3 L522.7,48.5 L525.9,48.7 L529.1,48.9 L532.5,49.1 L535.9,49.3 L539.5,49.5 L543.1,49.7 L546.9,50 L550.5,50.2 L553.9,50.4 L557.3,50.6 L560.4,50.8 L563.4,51 L566.3,51.3 L569.1,51.5 L571.6,51.7 L574.1,52 L576.5,52.3 L578.8,52.7 L580.9,53.1 L583,53.6 L584.9,54.1 L586.7,54.7 L588.5,55.4 L590.1,56 L591.6,56.7 L593,57.5 L594.3,58.2 L595.5,59 L596.6,59.8 L597.6,60.6 L598.4,61.5 L599.3,62.3 L600.1,63.2 L600.9,64.1 L601.6,64.9 L602.4,65.8 L603.1,66.7 L603.7,67.6 L604.4,68.4 L605,69.3 L605.6,70.1 L606.3,70.9 L606.9,71.6 L607.6,72.4 L608.2,73.1 L608.9,73.7 L609.5,74.4 L610.1,74.9 L610.7,75.4 L611.3,75.9 L611.9,76.3 L612.4,76.6 L612.9,76.8 L613.3,77 L613.8,77.1 L614.2,77.1 L614.7,77 L615.2,76.8 L615.7,76.6 L616.2,76.2 L616.8,75.7 L617.4,75.1 L617.9,74.4 L618.8,73.5 L619.8,72.3 L621.1,70.8 L622.7,69.1 L624.5,67.1 L626.5,64.9 L628.8,62.4 L631.2,59.6 L633.4,56.4 L635.3,52.7 L636.9,48.6 L638.1,43.9 L639.1,38.8 L639.7,33.3 L640,27.2 L640,20.8 L637.7,15.1 L633,10.2 L626.1,6.1 L616.8,2.9 L605.2,0.4 L591.3,-1.2 L575,-2 L556.5,-2 L540.2,-1.9 L526.3,-1.8 L514.7,-1.5 L505.4,-1.2 L498.5,-0.8 L493.8,-0.4Z M538.3,96.5 L538.7,95.5 L539.1,94.6 L539.7,93.7 L540.3,92.9 L541,92.2 L541.7,91.6 L542.6,91 L543.5,90.5 L544.5,90 L545.6,89.6 L546.7,89.3 L547.9,89 L549.1,88.8 L550.4,88.7 L551.8,88.6 L553.2,88.5 L554.8,88.5 L556.2,88.6 L557.6,88.7 L558.9,88.8 L560.1,89 L561.3,89.3 L562.4,89.6 L563.5,90 L564.5,90.5 L565.4,91 L566.3,91.6 L567,92.2 L567.7,92.9 L568.3,93.7 L568.9,94.6 L569.3,95.5 L569.7,96.5 L569.5,97.4 L568.7,98.1 L567.3,98.8 L565.4,99.2 L562.9,99.6 L559.8,99.9 L556.1,100 L551.9,100 L548.2,99.9 L545.1,99.6 L542.6,99.2 L540.7,98.8 L539.3,98.1 L538.5,97.4Z M396.4,-2 L397.6,-2 L398.7,-1.9 L399.6,-1.6 L400.3,-1.2 L400.9,-0.8 L401.3,-0.1 L401.5,0.6 L401.6,1.5 L401.4,2.5 L401.3,3.5 L401.1,4.4 L400.9,5.2 L400.6,6 L400.3,6.8 L400,7.5 L399.7,8.2 L399.3,8.8 L398.9,9.4 L398.5,9.9 L398.1,10.5 L397.7,10.9 L397.2,11.4 L396.7,11.7 L396.2,12.1 L395.8,12.4 L395.3,12.6 L394.8,12.8 L394.3,12.9 L393.9,12.9 L393.5,12.8 L393.1,12.6 L392.7,12.4 L392.3,12.1 L392,11.6 L391.8,11 L391.6,10.2 L391.4,9.2 L391.4,8.1 L391.4,6.8 L391.4,5.3 L391.6,3.7 L391.8,2.3 L392.2,1 L392.8,0 L393.5,-0.8 L394.3,-1.4 L395.3,-1.8Z" fill="#fdae61" stroke="#111" stroke-width="0.6"/>
<path d="M323.3,12.2 L324.3,12 L325.3,12 L326.1,12.1 L326.9,12.3 L327.6,12.6 L328.2,13 L328.7,13.5 L329.1,14.2 L329.4,14.9 L329.6,15.8 L329.8,16.6 L329.9,17.6 L329.9,18.5 L329.8,19.6 L329.6,20.7 L329.4,21.8 L329.1,23.1 L328.8,24.3 L328.5,25.5 L328.3,26.7 L328,27.9 L327.8,29.1 L327.6,30.3 L327.5,31.5 L327.3,32.8 L327.2,33.9 L327.1,35 L327.1,36 L327.1,37 L327.1,38 L327.2,38.8 L327.3,39.6 L327.5,40.4 L327.5,41.1 L327.5,41.8 L327.5,42.4 L327.3,43 L327.1,43.6 L326.8,44.1 L326.4,44.6 L326,45.1 L325.4,45.5 L324.8,45.8 L324.1,46 L323.2,46.2 L322.3,46.2 L321.3,46.2 L320.2,46.2 L318.9,46 L317.8,45.9 L316.7,45.7 L315.6,45.5 L314.7,45.2 L313.7,45 L312.8,44.7 L312,44.4 L311.3,44.1 L310.5,43.8 L309.9,43.4 L309.2,43.1 L308.6,42.8 L308,42.4 L307.5,42.1 L307,41.7 L306.6,41.3 L306.1,41 L305.6,40.6 L305.1,40.3 L304.6,40 L304,39.7 L303.4,39.4 L302.8,39.1 L302.2,38.9 L301.6,38.4 L301.2,37.6 L300.8,36.6 L300.5,35.4 L300.2,33.9 L300.1,32.1 L300,30.1 L300,27.9 L300.2,25.8 L300.5,24 L300.9,22.3 L301.6,20.9 L302.3,19.7 L303.3,18.6 L304.4,17.8 L305.6,17.2 L306.9,16.6 L308.1,16.1 L309.3,15.6 L310.6,15.1 L311.8,14.7 L313,14.3 L314.2,14 L315.4,13.7 L316.6,13.4 L317.7,13.2 L318.9,12.9 L320,12.7 L321.1,12.5 L322.2,12.3Z M485.4,34 L485.9,33.5 L486.6,33.1 L487.2,32.6 L487.9,32.2 L488.7,31.7 L489.4,31.2 L490.2,30.7 L491.1,30.2 L491.9,29.8 L492.9,29.3 L493.8,28.8 L494.8,28.3 L495.9,27.9 L497,27.5 L498.2,27.1 L499.4,26.7 L500.6,26.3 L501.9,26 L503.1,25.6 L504.4,25.3 L505.6,25 L506.9,24.8 L508.1,24.6 L509.4,24.3 L510.6,24.2 L512,24 L513.4,23.8 L514.8,23.7 L516.4,23.6 L518,23.5 L519.8,23.4 L521.6,23.3 L523.4,23.2 L525.3,23.1 L527.1,23 L528.9,22.8 L530.6,22.7 L532.3,22.4 L534,22.2 L535.7,21.9 L537.3,21.6 L538.8,21.2 L540.2,20.8 L541.4,20.4 L542.6,19.9 L543.6,19.4 L544.4,18.8 L545.2,18.2 L545.8,17.6 L546.3,17 L546.6,16.4 L546.8,15.9 L546.8,15.4 L546.6,14.9 L546.3,14.5 L545.8,14.1 L545.2,13.8 L544.1,13.4 L542.4,13.1 L540.3,12.8 L537.7,12.4 L534.6,12.1 L530.9,11.8 L526.8,11.5 L522.2,11.1 L518.2,10.8 L514.7,10.4 L511.9,10 L509.7,9.6 L508.1,9.1 L507.1,8.6 L506.7,8.1 L506.8,7.5 L507,7 L507,6.5 L507,6 L507,5.6 L506.8,5.2 L506.7,4.8 L506.4,4.5 L506.1,4.1 L505.8,3.8 L505.6,3.4 L505.4,2.9 L505.2,2.5 L505.1,2 L505,1.4 L505,0.8 L505,0.2 L507.1,-0.4 L511.3,-0.8 L517.7,-1.2 L526.1,-1.5 L536.6,-1.8 L549.3,-1.9 L564.1,-2 L580.9,-2 L595.7,-1 L608.4,0.9 L618.9,3.8 L627.3,7.7 L633.7,12.5 L637.9,18.3 L640,25.1 L640,32.9 L639.6,39.6 L638.8,45.4 L637.5,50.1 L635.9,53.8 L633.8,56.5 L631.3,58.2 L628.4,58.9 L625.1,58.7 L622.1,58.4 L619.4,58.1 L617,57.9 L614.9,57.7 L613.1,57.5 L611.6,57.4 L610.5,57.2 L609.6,57.1 L608.7,57 L607.7,56.8 L606.5,56.5 L605.4,56.2 L604.1,55.8 L602.7,55.4 L601.3,54.9 L599.8,54.4 L598.2,53.9 L596.5,53.4 L594.8,52.9 L592.9,52.5 L591,52.1 L589,51.7 L587,51.4 L584.8,51 L582.7,50.7 L580.5,50.4 L578.4,50.1 L576.2,49.8 L574.1,49.6 L571.9,49.3 L569.7,49.1 L567.6,48.8 L565.2,48.6 L562.6,48.4 L559.9,48.2 L556.9,47.9 L553.8,47.7 L550.4,47.5 L546.9,47.3 L543.1,47.2 L539.5,47 L535.9,46.7 L532.4,46.5 L529.1,46.2 L525.8,46 L522.6,45.7 L519.5,45.4 L516.5,45.1 L513.7,44.8 L511,44.4 L508.4,44.1 L506.1,43.7 L503.8,43.3 L501.8,42.9 L499.9,42.5 L498.1,42 L496.5,41.6 L495,41.2 L493.6,40.8 L492.4,40.4 L491.2,40.1 L490.2,39.7 L489.4,39.4 L488.6,39.1 L487.9,38.8 L487.3,38.5 L486.7,38.2 L486.1,37.8 L485.6,37.5 L485.2,37.2 L484.8,36.9 L484.5,36.6 L484.3,36.3 L484.2,35.9 L484.2,35.6 L484.3,35.2 L484.5,34.8 L484.9,34.4Z" fill="#f46d43" stroke="#111" stroke-width="0.6"/>
<path d="M565.4,7.9 L566.4,7.6 L567.5,7.3 L568.6,7.1 L569.8,6.9 L571.1,6.8 L572.4,6.7 L573.8,6.7 L575.2,6.7 L576.8,6.8 L578.2,6.9 L579.5,7.1 L580.7,7.4 L581.8,7.7 L582.8,8.1 L583.8,8.6 L584.6,9.2 L585.4,9.8 L586,10.5 L586.5,11.1 L586.9,11.8 L587.1,12.5 L587.2,13.2 L587.2,13.9 L587.1,14.6 L586.9,15.4 L586.5,16.1 L586,16.7 L585.3,17.3 L584.5,17.8 L583.5,18.3 L582.4,18.7 L581.2,19.1 L579.8,19.4 L578.5,19.7 L577.1,19.8 L575.8,20 L574.5,20 L573.2,20 L571.9,20 L570.6,19.8 L569.4,19.7 L568.2,19.4 L567.2,19.1 L566.2,18.8 L565.3,18.4 L564.5,17.9 L563.8,17.4 L563.2,16.8 L562.8,16.2 L562.3,15.6 L562,14.9 L561.7,14.3 L561.5,13.7 L561.4,13.1 L561.3,12.4 L561.3,11.8 L561.5,11.2 L561.7,10.6 L562,10.1 L562.4,9.5 L563,9.1 L563.7,8.6 L564.5,8.3Z" fill="#fdae61" stroke="#111" stroke-width="0.6"/>
<path d="M489.8,33.2 L490.2,32.8 L490.8,32.2 L491.4,31.8 L492.1,31.2 L492.9,30.8 L493.7,30.2 L494.6,29.8 L495.5,29.2 L496.5,28.8 L497.5,28.3 L498.5,27.8 L499.5,27.4 L500.4,27 L501.4,26.6 L502.3,26.2 L503.3,25.9 L504.2,25.6 L505.3,25.3 L506.6,25 L508,24.7 L509.5,24.4 L511.2,24.1 L513.1,23.9 L515.2,23.6 L517.3,23.4 L519.5,23.1 L521.7,22.9 L523.9,22.7 L526.1,22.5 L528.3,22.3 L530.5,22.2 L532.7,22 L534.9,21.9 L537.2,21.8 L539.5,21.6 L542,21.5 L544.5,21.4 L547,21.3 L549.7,21.2 L552.4,21.1 L555.2,21.1 L558,21 L560.8,20.9 L563.5,20.9 L566.2,20.8 L569,20.8 L571.7,20.7 L574.4,20.7 L577,20.6 L579.6,20.6 L582.1,20.7 L584.5,20.7 L586.8,20.8 L589.1,20.9 L591.2,21.1 L593.2,21.3 L595.2,21.5 L597,21.8 L598.7,22.1 L600.3,22.5 L601.8,22.9 L603.1,23.3 L604.4,23.8 L605.5,24.4 L606.5,24.9 L607.4,25.7 L608.2,26.5 L608.9,27.5 L609.6,28.6 L610.1,29.8 L610.5,31.2 L610.9,32.7 L611.1,34.3 L611.3,36 L611.5,37.7 L611.6,39.5 L611.7,41.3 L611.7,43.1 L611.6,45 L611.6,47 L611.4,49 L611.2,50.7 L611,52.2 L610.6,53.3 L610.2,54.2 L609.6,54.8 L609,55.2 L608.4,55.2 L607.6,55 L606.7,54.7 L605.5,54.4 L604.2,54 L602.6,53.6 L600.8,53.1 L598.9,52.5 L596.7,51.9 L594.3,51.3 L591.8,50.7 L589.2,50.1 L586.5,49.5 L583.7,48.9 L580.8,48.4 L577.8,47.9 L574.6,47.5 L571.4,47 L568.1,46.6 L564.7,46.2 L561.2,45.9 L557.8,45.6 L554.2,45.3 L550.6,45 L546.9,44.8 L543.1,44.5 L539.5,44.3 L535.9,44.1 L532.4,43.9 L529.1,43.6 L525.8,43.4 L522.6,43.2 L519.5,42.9 L516.5,42.7 L513.7,42.4 L511.1,42.2 L508.7,41.9 L506.5,41.6 L504.5,41.4 L502.8,41.1 L501.2,40.8 L499.8,40.5 L498.5,40.2 L497.3,39.9 L496.2,39.6 L495.2,39.3 L494.2,39 L493.4,38.7 L492.6,38.4 L491.9,38.1 L491.3,37.8 L490.7,37.5 L490.2,37.2 L489.8,36.9 L489.4,36.6 L489.1,36.4 L488.8,36.1 L488.7,35.9 L488.6,35.6 L488.5,35.3 L488.6,34.9 L488.8,34.6 L489,34.2 L489.3,33.7Z M547.9,-2 L551.1,-2 L553.8,-1.9 L556.1,-1.7 L558,-1.4 L559.5,-1 L560.6,-0.5 L561.3,0.1 L561.6,0.8 L561.4,1.7 L561.2,2.4 L560.7,3.1 L560.1,3.7 L559.4,4.2 L558.5,4.7 L557.4,5.1 L556.2,5.4 L554.8,5.6 L553.5,5.8 L552.1,6 L550.8,6 L549.5,6.1 L548.2,6.1 L546.9,6 L545.6,5.8 L544.4,5.7 L543.2,5.4 L542.2,5 L541.3,4.6 L540.5,4 L539.8,3.4 L539.2,2.7 L538.7,1.9 L538.3,1.1 L538.4,0.3 L538.9,-0.4 L539.8,-0.9 L541.2,-1.3 L543,-1.7 L545.2,-1.9Z M316.4,33.5 L316.7,33.3 L316.9,33.1 L317.2,32.9 L317.5,32.8 L317.7,32.8 L318,32.9 L318.3,33.1 L318.6,33.3 L318.8,33.5 L319,33.8 L319.2,34.1 L319.2,34.4 L319.2,34.6 L319.2,34.9 L319,35.2 L318.8,35.5 L318.6,35.7 L318.3,35.9 L318,36.1 L317.7,36.2 L317.5,36.2 L317.2,36.1 L316.9,35.9 L316.7,35.7 L316.4,35.5 L316.2,35.2 L316.1,34.9 L316,34.6 L316,34.4 L316.1,34.1 L316.2,33.8Z" fill="#d73027" stroke="#111" stroke-width="0.6"/>
<path d="M494.3,34 L494.5,33.8 L494.9,33.5 L495.3,33.2 L495.9,32.9 L496.6,32.6 L497.5,32.2 L498.5,31.9 L499.5,31.6 L500.8,31.2 L502,30.9 L503.3,30.6 L504.5,30.2 L505.9,29.9 L507.2,29.6 L508.6,29.3 L509.9,29 L511.4,28.8 L512.9,28.5 L514.5,28.3 L516.3,28 L518.2,27.8 L520.2,27.6 L522.3,27.4 L524.5,27.3 L526.8,27.1 L529.3,27 L531.8,26.8 L534.4,26.7 L537.2,26.6 L540,26.5 L542.9,26.4 L545.9,26.2 L549.1,26.2 L552.3,26.1 L555.8,26 L559.4,26 L563.1,26 L567,26 L571.1,26.1 L575.3,26.2 L579.7,26.3 L583.7,26.4 L587.2,26.6 L590.4,26.8 L593.1,27 L595.4,27.3 L597.4,27.5 L598.9,27.8 L600,28.2 L601.1,28.5 L602.1,28.9 L603,29.2 L603.9,29.6 L604.7,30 L605.4,30.5 L606.1,30.9 L606.8,31.4 L607.3,32 L607.9,32.7 L608.3,33.5 L608.7,34.5 L609,35.6 L609.2,36.9 L609.4,38.2 L609.6,39.8 L609.6,41.2 L609.7,42.5 L609.7,43.7 L609.7,44.8 L609.6,45.8 L609.5,46.7 L609.3,47.5 L609.1,48.2 L608.8,48.8 L608.5,49.3 L608.2,49.7 L607.7,50 L607.3,50.2 L606.7,50.3 L606.1,50.4 L605.5,50.2 L604.8,50.1 L604,50 L603.2,49.8 L602.3,49.6 L601.4,49.3 L600.4,49.1 L599.4,48.8 L598.3,48.4 L597.1,48.1 L595.7,47.7 L594.2,47.4 L592.6,47 L590.9,46.6 L589,46.2 L587,45.8 L584.8,45.3 L582.7,44.9 L580.5,44.6 L578.4,44.2 L576.2,43.9 L574.1,43.7 L571.9,43.5 L569.7,43.3 L567.6,43.1 L565.2,43 L562.6,42.8 L559.9,42.7 L556.9,42.6 L553.8,42.4 L550.4,42.3 L546.9,42.2 L543.1,42 L539.5,41.9 L536,41.8 L532.6,41.6 L529.4,41.5 L526.2,41.4 L523.2,41.2 L520.4,41.1 L517.6,40.9 L515.1,40.8 L512.7,40.6 L510.5,40.4 L508.5,40.1 L506.7,39.9 L505.1,39.6 L503.6,39.4 L502.4,39.1 L501.2,38.8 L500.2,38.5 L499.2,38.2 L498.4,38 L497.6,37.8 L497,37.5 L496.5,37.3 L496,37.2 L495.6,37 L495.3,36.8 L495,36.6 L494.7,36.4 L494.4,36.2 L494.2,36 L494.1,35.8 L493.9,35.7 L493.9,35.5 L493.8,35.2 L493.8,35 L493.9,34.8 L494,34.6 L494.1,34.3Z" fill="#a50026" stroke="#111" stroke-width="0.6"/>
<path d="M601,2.4 L601,3.6 L601,4.8 L601.1,5.9 L601.2,6.9 L601.3,7.8 L601.5,8.7 L601.7,9.5 L601.9,10.2 L602.1,10.8 L602.4,11.5 L602.7,12.1 L603.1,12.8 L603.4,13.5 L603.8,14.2 L604.3,14.9 L604.8,15.6 L605.2,16.4 L605.8,17.1 L606.2,17.8 L606.8,18.5 L607.2,19.2 L607.8,19.9 L608.2,20.5 L608.8,21.2 L609.2,21.8 L610.2,22.4 L611.5,22.8 L613.3,23.2 L615.5,23.5 L618.1,23.8 L621.1,23.9 L624.6,24 L628.4,24 L631.8,23.6 L634.7,22.8 L637.2,21.6 L639.1,19.9 L640.5,17.9 L641.5,15.5 L642,12.6 L642,9.4 L641.4,6.5 L640.1,4.1 L638.2,2.1 L635.6,0.4 L632.4,-0.8 L628.5,-1.6 L624.1,-2 L618.9,-2 L614.5,-1.8 L610.6,-1.5 L607.4,-1.1 L604.8,-0.4 L602.9,0.3 L601.6,1.3Z" fill="#fee090"/>
<path d="M622.9,-2 L627.1,-2 L630.8,-1.8 L634,-1.4 L636.7,-0.8 L638.8,-0 L640.4,0.9 L641.5,2.1 L642,3.5 L642,5 L641.8,6.4 L641.3,7.5 L640.7,8.5 L639.8,9.2 L638.7,9.8 L637.4,10.1 L635.9,10.3 L634.1,10.2 L632.4,10.1 L630.7,10.1 L629,10 L627.3,9.9 L625.6,9.8 L624,9.7 L622.3,9.6 L620.7,9.4 L619.2,9.3 L617.8,9.1 L616.5,8.9 L615.3,8.6 L614.2,8.3 L613.2,8 L612.4,7.7 L611.6,7.3 L611,6.9 L610.4,6.3 L609.8,5.7 L609.4,5 L609,4.3 L608.8,3.4 L608.6,2.5 L608.4,1.5 L608.9,0.6 L609.8,-0.1 L611.3,-0.8 L613.4,-1.2 L616,-1.6 L619.2,-1.9Z" fill="#fdae61" stroke="#111" stroke-width="0.6"/>
<path d="M499.9,32.9 L501.1,32.4 L502.4,31.9 L504.1,31.5 L505.9,31.1 L508.1,30.7 L510.4,30.4 L513.1,30.2 L515.9,30 L519.1,29.8 L522.3,29.7 L525.5,29.6 L528.9,29.5 L532.3,29.4 L535.9,29.3 L539.5,29.2 L543.1,29.2 L546.9,29.1 L550.6,29.1 L554.4,29.1 L558.1,29.1 L561.9,29.1 L565.6,29.1 L569.4,29.2 L573.1,29.2 L576.9,29.3 L580.4,29.4 L583.6,29.5 L586.5,29.6 L589.2,29.7 L591.6,29.8 L593.8,30 L595.7,30.2 L597.3,30.3 L598.8,30.6 L600.1,30.9 L601.3,31.2 L602.4,31.6 L603.3,32.1 L604.1,32.6 L604.8,33.2 L605.2,33.8 L605.7,34.5 L606,35.2 L606.3,35.9 L606.5,36.6 L606.6,37.4 L606.6,38.2 L606.6,39.1 L606.4,39.9 L606.2,40.7 L605.9,41.4 L605.4,42 L604.8,42.6 L604.2,43 L603.4,43.4 L602.5,43.7 L601.5,43.8 L600.4,44 L599.3,44.1 L598,44.1 L596.7,44 L595.3,44 L593.9,43.8 L592.3,43.6 L590.7,43.4 L588.9,43.1 L586.9,42.9 L584.7,42.7 L582.3,42.5 L579.8,42.3 L577,42.1 L574.1,41.9 L570.9,41.8 L567.7,41.6 L564.5,41.5 L561.1,41.4 L557.7,41.3 L554.1,41.2 L550.5,41.1 L546.9,41 L543.1,41 L539.5,40.9 L535.9,40.8 L532.3,40.7 L528.9,40.6 L525.5,40.5 L522.3,40.4 L519.1,40.2 L515.9,40.1 L513.1,39.9 L510.4,39.6 L508.1,39.3 L505.9,38.9 L504.1,38.5 L502.4,38 L501.1,37.4 L499.9,36.9 L499.1,36.3 L498.5,35.7 L498.2,35.1 L498.2,34.6 L498.5,34 L499.1,33.5Z M504.7,33.4 L505.8,33.1 L507.4,32.7 L509.2,32.4 L511.3,32.1 L513.8,31.9 L516.6,31.7 L519.7,31.5 L523.1,31.4 L526.9,31.3 L530.6,31.2 L534.4,31.2 L538.1,31.1 L541.9,31.1 L545.6,31 L549.4,31 L553.1,31 L556.9,31 L560.5,31 L564.1,31 L567.7,31.1 L571.1,31.1 L574.5,31.2 L577.7,31.3 L580.9,31.3 L584.1,31.5 L586.9,31.6 L589.5,31.8 L591.8,32.1 L593.9,32.4 L595.7,32.7 L597.2,33.2 L598.5,33.6 L599.5,34.2 L600.3,34.7 L601,35.3 L601.6,35.9 L601.9,36.5 L602.2,37.1 L602.2,37.7 L602.1,38.4 L601.9,39.1 L601.5,39.7 L601,40.2 L600.3,40.6 L599.5,40.9 L598.5,41.2 L597.4,41.3 L596.2,41.4 L594.8,41.3 L593.1,41.3 L591.2,41.2 L588.9,41.1 L586.3,41 L583.5,40.8 L580.3,40.7 L576.9,40.5 L573.1,40.3 L569.4,40.1 L565.6,40 L561.9,39.8 L558.1,39.7 L554.4,39.6 L550.6,39.5 L546.9,39.4 L543.1,39.4 L539.5,39.3 L536.1,39.2 L532.8,39.2 L529.7,39.1 L526.7,39 L523.9,38.9 L521.2,38.8 L518.8,38.6 L516.4,38.5 L514.2,38.3 L512.2,38 L510.4,37.8 L508.7,37.5 L507.2,37.1 L505.8,36.7 L504.7,36.3 L503.8,35.9 L503.2,35.5 L502.9,35 L502.9,34.6 L503.2,34.2 L503.8,33.8Z M506.5,33.6 L507.2,33.2 L508.2,33 L509.5,32.8 L510.9,32.6 L512.5,32.4 L514.4,32.3 L516.5,32.2 L518.8,32.1 L521.2,32.1 L523.6,32.1 L525.9,32.1 L528.1,32.2 L530.2,32.3 L532.1,32.5 L534,32.7 L535.7,32.9 L537.3,33.1 L538.6,33.4 L539.6,33.7 L540.3,34 L540.7,34.3 L540.8,34.6 L540.5,35 L539.9,35.3 L539.1,35.7 L537.9,36 L536.4,36.3 L534.7,36.5 L532.6,36.8 L530.2,36.9 L527.6,37 L524.6,37.1 L521.4,37.1 L518.4,37.1 L515.8,37 L513.5,36.9 L511.5,36.8 L509.7,36.6 L508.3,36.3 L507.2,36.1 L506.5,35.7 L505.9,35.4 L505.5,35.1 L505.3,34.8 L505.3,34.5 L505.5,34.2 L505.9,33.9Z M559.8,34.1 L560.9,33.9 L562.2,33.7 L563.4,33.5 L564.8,33.3 L566.2,33.2 L567.6,33.1 L569.1,33 L570.7,33 L572.3,33 L573.8,33 L575.1,33.1 L576.3,33.2 L577.3,33.3 L578.1,33.5 L578.8,33.7 L579.4,33.9 L579.8,34.2 L580.1,34.4 L580.2,34.7 L580.1,35 L579.9,35.2 L579.6,35.5 L579.1,35.8 L578.5,36.1 L577.7,36.3 L576.8,36.6 L575.8,36.8 L574.8,37 L573.5,37.1 L572.2,37.2 L570.8,37.3 L569.3,37.3 L567.7,37.3 L566.2,37.3 L564.8,37.2 L563.4,37.1 L562.2,36.9 L561.1,36.8 L560.1,36.5 L559.2,36.3 L558.5,36 L557.9,35.7 L557.6,35.4 L557.6,35.2 L557.7,34.9 L558.2,34.6 L558.9,34.4Z M591.5,34.2 L592.5,34 L593.5,33.8 L594.5,33.8 L595.4,33.7 L596.3,33.8 L597.3,33.9 L598.2,34.1 L599.1,34.4 L599.9,34.8 L600.7,35.2 L601.4,35.6 L602,36 L602.5,36.5 L602.9,37 L603.2,37.6 L603.4,38.2 L603.6,38.8 L603.6,39.4 L603.4,39.9 L603.2,40.4 L602.8,40.8 L602.3,41.1 L601.7,41.4 L600.9,41.7 L600.1,41.8 L599.2,42 L598.3,42 L597.4,41.9 L596.6,41.8 L595.7,41.6 L594.8,41.3 L593.9,41 L593.1,40.5 L592.3,40.1 L591.5,39.6 L590.9,39.2 L590.3,38.7 L589.9,38.2 L589.5,37.7 L589.1,37.2 L588.9,36.8 L588.8,36.3 L588.8,35.9 L589.1,35.5 L589.4,35.1 L590,34.8 L590.7,34.5Z M515.5,34.3 L516.5,34.1 L517.6,34 L518.7,33.9 L519.9,33.8 L521.1,33.7 L522.4,33.7 L523.8,33.7 L525.2,33.7 L526.8,33.7 L528,33.8 L529,33.8 L529.8,34 L530.2,34.1 L530.5,34.3 L530.5,34.5 L530.2,34.7 L529.8,34.9 L529.1,35.1 L528.4,35.3 L527.5,35.5 L526.5,35.6 L525.4,35.7 L524.1,35.8 L522.8,35.8 L521.2,35.9 L519.9,35.8 L518.6,35.8 L517.5,35.8 L516.5,35.7 L515.6,35.6 L514.9,35.5 L514.2,35.4 L513.8,35.3 L513.4,35.1 L513.3,35 L513.4,34.9 L513.6,34.7 L514.1,34.6 L514.7,34.4Z" fill="none" stroke="#111" stroke-width="0.6"/>
<path d="M415.2,36.3 L415.8,36.2 L416.5,36 L417.2,35.9 L417.9,35.9 L418.6,35.9 L419.4,35.9 L420.2,36 L421.1,36.2 L421.9,36.3 L422.8,36.6 L423.6,36.8 L424.5,37.1 L425.3,37.5 L426.1,37.9 L426.9,38.3 L427.6,38.8 L428.4,39.2 L429,39.8 L429.5,40.2 L430,40.8 L430.3,41.2 L430.5,41.8 L430.6,42.2 L430.6,42.8 L430.4,43.2 L430.2,43.7 L430,44.1 L429.6,44.4 L429.2,44.7 L428.6,44.9 L428,45.1 L427.4,45.2 L426.6,45.3 L425.9,45.3 L425.1,45.3 L424.3,45.2 L423.5,45.1 L422.6,44.9 L421.8,44.7 L420.9,44.4 L420.1,44.1 L419.2,43.8 L418.5,43.4 L417.7,43.1 L417,42.8 L416.4,42.4 L415.8,42.1 L415.2,41.7 L414.8,41.3 L414.3,40.9 L413.9,40.6 L413.6,40.2 L413.4,39.8 L413.2,39.4 L413.1,39.1 L413,38.7 L413,38.3 L413.1,38 L413.2,37.6 L413.5,37.3 L413.8,37 L414.2,36.8 L414.6,36.6Z M446.1,37.3 L446.9,37.2 L447.8,37 L448.7,36.9 L449.6,36.9 L450.4,37 L451.3,37 L452.2,37.2 L453.1,37.4 L453.9,37.6 L454.8,37.9 L455.5,38.3 L456.2,38.8 L456.8,39.3 L457.4,39.9 L457.9,40.6 L458.3,41.3 L458.7,42.2 L459,43 L459.2,43.9 L459.4,44.7 L459.6,45.6 L459.6,46.6 L459.6,47.5 L459.6,48.5 L459.4,49.5 L459.3,50.4 L459,51.3 L458.8,52 L458.5,52.7 L458.1,53.3 L457.7,53.9 L457.2,54.3 L456.8,54.7 L456.2,55 L455.6,55.3 L455,55.5 L454.3,55.7 L453.5,55.9 L452.8,56 L451.9,56 L451.1,56 L450.2,55.9 L449.5,55.8 L448.7,55.6 L448,55.4 L447.4,55.1 L446.8,54.7 L446.2,54.2 L445.8,53.8 L445.3,53.2 L444.9,52.6 L444.5,52 L444.2,51.3 L444,50.5 L443.7,49.8 L443.6,48.9 L443.4,48.1 L443.3,47.2 L443.2,46.3 L443.2,45.4 L443.1,44.6 L443,43.7 L443,42.8 L443,41.9 L443,41.1 L443.1,40.3 L443.3,39.6 L443.7,39 L444.1,38.4 L444.6,38 L445.3,37.6Z M481.1,58.6 L482.2,58.2 L483.5,58 L484.7,57.8 L486.1,57.8 L487.5,57.8 L488.9,57.8 L490.5,58 L492,58.2 L493.7,58.6 L495.3,58.9 L496.9,59.3 L498.6,59.7 L500.2,60.2 L501.9,60.7 L503.5,61.2 L505.1,61.8 L506.8,62.4 L508.4,63 L510,63.5 L511.7,64 L513.3,64.5 L515,65 L516.6,65.4 L518.3,65.8 L519.9,66.1 L521.5,66.5 L523.1,66.9 L524.6,67.2 L526.1,67.6 L527.5,67.9 L528.9,68.3 L530.3,68.6 L531.6,69 L532.8,69.3 L533.8,69.7 L534.6,70.1 L535.3,70.5 L535.9,70.8 L536.3,71.2 L536.5,71.6 L536.7,72.1 L536.7,72.4 L536.7,72.8 L536.7,73.2 L536.6,73.5 L536.5,73.8 L536.3,74.1 L536.1,74.4 L535.8,74.6 L535.4,74.8 L534.8,75 L534.1,75.1 L533.2,75.1 L532.2,75.1 L531,75.1 L529.7,75 L528.2,74.9 L526.7,74.7 L525.3,74.5 L523.9,74.3 L522.5,74.1 L521.1,73.8 L519.7,73.6 L518.4,73.3 L517.1,72.9 L515.7,72.6 L514.3,72.3 L512.9,72 L511.4,71.6 L509.9,71.3 L508.4,71 L506.8,70.7 L505.1,70.3 L503.5,70 L501.9,69.7 L500.2,69.4 L498.6,69 L496.9,68.7 L495.3,68.4 L493.7,68 L492,67.7 L490.5,67.4 L489,67.1 L487.6,66.8 L486.3,66.5 L485.1,66.3 L483.9,66 L482.8,65.8 L481.9,65.7 L481,65.4 L480.1,65.2 L479.4,65 L478.8,64.7 L478.2,64.4 L477.7,64 L477.4,63.7 L477.1,63.3 L476.8,62.9 L476.6,62.6 L476.5,62.3 L476.4,61.9 L476.3,61.6 L476.4,61.3 L476.4,61 L476.6,60.7 L476.8,60.4 L477.2,60.1 L477.7,59.8 L478.4,59.5 L479.1,59.2 L480,58.9Z M555.2,71.1 L555.8,70.9 L556.5,70.6 L557.3,70.4 L558.2,70.3 L559.1,70.1 L560.1,70 L561.2,69.9 L562.4,69.8 L563.6,69.7 L564.8,69.7 L566,69.7 L567.2,69.8 L568.3,69.9 L569.4,70 L570.5,70.2 L571.5,70.4 L572.5,70.6 L573.4,70.9 L574.2,71.2 L574.9,71.5 L575.6,71.9 L576.1,72.2 L576.5,72.6 L576.9,73 L577.1,73.5 L577.2,73.9 L577.2,74.3 L577.1,74.8 L576.9,75.2 L576.5,75.7 L576,76.1 L575.4,76.5 L574.6,77 L573.8,77.3 L572.9,77.7 L572,77.9 L571,78.1 L569.9,78.2 L568.8,78.3 L567.6,78.3 L566.4,78.2 L565.2,78.1 L564,78 L562.9,77.8 L561.8,77.7 L560.8,77.4 L559.9,77.2 L558.9,76.9 L558.1,76.6 L557.3,76.3 L556.5,75.9 L555.9,75.6 L555.3,75.2 L554.9,74.8 L554.5,74.4 L554.1,74 L553.9,73.5 L553.7,73.1 L553.7,72.7 L553.8,72.4 L554,72 L554.3,71.7 L554.7,71.4Z M484.9,96.2 L485.1,95.3 L485.4,94.6 L485.8,94 L486.2,93.4 L486.8,93 L487.3,92.6 L487.9,92.3 L488.6,92.1 L489.4,91.9 L490.1,91.9 L490.9,91.8 L491.7,91.8 L492.5,91.8 L493.4,91.9 L494.2,92 L495.1,92.2 L495.9,92.3 L496.7,92.6 L497.5,92.9 L498.1,93.3 L498.7,93.8 L499.1,94.3 L499.5,94.9 L499.9,95.6 L500.1,96.4 L500.1,97 L499.7,97.6 L499.1,98.1 L498.2,98.4 L496.9,98.7 L495.4,98.9 L493.6,99 L491.4,99 L489.6,98.9 L488.1,98.7 L486.8,98.4 L485.9,98 L485.3,97.5 L484.9,96.9Z" fill="#e0f3f8" stroke="#111" stroke-width="0.6" stroke-dasharray="1,0.8"/>
<path d="M436,32 L436.1,31.9 L436.2,31.8 L436.4,31.5 L436.6,31.2 L436.9,30.8 L437.2,30.3 L437.7,29.8 L438.1,29.1 L438.8,28.6 L439.7,28.1 L440.7,27.6 L441.9,27.2 L443.3,26.9 L445,26.7 L446.8,26.5 L448.7,26.4 L450.7,26.3 L452.6,26.3 L454.5,26.4 L456.4,26.5 L458.2,26.7 L460,27 L461.8,27.3 L463.5,27.6 L465.1,28.1 L466.6,28.5 L468,29.1 L469.2,29.7 L470.4,30.4 L471.4,31.2 L472.2,32 L473,32.8 L473.7,33.7 L474.4,34.6 L475,35.5 L475.6,36.5 L476.2,37.4 L476.8,38.4 L477.3,39.4 L477.8,40.3 L478.3,41.3 L478.9,42.2 L479.5,43.1 L480.1,44 L480.7,44.8 L481.4,45.6 L482.1,46.4 L482.9,47.2 L483.7,47.9 L484.6,48.6 L485.5,49.2 L486.5,49.8 L487.5,50.4 L488.7,51 L489.8,51.5 L491.1,52 L492.4,52.4 L493.8,52.9 L495.2,53.3 L496.8,53.6 L498.4,53.9 L500,54.2 L501.8,54.5 L503.6,54.7 L505.5,54.9 L507.5,55.1 L509.6,55.3 L511.8,55.5 L514,55.7 L516.3,55.8 L518.8,55.9 L521.2,56.1 L523.9,56.2 L526.7,56.3 L529.7,56.4 L532.8,56.6 L536.1,56.7 L539.5,56.8 L543.1,56.9 L546.9,57.1 L550.5,57.2 L553.9,57.4 L557.2,57.5 L560.3,57.7 L563.3,57.9 L566.1,58.1 L568.8,58.4 L571.2,58.6 L573.6,58.9 L575.8,59.2 L577.8,59.6 L579.7,60 L581.4,60.5 L583,60.9 L584.4,61.5 L585.6,62 L586.8,62.6 L587.9,63.3 L589,64 L590,64.8 L590.9,65.7 L591.8,66.6 L592.6,67.5 L593.4,68.5 L594.1,69.5 L594.8,70.5 L595.5,71.5 L596.2,72.5 L596.9,73.5 L597.5,74.5 L598.2,75.5 L598.8,76.5 L599.4,77.5 L600.1,78.4 L600.7,79.3 L601.3,80.2 L601.9,81 L602.6,81.8 L603.2,82.6 L603.8,83.4 L604.5,84.1 L605.1,84.8 L605.8,85.5 L606.5,86.2 L607.2,86.9 L607.9,87.5 L608.6,88.2 L609.4,88.8 L610,89.4 L610.6,89.8 L611.1,90.2 L611.4,90.5 L611.7,90.8 L611.9,90.9 L612,91 M449.8,69.6 L450.1,69.6 L450.7,69.6 L451.7,69.7 L452.9,69.8 L454.4,69.8 L456.3,69.9 L458.5,70 L460.9,70.2 L463.3,70.3 L465.4,70.6 L467.4,70.9 L469.3,71.3 L471,71.7 L472.5,72.2 L473.9,72.8 L475.2,73.4 L476.3,74 L477.5,74.5 L478.5,75 L479.5,75.4 L480.4,75.8 L481.3,76.1 L482.1,76.4 L482.9,76.7 L483.8,76.9 L484.8,77.1 L485.9,77.3 L487.2,77.5 L488.6,77.6 L490.2,77.8 L491.8,77.9 L493.7,78.1 L495.6,78.2 L497.5,78.3 L499.6,78.4 L501.8,78.6 L504,78.7 L506.3,78.8 L508.8,78.9 L511.2,79.1 L513.8,79.2 L516.2,79.3 L518.8,79.4 L521.2,79.6 L523.8,79.7 L526.2,79.8 L528.8,79.9 L531.2,80.1 L533.8,80.2 L536.2,80.3 L538.8,80.5 L541.2,80.6 L543.8,80.8 L546.2,81 L548.8,81.2 L551.2,81.3 L553.7,81.5 L556,81.7 L558.3,82 L560.5,82.2 L562.6,82.4 L564.6,82.6 L566.6,82.9 L568.4,83.1 L570.3,83.4 L572.2,83.8 L574.1,84.2 L575.9,84.8 L577.8,85.3 L579.7,85.9 L581.6,86.6 L583.4,87.4 L585.2,88.1 L587,88.9 L588.6,89.7 L590.2,90.5 L591.6,91.4 L593,92.2 L594.4,93.1 L595.6,93.9 L596.7,94.7 L597.7,95.4 L598.4,95.9 L599.1,96.3 L599.5,96.7 L599.8,96.9 L600,97 M463.7,96 L463.8,95.9 L464.1,95.6 L464.4,95.2 L464.9,94.7 L465.6,94 L466.3,93.2 L467.2,92.3 L468.1,91.2 L469.2,90.3 L470.3,89.4 L471.5,88.6 L472.7,88 L474,87.4 L475.4,87 L476.8,86.6 L478.3,86.4 L479.9,86.2 L481.5,86.1 L483.2,86 L485,86 L486.8,86.1 L488.7,86.2 L490.7,86.4 L492.8,86.6 L494.8,86.9 L496.8,87.1 L498.8,87.4 L500.8,87.7 L502.7,88 L504.7,88.3 L506.6,88.6 L508.4,88.9 L510.2,89.3 L511.7,89.7 L513.1,90.3 L514.4,90.9 L515.5,91.5 L516.4,92.3 L517.2,93.1 L517.8,93.9 L518.4,94.7 L518.8,95.4 L519.2,95.9 L519.5,96.3 L519.8,96.7 L519.9,96.9 L520,97 M303,93 L303.3,93 L303.8,93 L304.6,92.9 L305.7,92.8 L307,92.8 L308.6,92.7 L310.4,92.6 L312.6,92.4 L314.7,92.3 L317,92.2 L319.2,92.1 L321.5,92 L323.9,91.9 L326.3,91.9 L328.8,91.8 L331.2,91.7 L333.8,91.7 L336.2,91.7 L338.8,91.7 L341.2,91.7 L343.8,91.8 L346.2,91.8 L348.8,91.9 L351.2,92.1 L353.6,92.2 L355.9,92.5 L358,92.8 L360,93.1 L361.9,93.5 L363.6,94 L365.2,94.5 L366.8,95 L368.1,95.5 L369.2,95.9 L370.1,96.3 L370.9,96.6 L371.4,96.8 L371.8,96.9 L372,97" fill="none" stroke="#111" stroke-width="0.6"/>
<ellipse cx="328" cy="66" rx="1.4" ry="0.9" fill="none" stroke="#151515" stroke-width="0.4"/>
<ellipse cx="337.8" cy="71.4" rx="1.8" ry="0.9" fill="none" stroke="#151515" stroke-width="0.4"/>
<path d="M435.87,51.01 L436.51,52.21 L437.14,53.71 L437.27,55.22 L437.78,56.27 L438.41,56.27 L439.43,57.32 L439.55,58.97 L440.19,60.32 L440.44,62.28 L440.69,63.48 L442.09,64.08 L443.36,65.13 L443.87,65.73 L444.37,66.63 L444.88,68.43 L445.52,68.43 L446.41,68.89 L446.41,70.24 L447.04,70.84 L447.93,71.89 L448.56,72.49 L449.2,73.24 L449.32,74.74 L449.83,76.25 L449.96,77.9 L449.58,79.25 L449.32,80.45 L449.2,81.5 L448.69,83 L448.18,84.06 L447.29,84.96 L446.91,86.01 L446.41,86.91 L446.02,87.96 L445.52,89.31 L445.26,91.27 L444.37,91.72 L443.11,91.72 L442.09,92.32 L441.08,93.07 L440.69,93.67 L439.68,92.92 L438.92,92.62 L438.54,92.32 L438.28,92.47 L437.27,93.22 L435.87,92.62 L434.73,92.62 L433.46,92.02 L432.45,90.96 L432.19,89.91 L431.56,88.56 L430.8,88.41 L430.29,87.81 L430.8,87.21 L430.29,86.31 L429.91,87.36 L428.89,87.81 L429.4,86.76 L429.78,85.56 L430.04,84.21 L429.27,85.26 L428.51,86.01 L427.62,86.91 L427.12,87.36 L426.61,86.76 L426.23,85.41 L425.34,84.21 L424.58,83.3 L423.18,83 L421.53,82.25 L419.38,82.4 L417.47,83 L415.57,83.45 L413.67,84.21 L412.4,84.96 L411.76,85.86 L410.11,86.01 L407.95,85.86 L406.69,86.46 L405.42,87.21 L404.53,87.66 L402.88,87.51 L401.61,86.76 L400.98,86.46 L400.98,85.41 L401.74,84.96 L401.86,83.76 L401.86,82.55 L401.23,81.2 L400.98,80 L400.85,78.5 L400.09,77.3 L399.83,75.79 L398.94,74.29 L398.94,73.24 L399.2,72.19 L398.94,70.99 L399.45,69.49 L399.33,68.73 L399.83,67.68 L400.47,67.68 L401.61,67.08 L403.13,65.88 L404.53,65.88 L405.8,65.43 L406.69,64.98 L407.95,64.53 L408.84,64.08 L409.48,62.73 L410.24,61.68 L410.11,60.77 L411,59.57 L411.76,60.47 L411.89,59.27 L412.9,59.42 L413.03,58.22 L413.92,57.92 L414.05,56.72 L414.93,56.27 L415.95,55.67 L416.84,56.12 L417.6,57.32 L417.85,58.07 L418.11,57.17 L419.12,57.32 L419.63,56.72 L419.38,55.97 L420.26,54.77 L420.39,54.02 L421.03,53.56 L421.66,53.26 L422.55,53.41 L423.31,53.26 L423.31,52.21 L424.07,52.51 L424.96,52.81 L426.1,52.96 L426.99,53.26 L427.62,52.96 L428.51,53.26 L428.77,53.71 L428.39,54.77 L427.5,55.07 L427.5,56.27 L426.86,57.32 L427.37,57.77 L428.26,58.37 L429.27,59.12 L430.42,60.17 L431.43,60.92 L432.19,61.38 L433.33,61.38 L433.84,61.07 L434.35,59.87 L434.73,58.22 L434.73,56.72 L434.6,55.22 L434.86,53.87 L435.11,52.66 L435.49,51.31Z M438.54,96.07 L439.43,96.22 L440.82,96.67 L441.58,96.37 L443.23,96.37 L443.23,97.87 L442.85,99.23 L442.6,99.83 L441.58,100.43 L440.69,100.43 L440.06,100.13 L439.3,98.47 L438.79,97.27Z M421.15,36.29 L422.29,35.54 L423.18,35.54 L424.45,35.99 L425.21,36.29 L425.34,37.94 L426.1,39.75 L426.99,40.05 L428.13,38.39 L429.27,37.34 L430.16,37.34 L431.18,37.94 L432.45,38.54 L433.59,38.85 L434.6,39 L435.87,39.75 L437.14,40.2 L438.16,40.8 L439.04,41.7 L440.06,42.45 L440.95,43.35 L442.09,43.8 L442.6,44.4 L442.34,45 L441.58,45.45 L441.84,46.2 L442.6,46.96 L443.11,47.86 L443.61,48.61 L444.5,48.91 L444.5,49.81 L445.39,50.26 L446.41,50.41 L445.77,50.86 L445.01,50.56 L443.87,50.26 L442.73,50.11 L442.09,49.36 L441.46,48.61 L440.95,47.86 L440.44,46.96 L439.43,46.66 L438.41,46.2 L437.52,46.96 L437.14,47.86 L436.76,48.46 L436,48.91 L434.6,48.76 L433.72,47.86 L432.83,47.26 L431.94,47.11 L431.3,47.41 L430.16,47.56 L429.65,46.66 L430.16,45.75 L430.16,43.2 L428.89,42.3 L427.62,41.7 L426.36,41.4 L424.71,40.5 L423.82,40.95 L423.44,40.8 L422.55,39.45 L423.06,38.85 L424.45,38.54 L423.82,38.39 L422.8,38.24 L421.66,37.34Z M443.23,43.35 L444.12,43.2 L445.14,43.2 L445.64,42.9 L446.15,43.2 L446.91,42.45 L447.42,42.3 L447.93,41.25 L448.44,41.4 L448.31,42.15 L447.29,43.2 L446.02,44.25 L444.88,44.4 L443.87,44.1 L443.23,43.8Z M446.28,38.85 L447.29,39.45 L448.31,40.35 L449.32,41.7 L449.45,42.3 L448.94,41.85 L447.93,40.8 L446.66,39.45Z M451.23,42.45 L452.37,43.95 L452.88,45.15 L452.24,45.15 L451.35,43.8Z M463.16,65.13 L464.43,65.88 L466.33,67.68 L467.09,68.43 L466.71,68.58 L465.06,67.53 L463.54,66.18Z M474.2,95.77 L476.23,96.82 L475.72,98.32 L474.58,99.53 L474.7,100.73 L472.42,101.48 L471.79,102.98 L471.53,103.88 L470.14,104.93 L468.74,104.93 L467.85,104.48 L466.33,103.73 L466.46,102.83 L467.6,102.08 L468.61,101.03 L470.14,100.28 L471.4,99.23 L472.29,98.02 L472.67,97.27 L473.43,96.37Z M474.2,86.61 L475.08,87.51 L476.23,88.71 L476.86,90.21 L477.75,89.91 L478.26,91.42 L479.65,91.87 L480.92,91.42 L481.56,91.57 L480.92,93.22 L480.8,93.82 L479.65,94.42 L479.53,95.32 L478.64,96.37 L477.5,97.42 L476.73,96.97 L477.12,95.92 L476.61,94.72 L475.59,93.97 L476.61,93.22 L476.73,92.02 L476.48,90.51 L475.72,89.61 L474.58,87.96Z M388.54,45.15 L389.55,43.8 L390.82,43.88 L392.47,44.4 L393.36,45.15 L395.26,45.3 L396.15,44.85 L397.17,45.3 L397.93,45.3 L398.44,46.36 L400.21,46.51 L400.34,47.56 L399.07,47.56 L397.17,47.41 L395.26,47.11 L393.36,46.51 L391.84,46.51 L390.06,46.05 L388.92,45.3Z M398.06,45.3 L399.83,45.38 L399.83,45.75 L398.06,45.75Z M400.21,47.11 L401.1,47.11 L401.86,47.56 L401.23,48.16 L400.47,47.56Z M402.24,47.41 L403.13,47.41 L402.88,48.31 L402.24,48.16Z M403.26,47.71 L404.15,47.26 L405.04,47.41 L406.18,47.56 L406.05,48.16 L404.78,48.31 L403.51,48.46 L403.26,48.01Z M407.07,47.71 L407.95,47.41 L409.22,47.71 L410.49,47.41 L411.13,47.26 L410.87,47.86 L409.86,48.16 L408.59,48.31 L407.32,48.16Z M406.05,49.06 L407.32,49.06 L408.34,49.96 L407.57,50.41 L406.3,49.66Z M411.76,50.41 L412.78,49.21 L413.92,48.46 L414.93,47.71 L416.46,47.56 L416.2,48.01 L414.93,48.76 L413.67,49.36 L412.65,50.26 L411.89,50.71Z M414.68,46.36 L415.95,46.36 L415.95,46.81 L414.81,46.81Z M421.28,45.75 L422.17,45.45 L421.91,46.96 L421.28,47.26Z M425.21,43.05 L426.1,43.35 L425.97,45 L425.21,44.85Z M417.47,39.75 L418.74,39.15 L420.01,39.3 L421.03,40.05 L420.01,40.2 L418.74,40.05 L417.73,40.2Z M414.93,39.6 L416.46,39.9 L416.2,40.65 L415.06,40.5Z M416.84,31.64 L417.47,32.69 L418.36,32.99 L417.47,33.59 L418.49,34.19 L417.47,34.49 L418.11,35.69 L417.22,35.99 L416.96,34.19 L416.58,33.44Z M408.34,32.99 L409.86,33.44 L411.76,33.59 L413.03,33.44 L413.92,32.54 L413.41,34.19 L411.76,34.34 L409.86,34.19 L408.59,34.19 L408.08,35.69 L409.22,36.29 L410.49,36.14 L411.63,36.29 L410.62,36.89 L409.48,37.34 L408.97,37.94 L409.6,38.85 L410.49,39.75 L411.38,41.4 L410.75,42 L409.86,42.15 L409.22,41.25 L408.59,39.45 L408.08,39.45 L407.83,40.95 L407.95,43.35 L406.69,43.35 L406.56,41.7 L405.92,40.2 L406.43,39 L406.56,37.19 L407.07,35.69 L407.32,34.19Z M393.36,32.24 L394.12,31.94 L394.63,32.39 L395.9,32.84 L396.53,31.19 L397.8,30.43 L398.44,30.13 L399.71,28.03 L400.98,27.43 L402.24,25.93 L403.51,24.43 L404.15,25.18 L404.78,25.93 L406.3,27.13 L405.16,27.73 L404.27,28.63 L404.53,30.43 L404.78,31.49 L405.92,33.29 L404.78,33.59 L404.15,34.94 L404.15,36.44 L403.01,37.19 L402.88,38.7 L402.62,40.05 L402.24,40.8 L400.98,40.8 L400.47,40.35 L399.71,40.05 L398.44,39.75 L397.17,40.05 L396.79,39.45 L395.9,39.45 L395.01,39.3 L394.76,37.79 L394,36.74 L393.36,35.39 L393.36,34.19Z M375.98,26.53 L378.77,27.13 L379.78,28.78 L381.31,30.13 L382.57,31.64 L383.59,31.94 L384.48,32.54 L385.75,33.44 L386.76,34.49 L386.76,36.14 L387.52,36.74 L388.16,38.39 L389.3,39.45 L389.43,40.95 L389.43,43.65 L388.54,43.65 L387.78,43.8 L387.02,42.75 L385.75,41.55 L384.86,40.5 L383.46,38.85 L382.83,37.19 L382.32,35.84 L381.56,34.64 L380.67,33.44 L380.29,32.39 L379.02,31.19 L377.5,29.38 L376.23,27.73Z M388.54,37.34 L389.55,37.19 L390.57,38.85 L390.19,39.45 L389.3,38.54Z M391.58,38.85 L392.47,39 L392.35,39.75 L391.58,39.6Z M409.86,24.43 L410.49,22.92 L411.76,22.02 L413.03,22.17 L414.3,20.67 L415.19,21.42 L415.57,23.67 L415.19,25.48 L414.17,26.53 L413.67,25.18 L412.4,25.18 L411.76,23.52 L410.87,23.83Z M457.57,48.76 L459.1,49.06 L458.97,49.81 L457.7,49.51Z M459.73,50.26 L461.13,50.86 L460.87,51.16 L459.86,50.71Z M466.46,56.87 L467.22,57.47 L467.09,58.37 L466.58,58.07Z M467.22,58.82 L467.98,59.27 L467.85,59.87 L467.34,59.57Z M407.7,14.66 L409.22,14.96 L408.84,16.62 L407.95,16.16Z M410.49,18.42 L411.76,18.72 L411.38,21.27 L410.37,20.22Z M412.14,18.12 L412.52,18.42 L411.63,20.52 L411.51,19.92Z M412.78,17.67 L413.67,17.97 L413.92,19.77 L413.28,19.92 L412.9,18.72Z M412.78,16.16 L414.55,16.47 L414.3,18.27 L413.16,17.97Z M412.02,19.77 L413.16,19.92 L412.9,20.52 L412.14,20.52Z M409.73,17.07 L411.25,17.67 L410.49,19.17 L409.86,18.87Z M407.32,7.15 L408.08,7 L410.11,7.15 L409.86,9.41 L409.22,11.21 L409.86,13.91 L412.65,15.41 L411.76,16.01 L409.22,14.36 L408.08,13.61 L407.32,12.71 L407.32,10.61 L407.7,9.41Z M403.77,22.47 L407.07,17.67 L406.69,17.52 L403.51,22.02Z M356.31,20.22 L356.94,20.22 L358.21,22.17 L358.97,24.43 L358.59,25.33 L357.32,26.08 L356.56,25.18 L356.31,22.92Z M392.85,6.1 L394.63,4.75 L395.9,5.5 L394.63,7.6 L393.36,7.3Z M317.6,52.96 L318.74,56.72 L319,58.22 L318.24,60.47 L317.6,62.73 L316.59,65.73 L315.7,68.73 L314.81,72.19 L312.78,73.24 L310.88,72.49 L310.24,70.24 L310.37,67.98 L311.26,65.73 L311.38,63.48 L310.88,61.23 L311.51,59.27 L313.41,58.52 L315.32,57.17 L315.95,55.22Z M303.26,4.15 L305.17,4.9 L306.43,7.15 L307.7,9.41 L309.1,11.66 L309.99,15.86 L312.15,15.71 L315.95,13.91 L318.49,12.41 L321.28,11.51 L323.57,9.56 L325.47,8.05 L327.37,6.55 L328.39,5.2 L329.28,4.3 L330.93,1.15 L331.18,-10.12 L303.26,-10.12Z M293.11,4.9 L302.25,4.9 L303.9,7.9 L305.17,11.66 L307.07,13.91 L309.99,16.32 L310.88,19.17 L312.15,19.32 L314.68,18.27 L317.22,17.97 L320.01,17.22 L319.76,19.17 L319.12,21.42 L317.86,24.43 L315.95,27.43 L314.05,30.43 L311.51,32.69 L308.97,35.69 L307.07,37.94 L305.8,39.45 L304.91,42 L304.53,44.7 L305.17,46.96 L305.8,50.71 L306.43,53.71 L306.56,56.72 L305.8,58.97 L301.99,61.23 L300.09,64.98 L300.09,67.98 L300.09,70.99 L296.92,73.24 L296.66,74.74 L296.28,77.75 L293.11,81.5 L286.76,86.01 L280.42,87.51 L280.42,4.9Z M338.79,-3.36 L341.97,0.39 L343.87,3.4 L347.42,4.15 L347.42,6.4 L348.31,10.91 L349.58,14.66 L350.85,17.67 L351.86,20.67 L353.39,22.77 L354.28,21.57 L355.67,19.47 L356.31,17.67 L356.94,14.66 L356.81,11.66 L358.46,10.31 L359.48,9.41 L361.64,7.45 L363.54,5.35 L365.44,2.65 L367.35,1.9 L369.25,1.9 L371.15,1.15 L372.17,3.7 L373.06,5.65 L374.71,7.9 L374.96,10.91 L376.23,11.21 L378.77,10.16 L379.02,13.91 L380.04,16.92 L380.42,19.92 L379.78,22.17 L382.32,25.18 L382.45,26.68 L383.21,29.68 L384.48,31.19 L386.38,32.84 L387.27,32.84 L386.38,30.43 L386.25,28.18 L385.11,25.93 L383.59,24.58 L382.45,23.67 L381.94,22.17 L380.92,19.92 L381.31,16.92 L381.94,14.66 L383.21,15.86 L385.11,16.92 L385.75,18.42 L388.03,22.02 L388.29,20.67 L390.19,19.92 L391.46,19.17 L393.36,17.67 L393.74,15.41 L393.36,12.41 L391.46,10.16 L390.19,7.9 L389.17,6.4 L390.19,4.45 L392.09,2.65 L394.63,3.4 L400.98,0.39 L407.32,-10.12 L338.79,-10.12Z M576.73,-0.36 L577.75,4.15 L578.25,4.9 L579.52,6.25 L582.44,7.9 L584.98,9.41 L587.52,10.61 L590.06,11.36 L591.96,10.61 L593.86,11.66 L595.13,13.16 L596.4,14.06 L598.3,14.66 L600.21,15.11 L600.84,15.56 L602.11,16.92 L602.75,17.97 L603.13,18.72 L603,19.92 L604.01,20.22 L605.28,21.42 L606.55,22.62 L607.82,22.62 L609.09,23.52 L610.36,23.83 L610.11,22.47 L610.99,21.57 L612.9,22.32 L613.66,22.92 L613.53,24.88 L613.79,26.68 L613.79,28.93 L612.9,31.03 L611.76,32.69 L610.36,33.74 L609.85,35.69 L609.22,37.19 L610.11,39.45 L608.84,41.4 L608.84,43.95 L610.74,46.2 L612.14,48.46 L613.53,51.46 L615.18,55.22 L616.7,58.22 L619.88,60.17 L621.4,61.68 L622.67,62.58 L622.92,64.98 L622.8,67.98 L622.42,70.24 L622.29,73.24 L621.53,77 L621.15,80 L621.02,83 L620.77,86.01 L620.13,88.26 L618.99,90.51 L618.61,92.77 L618.86,95.02 L618.48,98.02 L648.43,98.02 L648.43,80 L661.12,64.98 L667.46,42.45 L648.43,34.94 L635.74,22.17 L634.47,19.62 L633.2,19.02 L630.66,19.02 L628.13,19.17 L625.59,19.02 L623.05,17.67 L621.15,18.42 L620.51,17.22 L617.97,18.12 L616.07,19.17 L615.44,20.67 L614.17,22.02 L612.9,21.12 L610.99,20.67 L608.46,21.42 L606.55,19.92 L605.79,18.42 L606.17,13.91 L605.28,12.41 L602.75,10.91 L599.57,10.91 L600.21,7.9 L600.84,2.65 L597.04,3.1 L596.4,6.4 L591.96,7.6 L590.06,5.65 L588.15,1.9 L587.52,-4.11 L572.29,-4.11Z M604.01,2.2 L606.55,0.69 L610.36,0.24 L614.17,2.2 L617.72,4.6 L616.7,5.05 L613.28,5.2 L612.26,2.65 L609.09,2.35 L606.55,2.05Z M617.47,5.2 L620.51,5.05 L623.05,5.35 L625.08,7 L624.57,7.6 L621.4,8.35 L619.88,7.75 L617.47,7.45Z M612.39,7.3 L615.06,7.6 L614.93,8.05 L612.52,7.6Z M626.48,7.15 L628.63,7.3 L628.51,7.9 L626.6,7.9Z M480.03,61.23 L481.56,61.07 L481.68,62.13 L480.16,62.28Z M481.94,59.72 L483.46,59.27 L483.46,60.17 L482.06,60.32Z" fill="#fff" stroke="#111" stroke-width="0.55" stroke-linejoin="round"/>
<path d="M331.18,4.9V95 M369.25,4.9V95 M407.32,4.9V95 M445.39,4.9V95 M483.46,4.9V95 M521.53,4.9V95 M559.6,4.9V95 M597.67,4.9V95 M305.8,19.92H635.8 M305.8,34.94H635.8 M305.8,49.96H635.8 M305.8,64.98H635.8 M305.8,80H635.8" stroke="#999" stroke-width="0.45" stroke-dasharray="0.7,1.5" fill="none"/>
</g>
<rect x="305.8" y="4.9" width="330" height="90.1" fill="none" stroke="#222" stroke-width="1.0"/>
<path d="M302.8,4.9H305.8" stroke="#222" stroke-width="0.5"/>
<text x="287" y="6.9" font-size="5.6">20N</text>
<path d="M302.8,12.41H305.8" stroke="#222" stroke-width="0.5"/>
<path d="M302.8,19.92H305.8" stroke="#222" stroke-width="0.5"/>
<text x="287" y="21.92" font-size="5.6">10N</text>
<path d="M302.8,27.43H305.8" stroke="#222" stroke-width="0.5"/>
<path d="M302.8,34.94H305.8" stroke="#222" stroke-width="0.5"/>
<text x="287" y="36.94" font-size="5.6">0</text>
<path d="M302.8,42.45H305.8" stroke="#222" stroke-width="0.5"/>
<path d="M302.8,49.96H305.8" stroke="#222" stroke-width="0.5"/>
<text x="287" y="51.96" font-size="5.6">10S</text>
<path d="M302.8,57.47H305.8" stroke="#222" stroke-width="0.5"/>
<path d="M302.8,64.98H305.8" stroke="#222" stroke-width="0.5"/>
<text x="287" y="66.98" font-size="5.6">20S</text>
<path d="M302.8,72.49H305.8" stroke="#222" stroke-width="0.5"/>
<path d="M302.8,80H305.8" stroke="#222" stroke-width="0.5"/>
<text x="287" y="82" font-size="5.6">30S</text>
<path d="M302.8,87.51H305.8" stroke="#222" stroke-width="0.5"/>
<path d="M302.8,95.02H305.8" stroke="#222" stroke-width="0.5"/>
<text x="287" y="97.02" font-size="5.6">40S</text>
<path d="M331.18,95V96.6" stroke="#222" stroke-width="0.45"/>
<text x="331.18" y="107.1" text-anchor="middle" font-size="5.6">60E</text>
<path d="M369.25,95V96.6" stroke="#222" stroke-width="0.45"/>
<text x="369.25" y="107.1" text-anchor="middle" font-size="5.6">90E</text>
<path d="M407.32,95V96.6" stroke="#222" stroke-width="0.45"/>
<text x="407.32" y="107.1" text-anchor="middle" font-size="5.6">120E</text>
<path d="M445.39,95V96.6" stroke="#222" stroke-width="0.45"/>
<text x="445.39" y="107.1" text-anchor="middle" font-size="5.6">150E</text>
<path d="M483.46,95V96.6" stroke="#222" stroke-width="0.45"/>
<text x="483.46" y="107.1" text-anchor="middle" font-size="5.6">180</text>
<path d="M521.53,95V96.6" stroke="#222" stroke-width="0.45"/>
<text x="521.53" y="107.1" text-anchor="middle" font-size="5.6">150W</text>
<path d="M559.6,95V96.6" stroke="#222" stroke-width="0.45"/>
<text x="559.6" y="107.1" text-anchor="middle" font-size="5.6">120W</text>
<path d="M597.67,95V96.6" stroke="#222" stroke-width="0.45"/>
<text x="597.67" y="107.1" text-anchor="middle" font-size="5.6">90W</text>
<path d="M635.74,95V96.6" stroke="#222" stroke-width="0.45"/>
<text x="635.74" y="107.1" text-anchor="middle" font-size="5.6">60W</text>
<text x="641.4" y="93.7" font-size="12" fill="#111">c</text>
<path d="M382.7,112.4L399.4,110.4V114.4Z" fill="#313695" stroke="#333" stroke-width="0.3"/>
<rect x="399.4" y="110.4" width="16.27" height="4" fill="#4575b4" stroke="#333" stroke-width="0.3"/>
<rect x="415.67" y="110.4" width="16.27" height="4" fill="#74c8e3" stroke="#333" stroke-width="0.3"/>
<rect x="431.94" y="110.4" width="16.27" height="4" fill="#abd9e9" stroke="#333" stroke-width="0.3"/>
<rect x="448.21" y="110.4" width="16.27" height="4" fill="#e0f3f8" stroke="#333" stroke-width="0.3"/>
<rect x="464.48" y="110.4" width="16.27" height="4" fill="#ffffff" stroke="#333" stroke-width="0.3"/>
<rect x="480.75" y="110.4" width="16.27" height="4" fill="#fee090" stroke="#333" stroke-width="0.3"/>
<rect x="497.02" y="110.4" width="16.27" height="4" fill="#fdae61" stroke="#333" stroke-width="0.3"/>
<rect x="513.29" y="110.4" width="16.27" height="4" fill="#f46d43" stroke="#333" stroke-width="0.3"/>
<rect x="529.56" y="110.4" width="16.27" height="4" fill="#d73027" stroke="#333" stroke-width="0.3"/>
<path d="M545.83,110.4L563.1,112.4L545.83,114.4Z" fill="#a50026" stroke="#333" stroke-width="0.3"/>
<text x="399.4" y="118.3" text-anchor="middle" font-size="3.8" font-weight="bold">−2</text>
<text x="415.67" y="118.3" text-anchor="middle" font-size="3.8" font-weight="bold">−1.6</text>
<text x="431.94" y="118.3" text-anchor="middle" font-size="3.8" font-weight="bold">−1.2</text>
<text x="448.21" y="118.3" text-anchor="middle" font-size="3.8" font-weight="bold">−0.8</text>
<text x="464.48" y="118.3" text-anchor="middle" font-size="3.8" font-weight="bold">−0.4</text>
<text x="480.75" y="118.3" text-anchor="middle" font-size="3.8" font-weight="bold">0.4</text>
<text x="497.02" y="118.3" text-anchor="middle" font-size="3.8" font-weight="bold">0.8</text>
<text x="513.29" y="118.3" text-anchor="middle" font-size="3.8" font-weight="bold">1.2</text>
<text x="529.56" y="118.3" text-anchor="middle" font-size="3.8" font-weight="bold">1.6</text>
<text x="545.83" y="118.3" text-anchor="middle" font-size="3.8" font-weight="bold">2</text>
<rect x="293.8" y="126.2" width="382" height="71.6" fill="none" stroke="#c8c8c8" stroke-width="0.7"/>
<path d="M299.1,197.8v-1.1M304.22,197.8v-1.1M309.34,197.8v-1.1M314.46,197.8v-1.1M319.58,197.8v-1.1M324.7,197.8v-1.1M329.82,197.8v-1.1M334.94,197.8v-1.1M340.06,197.8v-1.1M345.18,197.8v-1.1M350.3,197.8v-1.1M355.42,197.8v-1.1M360.54,197.8v-1.1M365.66,197.8v-1.1M370.78,197.8v-1.1M375.9,197.8v-1.1M381.02,197.8v-1.1M386.14,197.8v-1.1M391.26,197.8v-1.1M396.38,197.8v-1.1M401.5,197.8v-1.1M406.62,197.8v-1.1M411.74,197.8v-1.1M416.86,197.8v-1.1M421.98,197.8v-1.1M427.1,197.8v-1.1M432.22,197.8v-1.1M437.34,197.8v-1.1M442.46,197.8v-1.1M447.58,197.8v-1.1M452.7,197.8v-1.1M457.82,197.8v-1.1M462.94,197.8v-1.1M468.06,197.8v-1.1M473.18,197.8v-1.1M478.3,197.8v-1.1M483.42,197.8v-1.1M488.54,197.8v-1.1M493.66,197.8v-1.1M498.78,197.8v-1.1M503.9,197.8v-1.1M509.02,197.8v-1.1M514.14,197.8v-1.1M519.26,197.8v-1.1M524.38,197.8v-1.1M529.5,197.8v-1.1M534.62,197.8v-1.1M539.74,197.8v-1.1M544.86,197.8v-1.1M549.98,197.8v-1.1M555.1,197.8v-1.1M560.22,197.8v-1.1M565.34,197.8v-1.1M570.46,197.8v-1.1M575.58,197.8v-1.1M580.7,197.8v-1.1M585.82,197.8v-1.1M590.94,197.8v-1.1M596.06,197.8v-1.1M601.18,197.8v-1.1M606.3,197.8v-1.1M611.42,197.8v-1.1M616.54,197.8v-1.1M621.66,197.8v-1.1M626.78,197.8v-1.1M631.9,197.8v-1.1M637.02,197.8v-1.1M642.14,197.8v-1.1M647.26,197.8v-1.1M652.38,197.8v-1.1M657.5,197.8v-1.1M662.62,197.8v-1.1M667.74,197.8v-1.1M672.86,197.8v-1.1" stroke="#c8c8c8" stroke-width="0.5"/>
<path d="M293.9,156.1 L294.4,163.6 L294.9,169.2 L295.4,172.8 L296.0,174.9 L296.5,176.7 L297.0,178.6 L297.5,179.9 L298.0,179.0 L298.5,174.9 L299.1,169.6 L299.6,164.3 L300.1,160.7 L300.6,160.0 L301.1,160.7 L301.6,162.6 L302.2,165.6 L302.7,169.3 L303.2,172.6 L303.7,174.7 L304.2,175.0 L304.7,173.4 L305.3,170.3 L305.8,165.9 L306.3,161.2 L306.8,157.6 L307.3,155.7 L307.8,155.8 L308.3,159.3 L308.9,165.3 L309.4,171.4 L309.9,175.9 L310.4,177.8 L310.9,176.1 L311.4,170.2 L312.0,161.9 L312.5,153.9 L313.0,150.3 L313.5,154.9 L314.0,163.8 L314.5,169.7 L315.1,166.9 L315.6,157.8 L316.1,148.2 L316.6,143.4 L317.1,151.7 L317.6,167.9 L318.2,172.2 L318.7,165.4 L319.2,157.7 L319.7,155.9 L320.2,158.3 L320.7,162.9 L321.2,169.1 L321.8,175.4 L322.3,180.3 L322.8,182.1 L323.3,179.8 L323.8,174.1 L324.3,166.3 L324.9,158.6 L325.4,152.8 L325.9,149.8 L326.4,149.9 L326.9,152.0 L327.4,155.0 L328.0,158.6 L328.5,162.7 L329.0,166.3 L329.5,168.3 L330.0,168.3 L330.5,166.1 L331.1,162.3 L331.6,158.3 L332.1,155.3 L332.6,155.0 L333.1,159.3 L333.6,166.3 L334.1,172.8 L334.7,175.5 L335.2,172.0 L335.7,165.3 L336.2,159.5 L336.7,158.2 L337.2,160.0 L337.8,163.6 L338.3,168.2 L338.8,173.2 L339.3,177.8 L339.8,181.2 L340.3,182.5 L340.9,181.2 L341.4,176.6 L341.9,169.7 L342.4,162.1 L342.9,155.7 L343.4,151.9 L344.0,151.6 L344.5,154.6 L345.0,160.0 L345.5,166.6 L346.0,173.2 L346.5,178.1 L347.0,180.2 L347.6,179.0 L348.1,175.1 L348.6,170.0 L349.1,164.6 L349.6,159.9 L350.1,156.7 L350.7,156.4 L351.2,157.8 L351.7,160.2 L352.2,163.6 L352.7,167.9 L353.2,172.3 L353.8,175.8 L354.3,177.1 L354.8,172.4 L355.3,164.1 L355.8,158.1 L356.3,158.6 L356.9,162.2 L357.4,167.0 L357.9,171.5 L358.4,174.9 L358.9,176.7 L359.4,176.7 L359.9,175.0 L360.5,171.5 L361.0,167.1 L361.5,162.8 L362.0,159.3 L362.5,157.7 L363.0,159.3 L363.6,164.3 L364.1,172.1 L364.6,180.6 L365.1,187.1 L365.6,189.1 L366.1,185.1 L366.7,175.4 L367.2,164.5 L367.7,155.6 L368.2,150.6 L368.7,151.1 L369.2,154.9 L369.8,160.7 L370.3,166.6 L370.8,171.1 L371.3,173.1 L371.8,172.9 L372.3,170.5 L372.8,167.4 L373.4,164.1 L373.9,160.8 L374.4,158.1 L374.9,157.3 L375.4,158.6 L375.9,162.3 L376.5,168.3 L377.0,175.6 L377.5,181.8 L378.0,185.1 L378.5,184.6 L379.0,179.6 L379.6,171.8 L380.1,163.4 L380.6,156.3 L381.1,153.4 L381.6,154.0 L382.1,156.0 L382.7,158.7 L383.2,162.2 L383.7,166.5 L384.2,171.1 L384.7,173.8 L385.2,171.4 L385.7,163.7 L386.3,155.1 L386.8,149.4 L387.3,149.5 L387.8,153.8 L388.3,160.5 L388.8,166.9 L389.4,170.3 L389.9,169.2 L390.4,166.2 L390.9,163.5 L391.4,161.3 L391.9,158.3 L392.5,154.4 L393.0,151.1 L393.5,149.6 L394.0,150.6 L394.5,153.8 L395.0,158.0 L395.6,161.9 L396.1,164.1 L396.6,163.9 L397.1,161.8 L397.6,157.8 L398.1,152.4 L398.6,146.6 L399.2,142.2 L399.7,141.0 L400.2,144.8 L400.7,152.1 L401.2,161.3 L401.7,170.1 L402.3,176.1 L402.8,177.2 L403.3,174.5 L403.8,169.9 L404.3,164.4 L404.8,158.7 L405.4,153.1 L405.9,148.2 L406.4,145.5 L406.9,149.5 L407.4,159.6 L407.9,171.2 L408.5,179.4 L409.0,181.2 L409.5,181.0 L410.0,180.3 L410.5,177.8 L411.0,172.9 L411.5,166.5 L412.1,160.9 L412.6,158.2 L413.1,159.5 L413.6,165.8 L414.1,172.2 L414.6,174.3 L415.2,171.8 L415.7,168.8 L416.2,166.1 L416.7,163.4 L417.2,160.8 L417.7,158.6 L418.3,157.3 L418.8,158.4 L419.3,163.1 L419.8,169.3 L420.3,175.4 L420.8,180.5 L421.4,182.9 L421.9,181.6 L422.4,177.3 L422.9,172.2 L423.4,167.8 L423.9,164.1 L424.4,161.1 L425.0,160.1 L425.5,163.3 L426.0,169.1 L426.5,174.7 L427.0,178.1 L427.5,178.0 L428.1,175.9 L428.6,172.5 L429.1,168.3 L429.6,164.1 L430.1,160.6 L430.6,158.3 L431.2,157.6 L431.7,158.8 L432.2,161.4 L432.7,164.8 L433.2,168.8 L433.7,172.7 L434.3,175.3 L434.8,174.7 L435.3,170.5 L435.8,164.1 L436.3,158.3 L436.8,155.7 L437.3,157.6 L437.9,163.5 L438.4,170.7 L438.9,177.8 L439.4,182.9 L439.9,183.5 L440.4,180.9 L441.0,176.7 L441.5,171.8 L442.0,166.2 L442.5,160.6 L443.0,155.9 L443.5,152.9 L444.1,151.8 L444.6,155.9 L445.1,164.5 L445.6,174.0 L446.1,180.0 L446.6,179.4 L447.2,175.7 L447.7,170.9 L448.2,166.1 L448.7,161.3 L449.2,156.8 L449.7,153.9 L450.2,153.9 L450.8,157.2 L451.3,163.1 L451.8,170.3 L452.3,176.6 L452.8,179.6 L453.3,178.9 L453.9,175.6 L454.4,170.8 L454.9,165.4 L455.4,160.0 L455.9,155.5 L456.4,153.0 L457.0,155.2 L457.5,162.1 L458.0,170.3 L458.5,176.7 L459.0,178.7 L459.5,177.9 L460.1,175.2 L460.6,171.0 L461.1,165.2 L461.6,158.6 L462.1,153.1 L462.6,150.9 L463.1,154.3 L463.7,161.9 L464.2,170.4 L464.7,176.6 L465.2,178.8 L465.7,176.8 L466.2,173.3 L466.8,169.3 L467.3,165.6 L467.8,162.4 L468.3,159.5 L468.8,157.3 L469.3,159.2 L469.9,166.7 L470.4,176.2 L470.9,183.3 L471.4,184.3 L471.9,180.4 L472.4,174.5 L473.0,168.3 L473.5,162.4 L474.0,157.4 L474.5,153.7 L475.0,152.3 L475.5,155.4 L476.0,162.2 L476.6,169.5 L477.1,174.3 L477.6,174.2 L478.1,170.8 L478.6,165.9 L479.1,160.8 L479.7,156.1 L480.2,151.7 L480.7,148.6 L481.2,147.7 L481.7,151.5 L482.2,158.8 L482.8,166.7 L483.3,173.0 L483.8,175.4 L484.3,174.3 L484.8,171.2 L485.3,167.4 L485.9,164.0 L486.4,162.1 L486.9,162.4 L487.4,164.0 L487.9,166.3 L488.4,169.4 L488.9,173.1 L489.5,176.3 L490.0,177.9 L490.5,176.6 L491.0,171.3 L491.5,164.2 L492.0,157.8 L492.6,153.7 L493.1,153.1 L493.6,155.0 L494.1,157.6 L494.6,160.8 L495.1,164.7 L495.7,168.7 L496.2,171.6 L496.7,171.8 L497.2,168.9 L497.7,164.2 L498.2,159.3 L498.8,155.5 L499.3,154.4 L499.8,157.0 L500.3,162.5 L500.8,169.2 L501.3,175.6 L501.8,179.9 L502.4,180.9 L502.9,177.8 L503.4,171.9 L503.9,164.6 L504.4,157.9 L504.9,154.1 L505.5,155.1 L506.0,160.5 L506.5,168.2 L507.0,175.8 L507.5,181.2 L508.0,182.6 L508.6,180.9 L509.1,177.1 L509.6,171.9 L510.1,166.1 L510.6,160.6 L511.1,156.4 L511.7,154.9 L512.2,158.0 L512.7,164.9 L513.2,173.4 L513.7,180.7 L514.2,184.1 L514.7,182.6 L515.3,178.6 L515.8,173.3 L516.3,167.4 L516.8,161.7 L517.3,157.2 L517.8,154.8 L518.4,155.4 L518.9,159.7 L519.4,165.8 L519.9,171.6 L520.4,174.7 L520.9,173.8 L521.5,170.3 L522.0,165.1 L522.5,159.3 L523.0,154.3 L523.5,151.9 L524.0,153.1 L524.6,156.5 L525.1,160.9 L525.6,165.4 L526.1,169.2 L526.6,171.8 L527.1,171.6 L527.6,167.9 L528.2,162.0 L528.7,155.8 L529.2,150.8 L529.7,148.6 L530.2,150.6 L530.7,156.2 L531.3,163.3 L531.8,170.2 L532.3,175.5 L532.8,178.2 L533.3,177.7 L533.8,175.1 L534.4,170.8 L534.9,165.3 L535.4,159.1 L535.9,153.5 L536.4,150.3 L536.9,150.8 L537.5,154.9 L538.0,160.5 L538.5,165.3 L539.0,167.3 L539.5,166.2 L540.0,163.7 L540.5,160.5 L541.1,156.8 L541.6,152.6 L542.1,148.4 L542.6,145.1 L543.1,143.6 L543.6,147.2 L544.2,155.3 L544.7,163.9 L545.2,169.1 L545.7,168.7 L546.2,165.4 L546.7,159.9 L547.3,153.1 L547.8,146.3 L548.3,140.7 L548.8,137.3 L549.3,137.4 L549.8,142.3 L550.4,149.7 L550.9,157.1 L551.4,161.5 L551.9,161.4 L552.4,158.1 L552.9,152.5 L553.4,146.2 L554.0,141.4 L554.5,139.0 L555.0,138.5 L555.5,140.4 L556.0,146.1 L556.5,153.9 L557.1,162.1 L557.6,168.3 L558.1,170.0 L558.6,167.5 L559.1,162.5 L559.6,156.5 L560.2,151.5 L560.7,149.3 L561.2,150.6 L561.7,153.9 L562.2,158.5 L562.7,163.9 L563.3,169.6 L563.8,174.1 L564.3,176.5 L564.8,175.6 L565.3,171.3 L565.8,165.3 L566.3,159.3 L566.9,154.7 L567.4,153.2 L567.9,154.1 L568.4,156.8 L568.9,160.7 L569.4,164.8 L570.0,168.5 L570.5,170.9 L571.0,171.0 L571.5,167.6 L572.0,162.0 L572.5,156.2 L573.1,151.8 L573.6,149.9 L574.1,151.4 L574.6,155.6 L575.1,161.4 L575.6,167.5 L576.2,173.0 L576.7,176.4 L577.2,176.6 L577.7,174.0 L578.2,169.9 L578.7,165.2 L579.2,160.6 L579.8,157.0 L580.3,155.3 L580.8,155.9 L581.3,158.3 L581.8,161.8 L582.3,165.8 L582.9,169.3 L583.4,171.1 L583.9,169.3 L584.4,163.7 L584.9,156.4 L585.4,149.3 L586.0,144.5 L586.5,144.4 L587.0,149.6 L587.5,157.6 L588.0,166.2 L588.5,172.9 L589.1,175.2 L589.6,173.5 L590.1,169.8 L590.6,165.5 L591.1,161.2 L591.6,157.1 L592.1,154.1 L592.7,153.9 L593.2,158.6 L593.7,165.6 L594.2,172.0 L594.7,174.3 L595.2,172.6 L595.8,167.9 L596.3,161.1 L596.8,153.9 L597.3,147.4 L597.8,142.3 L598.3,139.1 L598.9,139.1 L599.4,144.7 L599.9,153.2 L600.4,161.7 L600.9,167.0 L601.4,166.8 L602.0,163.0 L602.5,156.9 L603.0,150.2 L603.5,144.4 L604.0,140.7 L604.5,140.3 L605.0,145.9 L605.6,155.1 L606.1,164.1 L606.6,168.1 L607.1,166.9 L607.6,164.2 L608.1,160.9 L608.7,157.4 L609.2,154.3 L609.7,151.9 L610.2,150.7 L610.7,151.2 L611.2,153.1 L611.8,155.9 L612.3,158.7 L612.8,160.5 L613.3,160.6 L613.8,157.3 L614.3,151.5 L614.9,144.7 L615.4,138.1 L615.9,133.1 L616.4,130.9 L616.9,133.0 L617.4,138.7 L617.9,146.6 L618.5,155.4 L619.0,163.1 L619.5,166.7 L620.0,164.9 L620.5,159.8 L621.0,153.5 L621.6,146.9 L622.1,140.7 L622.6,135.9 L623.1,133.3 L623.6,136.0 L624.1,148.3 L624.7,162.5 L625.2,169.2 L625.7,167.9 L626.2,164.5 L626.7,160.0 L627.2,155.2 L627.8,150.5 L628.3,147.0 L628.8,144.8 L629.3,144.0 L629.8,145.8 L630.3,151.2 L630.8,157.7 L631.4,162.4 L631.9,162.9 L632.4,160.1 L632.9,155.5 L633.4,149.7 L633.9,143.7 L634.5,139.0 L635.0,136.9 L635.5,139.0 L636.0,144.6 L636.5,151.7 L637.0,159.0 L637.6,165.1 L638.1,168.2 L638.6,166.7 L639.1,161.7 L639.6,155.2 L640.1,148.8 L640.7,144.5 L641.2,144.7 L641.7,149.4 L642.2,156.8 L642.7,164.8 L643.2,171.7 L643.7,176.5 L644.3,178.4 L644.8,176.7 L645.3,172.3 L645.8,166.0 L646.3,159.4 L646.8,154.3 L647.4,152.3 L647.9,153.7 L648.4,156.8 L648.9,160.2 L649.4,163.3 L649.9,165.4 L650.5,165.1 L651.0,161.8 L651.5,156.5 L652.0,150.5 L652.5,145.2 L653.0,141.6 L653.6,140.7 L654.1,143.0 L654.6,147.4 L655.1,152.4 L655.6,156.8 L656.1,160.2 L656.6,161.8 L657.2,160.4 L657.7,156.2 L658.2,150.8 L658.7,145.5 L659.2,141.3 L659.7,139.2 L660.3,140.2 L660.8,144.0 L661.3,149.6 L661.8,155.7 L662.3,161.2 L662.8,164.9 L663.4,165.8 L663.9,163.6 L664.4,159.4 L664.9,154.4 L665.4,150.1 L665.9,147.7 L666.5,148.6 L667.0,152.9 L667.5,159.7 L668.0,166.8 L668.5,172.2 L669.0,174.2 L669.5,172.5 L670.1,168.2 L670.6,162.7 L671.1,156.9 L671.6,151.5 L672.1,147.8 L672.6,147.1 L673.2,147.6 L673.7,148.4 L674.2,149.2 L674.7,150.4 L675.2,153.1" fill="none" stroke="#262626" stroke-width="0.72" stroke-linejoin="round"/>
<path d="M293.9,158.5 L294.4,156.6 L294.9,154.9 L295.4,156.2 L296.0,160.9 L296.5,166.7 L297.0,170.9 L297.5,171.6 L298.0,170.6 L298.5,168.6 L299.1,165.2 L299.6,160.8 L300.1,156.6 L300.6,154.0 L301.1,154.1 L301.6,158.7 L302.2,166.0 L302.7,173.6 L303.2,178.9 L303.7,179.8 L304.2,176.8 L304.7,171.1 L305.3,164.4 L305.8,158.8 L306.3,155.7 L306.8,155.5 L307.3,158.4 L307.8,163.3 L308.3,168.8 L308.9,174.4 L309.4,178.8 L309.9,179.7 L310.4,177.3 L310.9,172.0 L311.4,164.4 L312.0,156.9 L312.5,151.3 L313.0,148.4 L313.5,147.1 L314.0,147.3 L314.5,151.5 L315.1,158.7 L315.6,165.7 L316.1,169.2 L316.6,168.7 L317.1,166.3 L317.6,162.1 L318.2,156.3 L318.7,150.1 L319.2,144.9 L319.7,142.3 L320.2,143.6 L320.7,148.6 L321.2,155.4 L321.8,161.8 L322.3,166.3 L322.8,167.1 L323.3,164.7 L323.8,160.3 L324.3,154.4 L324.9,147.5 L325.4,140.8 L325.9,136.4 L326.4,135.9 L326.9,139.5 L327.4,145.6 L328.0,152.9 L328.5,160.6 L329.0,167.4 L329.5,171.6 L330.0,172.3 L330.5,169.7 L331.1,165.1 L331.6,159.6 L332.1,154.7 L332.6,152.4 L333.1,155.6 L333.6,162.5 L334.1,170.2 L334.7,175.3 L335.2,176.4 L335.7,174.5 L336.2,170.2 L336.7,165.7 L337.2,162.3 L337.8,159.9 L338.3,158.0 L338.8,157.3 L339.3,159.8 L339.8,164.8 L340.3,169.4 L340.9,171.3 L341.4,170.4 L341.9,168.3 L342.4,165.3 L342.9,161.0 L343.4,155.8 L344.0,151.6 L344.5,149.7 L345.0,150.4 L345.5,154.5 L346.0,161.3 L346.5,169.0 L347.0,175.1 L347.6,177.7 L348.1,176.2 L348.6,172.0 L349.1,166.2 L349.6,160.0 L350.1,153.8 L350.7,148.5 L351.2,146.1 L351.7,150.6 L352.2,159.7 L352.7,168.8 L353.2,172.6 L353.8,170.7 L354.3,166.4 L354.8,161.3 L355.3,156.6 L355.8,152.4 L356.3,149.1 L356.9,147.9 L357.4,152.9 L357.9,165.6 L358.4,177.5 L358.9,180.9 L359.4,179.1 L359.9,176.4 L360.5,173.3 L361.0,169.8 L361.5,165.3 L362.0,159.9 L362.5,154.8 L363.0,151.2 L363.6,150.6 L364.1,158.7 L364.6,170.9 L365.1,179.1 L365.6,178.7 L366.1,175.4 L366.7,171.3 L367.2,167.6 L367.7,164.5 L368.2,160.9 L368.7,156.5 L369.2,152.7 L369.8,151.3 L370.3,155.1 L370.8,162.1 L371.3,169.2 L371.8,173.3 L372.3,173.8 L372.8,172.3 L373.4,169.5 L373.9,166.5 L374.4,163.6 L374.9,161.3 L375.4,159.9 L375.9,160.9 L376.5,164.3 L377.0,169.5 L377.5,176.0 L378.0,181.7 L378.5,183.2 L379.0,179.6 L379.6,172.0 L380.1,162.4 L380.6,153.1 L381.1,146.1 L381.6,142.9 L382.1,144.2 L382.7,150.0 L383.2,158.0 L383.7,165.4 L384.2,170.6 L384.7,172.7 L385.2,170.4 L385.7,164.1 L386.3,155.9 L386.8,148.3 L387.3,143.8 L387.8,144.3 L388.3,149.1 L388.8,156.1 L389.4,163.7 L389.9,169.6 L390.4,172.2 L390.9,171.0 L391.4,168.0 L391.9,164.0 L392.5,158.6 L393.0,152.5 L393.5,147.4 L394.0,145.1 L394.5,146.2 L395.0,149.7 L395.6,154.3 L396.1,158.7 L396.6,161.1 L397.1,161.4 L397.6,160.0 L398.1,157.7 L398.6,156.0 L399.2,155.5 L399.7,155.3 L400.2,155.6 L400.7,158.1 L401.2,162.7 L401.7,168.2 L402.3,172.4 L402.8,173.1 L403.3,171.0 L403.8,167.4 L404.3,163.4 L404.8,159.7 L405.4,156.9 L405.9,155.4 L406.4,156.0 L406.9,159.5 L407.4,164.7 L407.9,170.1 L408.5,174.8 L409.0,178.2 L409.5,178.5 L410.0,175.3 L410.5,169.3 L411.0,162.5 L411.5,156.9 L412.1,153.4 L412.6,152.3 L413.1,154.3 L413.6,158.7 L414.1,164.4 L414.6,170.5 L415.2,176.1 L415.7,179.5 L416.2,179.1 L416.7,174.9 L417.2,168.0 L417.7,161.1 L418.3,156.8 L418.8,156.9 L419.3,160.8 L419.8,166.4 L420.3,172.0 L420.8,176.2 L421.4,177.6 L421.9,176.8 L422.4,174.6 L422.9,171.6 L423.4,168.2 L423.9,164.9 L424.4,162.6 L425.0,162.3 L425.5,165.1 L426.0,169.7 L426.5,175.2 L427.0,180.7 L427.5,184.0 L428.1,182.9 L428.6,178.2 L429.1,171.5 L429.6,164.4 L430.1,158.4 L430.6,154.2 L431.2,152.1 L431.7,152.4 L432.2,155.3 L432.7,160.0 L433.2,165.0 L433.7,168.7 L434.3,169.9 L434.8,169.2 L435.3,167.3 L435.8,164.5 L436.3,160.9 L436.8,157.4 L437.3,154.9 L437.9,154.2 L438.4,156.9 L438.9,163.0 L439.4,170.2 L439.9,176.2 L440.4,178.7 L441.0,177.1 L441.5,172.5 L442.0,166.7 L442.5,160.4 L443.0,154.4 L443.5,149.8 L444.1,147.9 L444.6,151.4 L445.1,159.1 L445.6,167.2 L446.1,172.1 L446.6,171.5 L447.2,167.6 L447.7,161.5 L448.2,154.0 L448.7,146.8 L449.2,141.6 L449.7,140.4 L450.2,144.5 L450.8,152.3 L451.3,161.4 L451.8,170.0 L452.3,176.0 L452.8,177.0 L453.3,173.3 L453.9,167.6 L454.4,161.9 L454.9,157.1 L455.4,154.0 L455.9,153.2 L456.4,154.4 L457.0,156.3 L457.5,158.8 L458.0,162.5 L458.5,166.9 L459.0,170.6 L459.5,171.8 L460.1,169.9 L460.6,166.3 L461.1,162.1 L461.6,158.5 L462.1,156.9 L462.6,158.3 L463.1,162.0 L463.7,167.3 L464.2,173.4 L464.7,179.3 L465.2,183.4 L465.7,184.6 L466.2,181.4 L466.8,174.7 L467.3,166.6 L467.8,159.1 L468.3,154.0 L468.8,153.0 L469.3,154.6 L469.9,158.8 L470.4,165.0 L470.9,171.8 L471.4,177.2 L471.9,179.7 L472.4,178.7 L473.0,172.9 L473.5,164.4 L474.0,155.8 L474.5,149.4 L475.0,147.1 L475.5,149.5 L476.0,155.0 L476.6,162.1 L477.1,168.9 L477.6,172.7 L478.1,171.3 L478.6,165.6 L479.1,158.3 L479.7,151.8 L480.2,148.1 L480.7,147.5 L481.2,151.2 L481.7,157.4 L482.2,164.2 L482.8,169.5 L483.3,171.5 L483.8,170.2 L484.3,168.4 L484.8,166.7 L485.3,165.1 L485.9,163.1 L486.4,160.6 L486.9,158.4 L487.4,157.9 L487.9,160.3 L488.4,164.4 L488.9,168.9 L489.5,172.8 L490.0,175.3 L490.5,174.9 L491.0,170.9 L491.5,164.7 L492.0,158.5 L492.6,153.7 L493.1,151.3 L493.6,151.9 L494.1,154.8 L494.6,158.8 L495.1,163.4 L495.7,168.4 L496.2,172.6 L496.7,174.6 L497.2,172.4 L497.7,166.9 L498.2,160.1 L498.8,153.6 L499.3,149.1 L499.8,148.5 L500.3,151.6 L500.8,157.4 L501.3,164.8 L501.8,172.6 L502.4,179.4 L502.9,183.3 L503.4,182.8 L503.9,176.8 L504.4,168.3 L504.9,160.8 L505.5,156.7 L506.0,157.5 L506.5,161.2 L507.0,166.5 L507.5,172.6 L508.0,178.0 L508.6,181.2 L509.1,180.9 L509.6,177.8 L510.1,172.7 L510.6,166.3 L511.1,160.1 L511.7,156.0 L512.2,155.6 L512.7,158.2 L513.2,162.5 L513.7,167.3 L514.2,171.5 L514.7,174.1 L515.3,174.9 L515.8,173.1 L516.3,169.0 L516.8,163.8 L517.3,158.8 L517.8,155.6 L518.4,155.8 L518.9,158.6 L519.4,162.4 L519.9,165.9 L520.4,168.6 L520.9,169.6 L521.5,167.9 L522.0,163.5 L522.5,157.1 L523.0,150.2 L523.5,144.2 L524.0,139.9 L524.6,138.1 L525.1,141.1 L525.6,148.3 L526.1,157.4 L526.6,165.7 L527.1,170.6 L527.6,170.7 L528.2,168.3 L528.7,164.8 L529.2,161.3 L529.7,158.7 L530.2,157.4 L530.7,157.9 L531.3,161.2 L531.8,166.6 L532.3,173.2 L532.8,179.3 L533.3,183.8 L533.8,185.4 L534.4,181.5 L534.9,172.8 L535.4,162.2 L535.9,152.7 L536.4,147.4 L536.9,147.6 L537.5,150.6 L538.0,155.2 L538.5,160.6 L539.0,165.0 L539.5,166.1 L540.0,161.8 L540.5,154.3 L541.1,145.9 L541.6,138.8 L542.1,135.0 L542.6,136.3 L543.1,141.7 L543.6,149.7 L544.2,158.5 L544.7,165.6 L545.2,168.9 L545.7,167.5 L546.2,163.1 L546.7,157.3 L547.3,150.8 L547.8,144.5 L548.3,139.6 L548.8,137.9 L549.3,140.1 L549.8,145.0 L550.4,151.5 L550.9,158.4 L551.4,164.2 L551.9,167.6 L552.4,167.0 L552.9,163.1 L553.4,156.9 L554.0,150.0 L554.5,143.9 L555.0,140.5 L555.5,141.6 L556.0,147.6 L556.5,155.7 L557.1,163.5 L557.6,169.0 L558.1,170.4 L558.6,168.5 L559.1,164.4 L559.6,159.2 L560.2,154.0 L560.7,150.0 L561.2,148.2 L561.7,150.8 L562.2,158.6 L562.7,168.3 L563.3,176.7 L563.8,180.8 L564.3,179.2 L564.8,174.4 L565.3,168.0 L565.8,161.3 L566.3,155.2 L566.9,150.5 L567.4,148.1 L567.9,149.0 L568.4,153.3 L568.9,159.6 L569.4,166.4 L570.0,172.0 L570.5,175.1 L571.0,174.3 L571.5,170.3 L572.0,164.1 L572.5,157.2 L573.1,151.4 L573.6,148.6 L574.1,149.8 L574.6,154.3 L575.1,160.5 L575.6,166.7 L576.2,170.9 L576.7,171.4 L577.2,168.4 L577.7,163.1 L578.2,156.5 L578.7,149.8 L579.2,144.7 L579.8,143.1 L580.3,145.8 L580.8,150.9 L581.3,156.8 L581.8,162.6 L582.3,167.2 L582.9,169.6 L583.4,168.7 L583.9,165.1 L584.4,159.9 L584.9,154.3 L585.4,149.7 L586.0,147.3 L586.5,148.3 L587.0,153.4 L587.5,160.2 L588.0,166.1 L588.5,169.0 L589.1,168.4 L589.6,166.5 L590.1,163.6 L590.6,159.8 L591.1,155.6 L591.6,151.4 L592.1,147.9 L592.7,146.1 L593.2,151.8 L593.7,164.3 L594.2,171.1 L594.7,170.3 L595.2,167.1 L595.8,162.3 L596.3,156.7 L596.8,150.8 L597.3,145.3 L597.8,141.4 L598.3,140.5 L598.9,145.7 L599.4,155.1 L599.9,164.2 L600.4,169.0 L600.9,168.3 L601.4,165.5 L602.0,161.4 L602.5,156.1 L603.0,150.4 L603.5,145.5 L604.0,142.6 L604.5,143.0 L605.0,147.6 L605.6,154.6 L606.1,162.0 L606.6,168.0 L607.1,170.7 L607.6,170.0 L608.1,167.4 L608.7,163.3 L609.2,158.8 L609.7,154.8 L610.2,152.1 L610.7,150.8 L611.2,152.8 L611.8,158.5 L612.3,160.5 L612.8,157.6 L613.3,152.1 L613.8,145.6 L614.3,139.3 L614.9,134.8 L615.4,133.4 L615.9,135.6 L616.4,140.7 L616.9,147.3 L617.4,154.2 L617.9,160.1 L618.5,163.7 L619.0,164.3 L619.5,162.5 L620.0,158.8 L620.5,154.0 L621.0,148.6 L621.6,143.7 L622.1,140.4 L622.6,140.2 L623.1,145.6 L623.6,154.3 L624.1,162.3 L624.7,165.5 L625.2,163.9 L625.7,159.8 L626.2,154.9 L626.7,149.9 L627.2,144.9 L627.8,140.4 L628.3,137.4 L628.8,136.8 L629.3,140.0 L629.8,147.1 L630.3,155.0 L630.8,161.0 L631.4,162.6 L631.9,161.0 L632.4,158.8 L632.9,156.4 L633.4,153.7 L633.9,150.4 L634.5,147.2 L635.0,145.1 L635.5,145.5 L636.0,152.5 L636.5,162.2 L637.0,168.4 L637.6,168.0 L638.1,166.3 L638.6,164.4 L639.1,162.1 L639.6,159.3 L640.1,156.3 L640.7,153.9 L641.2,152.8 L641.7,153.0 L642.2,158.0 L642.7,171.5 L643.2,177.5 L643.7,175.5 L644.3,172.2 L644.8,168.1 L645.3,164.0 L645.8,160.2 L646.3,157.0 L646.8,154.8 L647.4,153.4 L647.9,152.6 L648.4,153.6 L648.9,157.7 L649.4,163.0 L649.9,167.0 L650.5,167.2 L651.0,164.7 L651.5,160.9 L652.0,156.5 L652.5,152.1 L653.0,148.5 L653.6,146.6 L654.1,147.0 L654.6,151.0 L655.1,156.4 L655.6,160.9 L656.1,162.5 L656.6,161.6 L657.2,160.0 L657.7,157.6 L658.2,155.0 L658.7,152.8 L659.2,150.9 L659.7,149.2 L660.3,148.0 L660.8,149.1 L661.3,154.2 L661.8,160.9 L662.3,166.6 L662.8,168.9 L663.4,168.0 L663.9,165.6 L664.4,161.6 L664.9,156.3 L665.4,150.5 L665.9,145.5 L666.5,142.7 L667.0,142.6 L667.5,148.9 L668.0,159.2 L668.5,167.3 L669.0,168.5 L669.5,167.1 L670.1,164.1 L670.6,159.7 L671.1,154.6 L671.6,149.2 L672.1,144.4 L672.6,141.7 L673.2,144.0 L673.7,154.3 L674.2,162.9 L674.7,164.1 L675.2,164.2" fill="none" stroke="#1eb0ec" stroke-width="0.8" stroke-linejoin="round"/>
<text x="288.8" y="127.9" text-anchor="end" font-size="4.9" fill="#444">0.4</text>
<text x="288.8" y="136.85" text-anchor="end" font-size="4.9" fill="#444">0.3</text>
<text x="288.8" y="145.8" text-anchor="end" font-size="4.9" fill="#444">0.2</text>
<text x="288.8" y="154.75" text-anchor="end" font-size="4.9" fill="#444">0.1</text>
<text x="288.8" y="163.7" text-anchor="end" font-size="4.9" fill="#444">0</text>
<text x="288.8" y="172.65" text-anchor="end" font-size="4.9" fill="#444">-0.1</text>
<text x="288.8" y="181.6" text-anchor="end" font-size="4.9" fill="#444">-0.2</text>
<text x="288.8" y="190.55" text-anchor="end" font-size="4.9" fill="#444">-0.3</text>
<text x="288.8" y="199.5" text-anchor="end" font-size="4.9" fill="#444">-0.4</text>
<text x="294.2" y="207.6" text-anchor="middle" font-size="4.5" fill="#444">1959</text>
<text x="306.59" y="207.6" text-anchor="middle" font-size="4.5" fill="#444">1961</text>
<text x="318.97" y="207.6" text-anchor="middle" font-size="4.5" fill="#444">1963</text>
<text x="331.36" y="207.6" text-anchor="middle" font-size="4.5" fill="#444">1965</text>
<text x="343.74" y="207.6" text-anchor="middle" font-size="4.5" fill="#444">1967</text>
<text x="356.13" y="207.6" text-anchor="middle" font-size="4.5" fill="#444">1969</text>
<text x="368.52" y="207.6" text-anchor="middle" font-size="4.5" fill="#444">1971</text>
<text x="380.9" y="207.6" text-anchor="middle" font-size="4.5" fill="#444">1973</text>
<text x="393.29" y="207.6" text-anchor="middle" font-size="4.5" fill="#444">1975</text>
<text x="405.67" y="207.6" text-anchor="middle" font-size="4.5" fill="#444">1977</text>
<text x="418.06" y="207.6" text-anchor="middle" font-size="4.5" fill="#444">1979</text>
<text x="430.45" y="207.6" text-anchor="middle" font-size="4.5" fill="#444">1981</text>
<text x="442.83" y="207.6" text-anchor="middle" font-size="4.5" fill="#444">1983</text>
<text x="455.22" y="207.6" text-anchor="middle" font-size="4.5" fill="#444">1985</text>
<text x="467.6" y="207.6" text-anchor="middle" font-size="4.5" fill="#444">1987</text>
<text x="479.99" y="207.6" text-anchor="middle" font-size="4.5" fill="#444">1989</text>
<text x="492.38" y="207.6" text-anchor="middle" font-size="4.5" fill="#444">1991</text>
<text x="504.76" y="207.6" text-anchor="middle" font-size="4.5" fill="#444">1993</text>
<text x="517.15" y="207.6" text-anchor="middle" font-size="4.5" fill="#444">1995</text>
<text x="529.53" y="207.6" text-anchor="middle" font-size="4.5" fill="#444">1997</text>
<text x="541.92" y="207.6" text-anchor="middle" font-size="4.5" fill="#444">1999</text>
<text x="554.31" y="207.6" text-anchor="middle" font-size="4.5" fill="#444">2001</text>
<text x="566.69" y="207.6" text-anchor="middle" font-size="4.5" fill="#444">2003</text>
<text x="579.08" y="207.6" text-anchor="middle" font-size="4.5" fill="#444">2005</text>
<text x="591.46" y="207.6" text-anchor="middle" font-size="4.5" fill="#444">2007</text>
<text x="603.85" y="207.6" text-anchor="middle" font-size="4.5" fill="#444">2009</text>
<text x="616.24" y="207.6" text-anchor="middle" font-size="4.5" fill="#444">2011</text>
<text x="628.62" y="207.6" text-anchor="middle" font-size="4.5" fill="#444">2013</text>
<text x="641.01" y="207.6" text-anchor="middle" font-size="4.5" fill="#444">2015</text>
<text x="653.39" y="207.6" text-anchor="middle" font-size="4.5" fill="#444">2017</text>
<text x="665.78" y="207.6" text-anchor="middle" font-size="4.5" fill="#444">2019</text>
<text transform="translate(267.4,165.7) rotate(-90)" text-anchor="middle" font-size="5.9" fill="#404040">Monthly sea level anomaly</text>
<text transform="translate(275.2,165.7) rotate(-90)" text-anchor="middle" font-size="5.9" fill="#404040">(m)</text>
<text x="663" y="194.9" font-size="12" fill="#111">d</text>
<path d="M446.3,215.2H450.1" stroke="#333" stroke-width="0.9"/>
<text x="450.5" y="217.1" font-size="5.6" fill="#555" textLength="18.5" lengthAdjust="spacingAndGlyphs">Darwin</text>
<path d="M490.6,215.2H495" stroke="#1eb0ec" stroke-width="0.9"/>
<text x="495.3" y="217.1" font-size="5.6" fill="#555" textLength="44.6" lengthAdjust="spacingAndGlyphs">Freemantle lag 4</text>
<clipPath id="ce"><rect x="257.6" y="222.2" width="416.4" height="157.4"/></clipPath>
<g clip-path="url(#ce)">
<path d="M460.32,287.74 L461.37,289.45 L462.43,291.6 L462.64,293.76 L463.48,295.28 L464.53,295.28 L466.21,296.8 L466.42,299.2 L467.47,301.17 L467.89,304.04 L468.31,305.82 L470.63,306.71 L472.73,308.27 L473.57,309.17 L474.41,310.52 L475.26,313.23 L476.31,313.23 L477.78,313.92 L477.78,315.97 L478.83,316.89 L480.3,318.51 L481.36,319.44 L482.41,320.6 L482.62,322.94 L483.46,325.3 L483.67,327.92 L483.04,330.09 L482.62,332.03 L482.41,333.74 L481.57,336.2 L480.72,337.95 L479.25,339.45 L478.62,341.22 L477.78,342.75 L477.15,344.55 L476.31,346.88 L475.89,350.29 L474.41,351.09 L472.31,351.09 L470.63,352.16 L468.95,353.5 L468.31,354.58 L466.63,353.23 L465.37,352.7 L464.74,352.16 L464.32,352.43 L462.64,353.77 L460.32,352.7 L458.43,352.7 L456.33,351.62 L454.64,349.77 L454.22,347.92 L453.17,345.58 L451.91,345.32 L451.07,344.29 L451.91,343.26 L451.07,341.73 L450.44,343.52 L448.75,344.29 L449.6,342.49 L450.23,340.46 L450.65,338.2 L449.39,339.96 L448.12,341.22 L446.65,342.75 L445.81,343.52 L444.97,342.49 L444.34,340.21 L442.86,338.2 L441.6,336.7 L439.29,336.2 L436.55,334.97 L432.98,335.22 L429.82,336.2 L426.67,336.95 L423.51,338.2 L421.41,339.45 L420.36,340.97 L417.63,341.22 L414.05,340.97 L411.95,341.98 L409.84,343.26 L408.37,344.03 L405.64,343.77 L403.53,342.49 L402.48,341.98 L402.48,340.21 L403.74,339.45 L403.95,337.45 L403.95,335.46 L402.9,333.25 L402.48,331.3 L402.27,328.88 L401.01,326.96 L400.59,324.59 L399.12,322.23 L399.12,320.6 L399.54,318.97 L399.12,317.12 L399.96,314.83 L399.75,313.69 L400.59,312.1 L401.64,312.1 L403.53,311.2 L406.06,309.39 L408.37,309.39 L410.47,308.72 L411.95,308.05 L414.05,307.38 L415.52,306.71 L416.57,304.71 L417.84,303.16 L417.63,301.83 L419.1,300.08 L420.36,301.39 L420.57,299.64 L422.25,299.86 L422.46,298.11 L423.94,297.67 L424.15,295.93 L425.62,295.28 L427.3,294.41 L428.77,295.06 L430.03,296.8 L430.46,297.89 L430.88,296.58 L432.56,296.8 L433.4,295.93 L432.98,294.84 L434.45,293.11 L434.66,292.03 L435.71,291.39 L436.77,290.96 L438.24,291.17 L439.5,290.96 L439.5,289.45 L440.76,289.88 L442.23,290.31 L444.13,290.53 L445.6,290.96 L446.65,290.53 L448.12,290.96 L448.54,291.6 L447.91,293.11 L446.44,293.54 L446.44,295.28 L445.39,296.8 L446.23,297.45 L447.7,298.32 L449.39,299.42 L451.28,300.95 L452.96,302.05 L454.22,302.71 L456.12,302.71 L456.96,302.27 L457.8,300.51 L458.43,298.11 L458.43,295.93 L458.22,293.76 L458.64,291.82 L459.06,290.1 L459.69,288.17Z M464.74,358.97 L466.21,359.25 L468.53,360.08 L469.79,359.53 L472.52,359.53 L472.52,362.33 L471.89,364.89 L471.47,366.04 L469.79,367.2 L468.31,367.2 L467.26,366.62 L466,363.46 L465.16,361.2Z M435.92,266.99 L437.82,265.94 L439.29,265.94 L441.39,266.57 L442.65,266.99 L442.86,269.31 L444.13,271.83 L445.6,272.26 L447.49,269.94 L449.39,268.47 L450.86,268.47 L452.54,269.31 L454.64,270.15 L456.54,270.57 L458.22,270.78 L460.32,271.83 L462.43,272.47 L464.11,273.31 L465.58,274.57 L467.26,275.63 L468.74,276.9 L470.63,277.53 L471.47,278.38 L471.05,279.22 L469.79,279.86 L470.21,280.92 L471.47,281.98 L472.31,283.26 L473.15,284.32 L474.62,284.75 L474.62,286.03 L476.1,286.67 L477.78,286.88 L476.73,287.52 L475.47,287.1 L473.57,286.67 L471.68,286.45 L470.63,285.39 L469.58,284.32 L468.74,283.26 L467.89,281.98 L466.21,281.56 L464.53,280.92 L463.06,281.98 L462.43,283.26 L461.79,284.11 L460.53,284.75 L458.22,284.53 L456.75,283.26 L455.27,282.41 L453.8,282.19 L452.75,282.62 L450.86,282.83 L450.02,281.56 L450.86,280.28 L450.86,276.69 L448.75,275.42 L446.65,274.57 L444.55,274.15 L441.81,272.89 L440.34,273.52 L439.71,273.31 L438.24,271.41 L439.08,270.57 L441.39,270.15 L440.34,269.94 L438.66,269.73 L436.77,268.47Z M472.52,276.9 L473.99,276.69 L475.68,276.69 L476.52,276.26 L477.36,276.69 L478.62,275.63 L479.46,275.42 L480.3,273.94 L481.14,274.15 L480.93,275.21 L479.25,276.69 L477.15,278.17 L475.26,278.38 L473.57,277.95 L472.52,277.53Z M477.57,270.57 L479.25,271.41 L480.93,272.68 L482.62,274.57 L482.83,275.42 L481.99,274.79 L480.3,273.31 L478.2,271.41Z M485.77,275.63 L487.67,277.74 L488.51,279.44 L487.45,279.44 L485.98,277.53Z M505.54,308.27 L507.65,309.39 L510.8,312.1 L512.06,313.23 L511.43,313.46 L508.7,311.87 L506.17,309.84Z M523.84,358.42 L527.21,360.36 L526.37,363.18 L524.47,365.47 L524.68,367.78 L520.9,369.24 L519.85,372.21 L519.42,374.01 L517.11,376.14 L514.8,376.14 L513.33,375.23 L510.8,373.71 L511.01,371.91 L512.9,370.42 L514.59,368.37 L517.11,366.91 L519.21,364.89 L520.69,362.61 L521.32,361.2 L522.58,359.53Z M523.84,342.24 L525.31,343.77 L527.21,345.84 L528.26,348.45 L529.73,347.92 L530.57,350.56 L532.89,351.36 L534.99,350.56 L536.04,350.83 L534.99,353.77 L534.78,354.85 L532.89,355.94 L532.68,357.59 L531.2,359.53 L529.31,361.48 L528.05,360.64 L528.68,358.69 L527.84,356.49 L526.16,355.13 L527.84,353.77 L528.05,351.62 L527.63,348.97 L526.37,347.4 L524.47,344.55Z M381.87,279.44 L383.55,277.53 L385.66,277.64 L388.39,278.38 L389.86,279.44 L393.02,279.65 L394.49,279.01 L396.17,279.65 L397.43,279.65 L398.27,281.13 L401.22,281.34 L401.43,282.83 L399.33,282.83 L396.17,282.62 L393.02,282.19 L389.86,281.34 L387.34,281.34 L384.39,280.71 L382.5,279.65Z M397.64,279.65 L400.59,279.75 L400.59,280.28 L397.64,280.28Z M401.22,282.19 L402.69,282.19 L403.95,282.83 L402.9,283.68 L401.64,282.83Z M404.58,282.62 L406.06,282.62 L405.64,283.9 L404.58,283.68Z M406.27,283.04 L407.74,282.41 L409.21,282.62 L411.11,282.83 L410.89,283.68 L408.79,283.9 L406.69,284.11 L406.27,283.47Z M412.58,283.04 L414.05,282.62 L416.15,283.04 L418.26,282.62 L419.31,282.41 L418.89,283.26 L417.2,283.68 L415.1,283.9 L413,283.68Z M410.89,284.96 L413,284.96 L414.68,286.24 L413.42,286.88 L411.32,285.81Z M420.36,286.88 L422.04,285.17 L423.94,284.11 L425.62,283.04 L428.14,282.83 L427.72,283.47 L425.62,284.53 L423.51,285.39 L421.83,286.67 L420.57,287.31Z M425.2,281.13 L427.3,281.13 L427.3,281.77 L425.41,281.77Z M436.13,280.28 L437.61,279.86 L437.19,281.98 L436.13,282.41Z M442.65,276.47 L444.13,276.9 L443.92,279.22 L442.65,279.01Z M429.82,271.83 L431.93,270.99 L434.03,271.2 L435.71,272.26 L434.03,272.47 L431.93,272.26 L430.25,272.47Z M425.62,271.62 L428.14,272.04 L427.72,273.1 L425.83,272.89Z M428.77,260.47 L429.82,261.94 L431.3,262.37 L429.82,263.21 L431.51,264.05 L429.82,264.47 L430.88,266.15 L429.4,266.57 L428.98,264.05 L428.35,263Z M414.68,262.37 L417.2,263 L420.36,263.21 L422.46,263 L423.94,261.73 L423.09,264.05 L420.36,264.26 L417.2,264.05 L415.1,264.05 L414.26,266.15 L416.15,266.99 L418.26,266.78 L420.15,266.99 L418.47,267.83 L416.57,268.47 L415.73,269.31 L416.78,270.57 L418.26,271.83 L419.73,274.15 L418.68,275 L417.2,275.21 L416.15,273.94 L415.1,271.41 L414.26,271.41 L413.84,273.52 L414.05,276.9 L411.95,276.9 L411.74,274.57 L410.68,272.47 L411.53,270.78 L411.74,268.26 L412.58,266.15 L413,264.05Z M389.86,261.31 L391.12,260.89 L391.97,261.52 L394.07,262.16 L395.12,259.84 L397.22,258.79 L398.27,258.37 L400.38,255.41 L402.48,254.57 L404.58,252.46 L406.69,250.34 L407.74,251.4 L408.79,252.46 L411.32,254.15 L409.42,254.99 L407.95,256.26 L408.37,258.79 L408.79,260.26 L410.68,262.79 L408.79,263.21 L407.74,265.1 L407.74,267.2 L405.85,268.26 L405.64,270.36 L405.22,272.26 L404.58,273.31 L402.48,273.31 L401.64,272.68 L400.38,272.26 L398.27,271.83 L396.17,272.26 L395.54,271.41 L394.07,271.41 L392.6,271.2 L392.18,269.1 L390.91,267.62 L389.86,265.73 L389.86,264.05Z M361.05,253.3 L365.67,254.15 L367.36,256.47 L369.88,258.37 L371.98,260.47 L373.67,260.89 L375.14,261.73 L377.24,263 L378.92,264.47 L378.92,266.78 L380.19,267.62 L381.24,269.94 L383.13,271.41 L383.34,273.52 L383.34,277.32 L381.87,277.32 L380.61,277.53 L379.35,276.05 L377.24,274.36 L375.77,272.89 L373.46,270.57 L372.4,268.26 L371.56,266.36 L370.3,264.68 L368.83,263 L368.2,261.52 L366.09,259.84 L363.57,257.31 L361.47,254.99Z M381.87,268.47 L383.55,268.26 L385.23,270.57 L384.6,271.41 L383.13,270.15Z M386.92,270.57 L388.39,270.78 L388.18,271.83 L386.92,271.62Z M417.2,250.34 L418.26,248.22 L420.36,246.94 L422.46,247.16 L424.57,245.03 L426.04,246.09 L426.67,249.28 L426.04,251.82 L424.36,253.3 L423.51,251.4 L421.41,251.4 L420.36,249.07 L418.89,249.49Z M496.29,284.53 L498.81,284.96 L498.6,286.03 L496.5,285.6Z M499.86,286.67 L502.18,287.52 L501.76,287.95 L500.07,287.31Z M511.01,296.15 L512.27,297.02 L512.06,298.32 L511.22,297.89Z M512.27,298.98 L513.54,299.64 L513.33,300.51 L512.48,300.08Z M413.63,236.44 L416.15,236.87 L415.52,239.24 L414.05,238.6Z M418.26,241.82 L420.36,242.25 L419.73,245.88 L418.05,244.39Z M420.99,241.39 L421.62,241.82 L420.15,244.81 L419.94,243.96Z M422.04,240.75 L423.51,241.18 L423.94,243.75 L422.88,243.96 L422.25,242.25Z M422.04,238.6 L424.99,239.03 L424.57,241.61 L422.67,241.18Z M420.78,243.75 L422.67,243.96 L422.25,244.81 L420.99,244.81Z M416.99,239.89 L419.52,240.75 L418.26,242.89 L417.2,242.46Z M413,225.49 L414.26,225.27 L417.63,225.49 L417.2,228.81 L416.15,231.44 L417.2,235.36 L421.83,237.52 L420.36,238.38 L416.15,236.01 L414.26,234.92 L413,233.62 L413,230.56 L413.63,228.81Z M407.11,247.58 L412.58,240.75 L411.95,240.53 L406.69,246.94Z M328.45,244.39 L329.5,244.39 L331.6,247.16 L332.86,250.34 L332.23,251.61 L330.13,252.67 L328.87,251.4 L328.45,248.22Z M389.02,223.94 L391.97,221.93 L394.07,223.05 L391.97,226.16 L389.86,225.72Z M264.29,290.53 L266.19,295.93 L266.61,298.11 L265.35,301.39 L264.29,304.71 L262.61,309.17 L261.14,313.69 L259.67,318.97 L256.3,320.6 L253.15,319.44 L252.1,315.97 L252.31,312.55 L253.78,309.17 L253.99,305.82 L253.15,302.49 L254.2,299.64 L257.35,298.54 L260.51,296.58 L261.56,293.76Z M240.53,221.03 L243.68,222.15 L245.79,225.49 L247.89,228.81 L250.2,232.09 L251.67,238.17 L255.25,237.95 L261.56,235.36 L265.77,233.18 L270.39,231.88 L274.18,229.03 L277.34,226.82 L280.49,224.61 L282.17,222.6 L283.65,221.26 L286.38,216.51 L286.8,198.9 L240.53,198.9Z M223.7,222.15 L238.84,222.15 L241.58,226.6 L243.68,232.09 L246.84,235.36 L251.67,238.81 L253.15,242.89 L255.25,243.1 L259.46,241.61 L263.66,241.18 L268.29,240.1 L267.87,242.89 L266.82,246.09 L264.72,250.34 L261.56,254.57 L258.41,258.79 L254.2,261.94 L249.99,266.15 L246.84,269.31 L244.73,271.41 L243.26,275 L242.63,278.8 L243.68,281.98 L244.73,287.31 L245.79,291.6 L246,295.93 L244.73,299.2 L238.42,302.49 L235.27,308.05 L235.27,312.55 L235.27,317.12 L230.01,320.6 L229.59,322.94 L228.96,327.68 L223.7,333.74 L213.18,341.22 L202.67,343.77 L202.67,222.15Z M299.42,209.6 L304.68,215.37 L307.83,219.91 L313.72,221.03 L313.72,224.38 L315.19,231 L317.3,236.44 L319.4,240.75 L321.08,245.03 L323.61,248.01 L325.08,246.3 L327.39,243.32 L328.45,240.75 L329.5,236.44 L329.29,232.09 L332.02,230.12 L333.7,228.81 L337.28,225.94 L340.43,222.82 L343.59,218.78 L346.74,217.65 L349.9,217.65 L353.05,216.51 L354.74,220.36 L356.21,223.27 L358.94,226.6 L359.36,231 L361.47,231.44 L365.67,229.91 L366.09,235.36 L367.78,239.67 L368.41,243.96 L367.36,247.16 L371.56,251.4 L371.77,253.51 L373.04,257.73 L375.14,259.84 L378.29,262.16 L379.77,262.16 L378.29,258.79 L378.08,255.63 L376.19,252.46 L373.67,250.55 L371.77,249.28 L370.93,247.16 L369.25,243.96 L369.88,239.67 L370.93,236.44 L373.04,238.17 L376.19,239.67 L377.24,241.82 L381.03,246.94 L381.45,245.03 L384.6,243.96 L386.71,242.89 L389.86,240.75 L390.49,237.52 L389.86,233.18 L386.71,229.91 L384.6,226.6 L382.92,224.38 L384.6,221.48 L387.76,218.78 L391.97,219.91 L402.48,215.37 L413,198.9 L299.42,198.9Z M693.79,214.23 L695.47,221.03 L696.31,222.15 L698.42,224.16 L703.25,226.6 L707.46,228.81 L711.67,230.56 L715.87,231.66 L719.03,230.56 L722.18,232.09 L724.29,234.27 L726.39,235.57 L729.54,236.44 L732.7,237.09 L733.75,237.74 L735.85,239.67 L736.91,241.18 L737.54,242.25 L737.33,243.96 L739.01,244.39 L741.11,246.09 L743.22,247.79 L745.32,247.79 L747.42,249.07 L749.53,249.49 L749.11,247.58 L750.58,246.3 L753.73,247.37 L754.99,248.22 L754.78,250.98 L755.2,253.51 L755.2,256.68 L753.73,259.63 L751.84,261.94 L749.53,263.42 L748.68,266.15 L747.63,268.26 L749.11,271.41 L747,274.15 L747,277.74 L750.16,280.92 L752.47,284.11 L754.78,288.38 L757.52,293.76 L760.04,298.11 L765.3,300.95 L767.82,303.16 L769.93,304.48 L770.35,308.05 L770.14,312.55 L769.51,315.97 L769.3,320.6 L768.04,326.49 L767.4,331.3 L767.19,336.2 L766.77,341.22 L765.72,345.06 L763.83,348.97 L763.2,352.96 L763.62,357.04 L762.99,362.61 L812.62,362.61 L812.62,331.3 L833.66,308.05 L844.17,275.63 L812.62,265.1 L791.59,247.16 L789.49,243.53 L787.39,242.68 L783.18,242.68 L778.97,242.89 L774.77,242.68 L770.56,240.75 L767.4,241.82 L766.35,240.1 L762.15,241.39 L758.99,242.89 L757.94,245.03 L755.84,246.94 L753.73,245.67 L750.58,245.03 L746.37,246.09 L743.22,243.96 L741.95,241.82 L742.59,235.36 L741.11,233.18 L736.91,231 L731.65,231 L732.7,226.6 L733.75,218.78 L727.44,219.46 L726.39,224.38 L719.03,226.16 L715.87,223.27 L712.72,217.65 L711.67,208.43 L686.43,208.43Z M739.01,218.1 L743.22,215.83 L749.53,215.14 L755.84,218.1 L761.73,221.7 L760.04,222.38 L754.36,222.6 L752.68,218.78 L747.42,218.33 L743.22,217.87Z M761.3,222.6 L766.35,222.38 L770.56,222.82 L773.92,225.27 L773.08,226.16 L767.82,227.26 L765.3,226.38 L761.3,225.94Z M752.89,225.72 L757.31,226.16 L757.1,226.82 L753.1,226.16Z M776.24,225.49 L779.81,225.72 L779.6,226.6 L776.45,226.6Z M533.52,302.49 L536.04,302.27 L536.25,303.82 L533.73,304.04Z M536.67,300.29 L539.2,299.64 L539.2,300.95 L536.88,301.17Z" fill="#c8ced8"/>
<rect x="265.77" y="243.96" width="42.07" height="42.28" fill="#6cc062" fill-opacity="0.85"/>
<text x="283" y="266.2" font-size="3.4" fill="#222" textLength="9" lengthAdjust="spacingAndGlyphs">IOD-W</text>
<rect x="349.9" y="265.1" width="42.07" height="21.14" fill="#6cc062" fill-opacity="0.85"/>
<text x="367.4" y="276.3" font-size="3.4" fill="#222" textLength="7.6" lengthAdjust="spacingAndGlyphs">IOD-E</text>
<rect x="560.23" y="254.57" width="105.16" height="21.06" fill="#6a9fd6"/>
<text x="605.7" y="266.7" font-size="3.6" fill="#222" textLength="13.1" lengthAdjust="spacingAndGlyphs">Niño3.4</text><defs><pattern id="hatch" width="1.5" height="1.5" patternUnits="userSpaceOnUse"><path d="M0,0.4H1.5M0.4,0V1.5" stroke="#1a1a1a" stroke-width="0.45" stroke-opacity="0.75"/></pattern><pattern id="dots" width="1.4" height="1.4" patternUnits="userSpaceOnUse"><path d="M0,0.4H1.4M0.4,0V1.4" stroke="#555" stroke-width="0.3"/></pattern><clipPath id="ausclip"><path d="M460.32,287.74 L461.37,289.45 L462.43,291.6 L462.64,293.76 L463.48,295.28 L464.53,295.28 L466.21,296.8 L466.42,299.2 L467.47,301.17 L467.89,304.04 L468.31,305.82 L470.63,306.71 L472.73,308.27 L473.57,309.17 L474.41,310.52 L475.26,313.23 L476.31,313.23 L477.78,313.92 L477.78,315.97 L478.83,316.89 L480.3,318.51 L481.36,319.44 L482.41,320.6 L482.62,322.94 L483.46,325.3 L483.67,327.92 L483.04,330.09 L482.62,332.03 L482.41,333.74 L481.57,336.2 L480.72,337.95 L479.25,339.45 L478.62,341.22 L477.78,342.75 L477.15,344.55 L476.31,346.88 L475.89,350.29 L474.41,351.09 L472.31,351.09 L470.63,352.16 L468.95,353.5 L468.31,354.58 L466.63,353.23 L465.37,352.7 L464.74,352.16 L464.32,352.43 L462.64,353.77 L460.32,352.7 L458.43,352.7 L456.33,351.62 L454.64,349.77 L454.22,347.92 L453.17,345.58 L451.91,345.32 L451.07,344.29 L451.91,343.26 L451.07,341.73 L450.44,343.52 L448.75,344.29 L449.6,342.49 L450.23,340.46 L450.65,338.2 L449.39,339.96 L448.12,341.22 L446.65,342.75 L445.81,343.52 L444.97,342.49 L444.34,340.21 L442.86,338.2 L441.6,336.7 L439.29,336.2 L436.55,334.97 L432.98,335.22 L429.82,336.2 L426.67,336.95 L423.51,338.2 L421.41,339.45 L420.36,340.97 L417.63,341.22 L414.05,340.97 L411.95,341.98 L409.84,343.26 L408.37,344.03 L405.64,343.77 L403.53,342.49 L402.48,341.98 L402.48,340.21 L403.74,339.45 L403.95,337.45 L403.95,335.46 L402.9,333.25 L402.48,331.3 L402.27,328.88 L401.01,326.96 L400.59,324.59 L399.12,322.23 L399.12,320.6 L399.54,318.97 L399.12,317.12 L399.96,314.83 L399.75,313.69 L400.59,312.1 L401.64,312.1 L403.53,311.2 L406.06,309.39 L408.37,309.39 L410.47,308.72 L411.95,308.05 L414.05,307.38 L415.52,306.71 L416.57,304.71 L417.84,303.16 L417.63,301.83 L419.1,300.08 L420.36,301.39 L420.57,299.64 L422.25,299.86 L422.46,298.11 L423.94,297.67 L424.15,295.93 L425.62,295.28 L427.3,294.41 L428.77,295.06 L430.03,296.8 L430.46,297.89 L430.88,296.58 L432.56,296.8 L433.4,295.93 L432.98,294.84 L434.45,293.11 L434.66,292.03 L435.71,291.39 L436.77,290.96 L438.24,291.17 L439.5,290.96 L439.5,289.45 L440.76,289.88 L442.23,290.31 L444.13,290.53 L445.6,290.96 L446.65,290.53 L448.12,290.96 L448.54,291.6 L447.91,293.11 L446.44,293.54 L446.44,295.28 L445.39,296.8 L446.23,297.45 L447.7,298.32 L449.39,299.42 L451.28,300.95 L452.96,302.05 L454.22,302.71 L456.12,302.71 L456.96,302.27 L457.8,300.51 L458.43,298.11 L458.43,295.93 L458.22,293.76 L458.64,291.82 L459.06,290.1 L459.69,288.17Z"/></clipPath></defs>
<g clip-path="url(#ausclip)">
<path d="M408,305 L412,296 L420,288 L430,284 L452,284 L452,298 L450.5,302.5 L446,301.5 L441,302 L436,304 L430,304.5 L424,305 L418,306.5 L413,309 L408,311Z" fill="#f5921e"/>
<path d="M424,299 L432,297 L434.5,285 L448,285 L448,296 L438,301.5 L437.5,314 L424.5,316Z M457,286 L466,286 L466,306 L459,306Z" fill="#3a2e22" fill-opacity="0.33"/>
<path d="M424,299 L432,297 L434.5,285 L448,285 L448,296 L438,301.5 L437.5,314 L424.5,316Z M457,286 L466,286 L466,306 L459,306Z" fill="url(#hatch)"/>
<path d="M446.5,302 L458.5,301 L459,310.5 L447,310.5Z" fill="#e4e4e4" fill-opacity="0.7"/>
<path d="M446.5,302 L458.5,301 L459,310.5 L447,310.5Z" fill="url(#dots)" stroke="#555" stroke-width="0.3"/>
</g>
<circle cx="439.4" cy="290.8" r="1.1" fill="#000"/>
<text x="440.8" y="289.4" font-size="4.4" fill="#222" textLength="37" lengthAdjust="spacingAndGlyphs">East Alligator River</text>
<circle cx="403.8" cy="336.1" r="1.2" fill="#000"/>
<text x="405.3" y="334.6" font-size="3.4" fill="#222" textLength="28" lengthAdjust="spacingAndGlyphs">Freemantle St.</text>
<path d="M286.8,222.2V379.6 M328.87,222.2V379.6 M370.93,222.2V379.6 M413,222.2V379.6 M455.06,222.2V379.6 M497.13,222.2V379.6 M539.2,222.2V379.6 M581.26,222.2V379.6 M623.33,222.2V379.6 M665.39,222.2V379.6 M257.6,265.1H674 M257.6,308.05H674 M257.6,357.04H674" stroke="#e9dfc8" stroke-width="0.7" stroke-opacity="0.75" fill="none"/>
</g>
<path d="M257.6,222.2H674" stroke="#333" stroke-width="0.9"/>
<path d="M257.6,222.2V379.6" stroke="#bbb" stroke-width="0.8"/>
<path d="M674,222.2V379.6" stroke="#ddd" stroke-width="0.6"/>
<text x="676.5" y="268.9" font-size="5" font-weight="bold" font-family="Liberation Serif, serif" fill="#222" textLength="2.4" lengthAdjust="spacingAndGlyphs">0</text>
<text x="676.1" y="309.9" font-size="5" font-weight="bold" font-family="Liberation Serif, serif" fill="#222" textLength="6.9" lengthAdjust="spacingAndGlyphs">20S</text>
<text x="675.1" y="358.9" font-size="5" font-weight="bold" font-family="Liberation Serif, serif" fill="#222" textLength="6.9" lengthAdjust="spacingAndGlyphs">40S</text>
<text x="283.45" y="385.9" font-size="4.7" font-weight="bold" font-family="Liberation Serif, serif" fill="#222" textLength="7.5" lengthAdjust="spacingAndGlyphs">60E</text>
<text x="367" y="385.9" font-size="4.7" font-weight="bold" font-family="Liberation Serif, serif" fill="#222" textLength="9.6" lengthAdjust="spacingAndGlyphs">100E</text>
<text x="451.1" y="385.9" font-size="4.7" font-weight="bold" font-family="Liberation Serif, serif" fill="#222" textLength="9.6" lengthAdjust="spacingAndGlyphs">140E</text>
<text x="534.7" y="385.9" font-size="4.7" font-weight="bold" font-family="Liberation Serif, serif" fill="#222" textLength="9.6" lengthAdjust="spacingAndGlyphs">180E</text>
<text x="620.7" y="385.9" font-size="4.7" font-weight="bold" font-family="Liberation Serif, serif" fill="#222" textLength="11.2" lengthAdjust="spacingAndGlyphs">140W</text>
<path d="M257.6,379.6H674" stroke="#eeeeee" stroke-width="0.6"/>
<text x="663.2" y="375.6" font-size="14.5" font-family="Liberation Serif, serif" fill="#111">e</text>
<rect x="272.2" y="334.1" width="10.9" height="4.4" fill="#8caee0"/>
<rect x="272.2" y="341.4" width="10.9" height="4.5" fill="#88c878"/>
<rect x="272.2" y="349" width="10.9" height="4.7" fill="#f29a63"/>
<path d="M272.4,357.9h1.4v1.6h-1.4zM274.6,357.9h1.2v4h-1.2zM277.6,357.9h1.6v1.6h-1.6zM279.6,359.2h1.2v2.6h-1.2zM281.3,357.9h1.5v3.9h-1.5z" fill="#8a8a8a"/>
<path d="M274.8,359.5h1v2.2h-1zM277.8,360h1v1.5h-1z" fill="#333"/>
<rect x="272.3" y="364.2" width="11.2" height="4.8" rx="0.6" fill="#9a9a9a"/>
<rect x="273.3" y="365.1" width="9.2" height="3" fill="#d6d6d6"/>
<path d="M274.5,365.6h2v2h-2zM278.5,365.6h2.5v2h-2.5z" fill="#b0b0b0"/>
<text x="288.4" y="338" font-size="4.5" fill="#333" textLength="11.4" lengthAdjust="spacingAndGlyphs">ENSO</text>
<text x="288.4" y="345.4" font-size="4.5" fill="#333" textLength="7.5" lengthAdjust="spacingAndGlyphs">IOD</text>
<text x="288.4" y="353.2" font-size="4.5" fill="#333" textLength="46.7" lengthAdjust="spacingAndGlyphs">Monsoonal North-West</text>
<text x="288.4" y="361.8" font-size="4.5" fill="#333" textLength="19.5" lengthAdjust="spacingAndGlyphs">SPEI grids</text>
<text x="288.4" y="368.8" font-size="4.5" fill="#333" textLength="22.5" lengthAdjust="spacingAndGlyphs">PDSI region</text>
</svg>
</body></html>
